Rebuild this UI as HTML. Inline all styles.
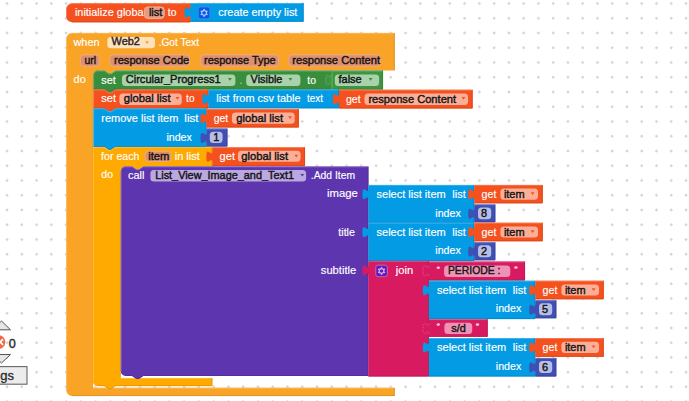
<!DOCTYPE html>
<html><head><meta charset="utf-8"><style>
html,body{margin:0;padding:0;background:#fff;overflow:hidden}
svg{display:block;font-family:"Liberation Sans",Arial,sans-serif}
</style></head><body>
<svg width="689" height="401" viewBox="0 0 689 401">
<rect width="689" height="401" fill="#fff"/>
<path d="M5.25,3.50h3.6M7.05,1.70v3.6M20.01,3.50h3.6M21.81,1.70v3.6M34.77,3.50h3.6M36.57,1.70v3.6M49.53,3.50h3.6M51.33,1.70v3.6M64.29,3.50h3.6M66.09,1.70v3.6M79.05,3.50h3.6M80.85,1.70v3.6M93.81,3.50h3.6M95.61,1.70v3.6M108.57,3.50h3.6M110.37,1.70v3.6M123.33,3.50h3.6M125.13,1.70v3.6M138.09,3.50h3.6M139.89,1.70v3.6M152.85,3.50h3.6M154.65,1.70v3.6M167.61,3.50h3.6M169.41,1.70v3.6M182.37,3.50h3.6M184.17,1.70v3.6M197.13,3.50h3.6M198.93,1.70v3.6M211.89,3.50h3.6M213.69,1.70v3.6M226.65,3.50h3.6M228.45,1.70v3.6M241.41,3.50h3.6M243.21,1.70v3.6M256.17,3.50h3.6M257.97,1.70v3.6M270.93,3.50h3.6M272.73,1.70v3.6M285.69,3.50h3.6M287.49,1.70v3.6M300.45,3.50h3.6M302.25,1.70v3.6M315.21,3.50h3.6M317.01,1.70v3.6M329.97,3.50h3.6M331.77,1.70v3.6M344.73,3.50h3.6M346.53,1.70v3.6M359.49,3.50h3.6M361.29,1.70v3.6M374.25,3.50h3.6M376.05,1.70v3.6M389.01,3.50h3.6M390.81,1.70v3.6M403.77,3.50h3.6M405.57,1.70v3.6M418.53,3.50h3.6M420.33,1.70v3.6M433.29,3.50h3.6M435.09,1.70v3.6M448.05,3.50h3.6M449.85,1.70v3.6M462.81,3.50h3.6M464.61,1.70v3.6M477.57,3.50h3.6M479.37,1.70v3.6M492.33,3.50h3.6M494.13,1.70v3.6M507.09,3.50h3.6M508.89,1.70v3.6M521.85,3.50h3.6M523.65,1.70v3.6M536.61,3.50h3.6M538.41,1.70v3.6M551.37,3.50h3.6M553.17,1.70v3.6M566.13,3.50h3.6M567.93,1.70v3.6M580.89,3.50h3.6M582.69,1.70v3.6M595.65,3.50h3.6M597.45,1.70v3.6M610.41,3.50h3.6M612.21,1.70v3.6M625.17,3.50h3.6M626.97,1.70v3.6M639.93,3.50h3.6M641.73,1.70v3.6M654.69,3.50h3.6M656.49,1.70v3.6M669.45,3.50h3.6M671.25,1.70v3.6M684.21,3.50h3.6M686.01,1.70v3.6M5.25,18.24h3.6M7.05,16.44v3.6M20.01,18.24h3.6M21.81,16.44v3.6M34.77,18.24h3.6M36.57,16.44v3.6M49.53,18.24h3.6M51.33,16.44v3.6M64.29,18.24h3.6M66.09,16.44v3.6M79.05,18.24h3.6M80.85,16.44v3.6M93.81,18.24h3.6M95.61,16.44v3.6M108.57,18.24h3.6M110.37,16.44v3.6M123.33,18.24h3.6M125.13,16.44v3.6M138.09,18.24h3.6M139.89,16.44v3.6M152.85,18.24h3.6M154.65,16.44v3.6M167.61,18.24h3.6M169.41,16.44v3.6M182.37,18.24h3.6M184.17,16.44v3.6M197.13,18.24h3.6M198.93,16.44v3.6M211.89,18.24h3.6M213.69,16.44v3.6M226.65,18.24h3.6M228.45,16.44v3.6M241.41,18.24h3.6M243.21,16.44v3.6M256.17,18.24h3.6M257.97,16.44v3.6M270.93,18.24h3.6M272.73,16.44v3.6M285.69,18.24h3.6M287.49,16.44v3.6M300.45,18.24h3.6M302.25,16.44v3.6M315.21,18.24h3.6M317.01,16.44v3.6M329.97,18.24h3.6M331.77,16.44v3.6M344.73,18.24h3.6M346.53,16.44v3.6M359.49,18.24h3.6M361.29,16.44v3.6M374.25,18.24h3.6M376.05,16.44v3.6M389.01,18.24h3.6M390.81,16.44v3.6M403.77,18.24h3.6M405.57,16.44v3.6M418.53,18.24h3.6M420.33,16.44v3.6M433.29,18.24h3.6M435.09,16.44v3.6M448.05,18.24h3.6M449.85,16.44v3.6M462.81,18.24h3.6M464.61,16.44v3.6M477.57,18.24h3.6M479.37,16.44v3.6M492.33,18.24h3.6M494.13,16.44v3.6M507.09,18.24h3.6M508.89,16.44v3.6M521.85,18.24h3.6M523.65,16.44v3.6M536.61,18.24h3.6M538.41,16.44v3.6M551.37,18.24h3.6M553.17,16.44v3.6M566.13,18.24h3.6M567.93,16.44v3.6M580.89,18.24h3.6M582.69,16.44v3.6M595.65,18.24h3.6M597.45,16.44v3.6M610.41,18.24h3.6M612.21,16.44v3.6M625.17,18.24h3.6M626.97,16.44v3.6M639.93,18.24h3.6M641.73,16.44v3.6M654.69,18.24h3.6M656.49,16.44v3.6M669.45,18.24h3.6M671.25,16.44v3.6M684.21,18.24h3.6M686.01,16.44v3.6M5.25,32.99h3.6M7.05,31.19v3.6M20.01,32.99h3.6M21.81,31.19v3.6M34.77,32.99h3.6M36.57,31.19v3.6M49.53,32.99h3.6M51.33,31.19v3.6M64.29,32.99h3.6M66.09,31.19v3.6M79.05,32.99h3.6M80.85,31.19v3.6M93.81,32.99h3.6M95.61,31.19v3.6M108.57,32.99h3.6M110.37,31.19v3.6M123.33,32.99h3.6M125.13,31.19v3.6M138.09,32.99h3.6M139.89,31.19v3.6M152.85,32.99h3.6M154.65,31.19v3.6M167.61,32.99h3.6M169.41,31.19v3.6M182.37,32.99h3.6M184.17,31.19v3.6M197.13,32.99h3.6M198.93,31.19v3.6M211.89,32.99h3.6M213.69,31.19v3.6M226.65,32.99h3.6M228.45,31.19v3.6M241.41,32.99h3.6M243.21,31.19v3.6M256.17,32.99h3.6M257.97,31.19v3.6M270.93,32.99h3.6M272.73,31.19v3.6M285.69,32.99h3.6M287.49,31.19v3.6M300.45,32.99h3.6M302.25,31.19v3.6M315.21,32.99h3.6M317.01,31.19v3.6M329.97,32.99h3.6M331.77,31.19v3.6M344.73,32.99h3.6M346.53,31.19v3.6M359.49,32.99h3.6M361.29,31.19v3.6M374.25,32.99h3.6M376.05,31.19v3.6M389.01,32.99h3.6M390.81,31.19v3.6M403.77,32.99h3.6M405.57,31.19v3.6M418.53,32.99h3.6M420.33,31.19v3.6M433.29,32.99h3.6M435.09,31.19v3.6M448.05,32.99h3.6M449.85,31.19v3.6M462.81,32.99h3.6M464.61,31.19v3.6M477.57,32.99h3.6M479.37,31.19v3.6M492.33,32.99h3.6M494.13,31.19v3.6M507.09,32.99h3.6M508.89,31.19v3.6M521.85,32.99h3.6M523.65,31.19v3.6M536.61,32.99h3.6M538.41,31.19v3.6M551.37,32.99h3.6M553.17,31.19v3.6M566.13,32.99h3.6M567.93,31.19v3.6M580.89,32.99h3.6M582.69,31.19v3.6M595.65,32.99h3.6M597.45,31.19v3.6M610.41,32.99h3.6M612.21,31.19v3.6M625.17,32.99h3.6M626.97,31.19v3.6M639.93,32.99h3.6M641.73,31.19v3.6M654.69,32.99h3.6M656.49,31.19v3.6M669.45,32.99h3.6M671.25,31.19v3.6M684.21,32.99h3.6M686.01,31.19v3.6M5.25,47.73h3.6M7.05,45.93v3.6M20.01,47.73h3.6M21.81,45.93v3.6M34.77,47.73h3.6M36.57,45.93v3.6M49.53,47.73h3.6M51.33,45.93v3.6M64.29,47.73h3.6M66.09,45.93v3.6M79.05,47.73h3.6M80.85,45.93v3.6M93.81,47.73h3.6M95.61,45.93v3.6M108.57,47.73h3.6M110.37,45.93v3.6M123.33,47.73h3.6M125.13,45.93v3.6M138.09,47.73h3.6M139.89,45.93v3.6M152.85,47.73h3.6M154.65,45.93v3.6M167.61,47.73h3.6M169.41,45.93v3.6M182.37,47.73h3.6M184.17,45.93v3.6M197.13,47.73h3.6M198.93,45.93v3.6M211.89,47.73h3.6M213.69,45.93v3.6M226.65,47.73h3.6M228.45,45.93v3.6M241.41,47.73h3.6M243.21,45.93v3.6M256.17,47.73h3.6M257.97,45.93v3.6M270.93,47.73h3.6M272.73,45.93v3.6M285.69,47.73h3.6M287.49,45.93v3.6M300.45,47.73h3.6M302.25,45.93v3.6M315.21,47.73h3.6M317.01,45.93v3.6M329.97,47.73h3.6M331.77,45.93v3.6M344.73,47.73h3.6M346.53,45.93v3.6M359.49,47.73h3.6M361.29,45.93v3.6M374.25,47.73h3.6M376.05,45.93v3.6M389.01,47.73h3.6M390.81,45.93v3.6M403.77,47.73h3.6M405.57,45.93v3.6M418.53,47.73h3.6M420.33,45.93v3.6M433.29,47.73h3.6M435.09,45.93v3.6M448.05,47.73h3.6M449.85,45.93v3.6M462.81,47.73h3.6M464.61,45.93v3.6M477.57,47.73h3.6M479.37,45.93v3.6M492.33,47.73h3.6M494.13,45.93v3.6M507.09,47.73h3.6M508.89,45.93v3.6M521.85,47.73h3.6M523.65,45.93v3.6M536.61,47.73h3.6M538.41,45.93v3.6M551.37,47.73h3.6M553.17,45.93v3.6M566.13,47.73h3.6M567.93,45.93v3.6M580.89,47.73h3.6M582.69,45.93v3.6M595.65,47.73h3.6M597.45,45.93v3.6M610.41,47.73h3.6M612.21,45.93v3.6M625.17,47.73h3.6M626.97,45.93v3.6M639.93,47.73h3.6M641.73,45.93v3.6M654.69,47.73h3.6M656.49,45.93v3.6M669.45,47.73h3.6M671.25,45.93v3.6M684.21,47.73h3.6M686.01,45.93v3.6M5.25,62.48h3.6M7.05,60.68v3.6M20.01,62.48h3.6M21.81,60.68v3.6M34.77,62.48h3.6M36.57,60.68v3.6M49.53,62.48h3.6M51.33,60.68v3.6M64.29,62.48h3.6M66.09,60.68v3.6M79.05,62.48h3.6M80.85,60.68v3.6M93.81,62.48h3.6M95.61,60.68v3.6M108.57,62.48h3.6M110.37,60.68v3.6M123.33,62.48h3.6M125.13,60.68v3.6M138.09,62.48h3.6M139.89,60.68v3.6M152.85,62.48h3.6M154.65,60.68v3.6M167.61,62.48h3.6M169.41,60.68v3.6M182.37,62.48h3.6M184.17,60.68v3.6M197.13,62.48h3.6M198.93,60.68v3.6M211.89,62.48h3.6M213.69,60.68v3.6M226.65,62.48h3.6M228.45,60.68v3.6M241.41,62.48h3.6M243.21,60.68v3.6M256.17,62.48h3.6M257.97,60.68v3.6M270.93,62.48h3.6M272.73,60.68v3.6M285.69,62.48h3.6M287.49,60.68v3.6M300.45,62.48h3.6M302.25,60.68v3.6M315.21,62.48h3.6M317.01,60.68v3.6M329.97,62.48h3.6M331.77,60.68v3.6M344.73,62.48h3.6M346.53,60.68v3.6M359.49,62.48h3.6M361.29,60.68v3.6M374.25,62.48h3.6M376.05,60.68v3.6M389.01,62.48h3.6M390.81,60.68v3.6M403.77,62.48h3.6M405.57,60.68v3.6M418.53,62.48h3.6M420.33,60.68v3.6M433.29,62.48h3.6M435.09,60.68v3.6M448.05,62.48h3.6M449.85,60.68v3.6M462.81,62.48h3.6M464.61,60.68v3.6M477.57,62.48h3.6M479.37,60.68v3.6M492.33,62.48h3.6M494.13,60.68v3.6M507.09,62.48h3.6M508.89,60.68v3.6M521.85,62.48h3.6M523.65,60.68v3.6M536.61,62.48h3.6M538.41,60.68v3.6M551.37,62.48h3.6M553.17,60.68v3.6M566.13,62.48h3.6M567.93,60.68v3.6M580.89,62.48h3.6M582.69,60.68v3.6M595.65,62.48h3.6M597.45,60.68v3.6M610.41,62.48h3.6M612.21,60.68v3.6M625.17,62.48h3.6M626.97,60.68v3.6M639.93,62.48h3.6M641.73,60.68v3.6M654.69,62.48h3.6M656.49,60.68v3.6M669.45,62.48h3.6M671.25,60.68v3.6M684.21,62.48h3.6M686.01,60.68v3.6M5.25,77.22h3.6M7.05,75.42v3.6M20.01,77.22h3.6M21.81,75.42v3.6M34.77,77.22h3.6M36.57,75.42v3.6M49.53,77.22h3.6M51.33,75.42v3.6M64.29,77.22h3.6M66.09,75.42v3.6M79.05,77.22h3.6M80.85,75.42v3.6M93.81,77.22h3.6M95.61,75.42v3.6M108.57,77.22h3.6M110.37,75.42v3.6M123.33,77.22h3.6M125.13,75.42v3.6M138.09,77.22h3.6M139.89,75.42v3.6M152.85,77.22h3.6M154.65,75.42v3.6M167.61,77.22h3.6M169.41,75.42v3.6M182.37,77.22h3.6M184.17,75.42v3.6M197.13,77.22h3.6M198.93,75.42v3.6M211.89,77.22h3.6M213.69,75.42v3.6M226.65,77.22h3.6M228.45,75.42v3.6M241.41,77.22h3.6M243.21,75.42v3.6M256.17,77.22h3.6M257.97,75.42v3.6M270.93,77.22h3.6M272.73,75.42v3.6M285.69,77.22h3.6M287.49,75.42v3.6M300.45,77.22h3.6M302.25,75.42v3.6M315.21,77.22h3.6M317.01,75.42v3.6M329.97,77.22h3.6M331.77,75.42v3.6M344.73,77.22h3.6M346.53,75.42v3.6M359.49,77.22h3.6M361.29,75.42v3.6M374.25,77.22h3.6M376.05,75.42v3.6M389.01,77.22h3.6M390.81,75.42v3.6M403.77,77.22h3.6M405.57,75.42v3.6M418.53,77.22h3.6M420.33,75.42v3.6M433.29,77.22h3.6M435.09,75.42v3.6M448.05,77.22h3.6M449.85,75.42v3.6M462.81,77.22h3.6M464.61,75.42v3.6M477.57,77.22h3.6M479.37,75.42v3.6M492.33,77.22h3.6M494.13,75.42v3.6M507.09,77.22h3.6M508.89,75.42v3.6M521.85,77.22h3.6M523.65,75.42v3.6M536.61,77.22h3.6M538.41,75.42v3.6M551.37,77.22h3.6M553.17,75.42v3.6M566.13,77.22h3.6M567.93,75.42v3.6M580.89,77.22h3.6M582.69,75.42v3.6M595.65,77.22h3.6M597.45,75.42v3.6M610.41,77.22h3.6M612.21,75.42v3.6M625.17,77.22h3.6M626.97,75.42v3.6M639.93,77.22h3.6M641.73,75.42v3.6M654.69,77.22h3.6M656.49,75.42v3.6M669.45,77.22h3.6M671.25,75.42v3.6M684.21,77.22h3.6M686.01,75.42v3.6M5.25,91.97h3.6M7.05,90.17v3.6M20.01,91.97h3.6M21.81,90.17v3.6M34.77,91.97h3.6M36.57,90.17v3.6M49.53,91.97h3.6M51.33,90.17v3.6M64.29,91.97h3.6M66.09,90.17v3.6M79.05,91.97h3.6M80.85,90.17v3.6M93.81,91.97h3.6M95.61,90.17v3.6M108.57,91.97h3.6M110.37,90.17v3.6M123.33,91.97h3.6M125.13,90.17v3.6M138.09,91.97h3.6M139.89,90.17v3.6M152.85,91.97h3.6M154.65,90.17v3.6M167.61,91.97h3.6M169.41,90.17v3.6M182.37,91.97h3.6M184.17,90.17v3.6M197.13,91.97h3.6M198.93,90.17v3.6M211.89,91.97h3.6M213.69,90.17v3.6M226.65,91.97h3.6M228.45,90.17v3.6M241.41,91.97h3.6M243.21,90.17v3.6M256.17,91.97h3.6M257.97,90.17v3.6M270.93,91.97h3.6M272.73,90.17v3.6M285.69,91.97h3.6M287.49,90.17v3.6M300.45,91.97h3.6M302.25,90.17v3.6M315.21,91.97h3.6M317.01,90.17v3.6M329.97,91.97h3.6M331.77,90.17v3.6M344.73,91.97h3.6M346.53,90.17v3.6M359.49,91.97h3.6M361.29,90.17v3.6M374.25,91.97h3.6M376.05,90.17v3.6M389.01,91.97h3.6M390.81,90.17v3.6M403.77,91.97h3.6M405.57,90.17v3.6M418.53,91.97h3.6M420.33,90.17v3.6M433.29,91.97h3.6M435.09,90.17v3.6M448.05,91.97h3.6M449.85,90.17v3.6M462.81,91.97h3.6M464.61,90.17v3.6M477.57,91.97h3.6M479.37,90.17v3.6M492.33,91.97h3.6M494.13,90.17v3.6M507.09,91.97h3.6M508.89,90.17v3.6M521.85,91.97h3.6M523.65,90.17v3.6M536.61,91.97h3.6M538.41,90.17v3.6M551.37,91.97h3.6M553.17,90.17v3.6M566.13,91.97h3.6M567.93,90.17v3.6M580.89,91.97h3.6M582.69,90.17v3.6M595.65,91.97h3.6M597.45,90.17v3.6M610.41,91.97h3.6M612.21,90.17v3.6M625.17,91.97h3.6M626.97,90.17v3.6M639.93,91.97h3.6M641.73,90.17v3.6M654.69,91.97h3.6M656.49,90.17v3.6M669.45,91.97h3.6M671.25,90.17v3.6M684.21,91.97h3.6M686.01,90.17v3.6M5.25,106.72h3.6M7.05,104.92v3.6M20.01,106.72h3.6M21.81,104.92v3.6M34.77,106.72h3.6M36.57,104.92v3.6M49.53,106.72h3.6M51.33,104.92v3.6M64.29,106.72h3.6M66.09,104.92v3.6M79.05,106.72h3.6M80.85,104.92v3.6M93.81,106.72h3.6M95.61,104.92v3.6M108.57,106.72h3.6M110.37,104.92v3.6M123.33,106.72h3.6M125.13,104.92v3.6M138.09,106.72h3.6M139.89,104.92v3.6M152.85,106.72h3.6M154.65,104.92v3.6M167.61,106.72h3.6M169.41,104.92v3.6M182.37,106.72h3.6M184.17,104.92v3.6M197.13,106.72h3.6M198.93,104.92v3.6M211.89,106.72h3.6M213.69,104.92v3.6M226.65,106.72h3.6M228.45,104.92v3.6M241.41,106.72h3.6M243.21,104.92v3.6M256.17,106.72h3.6M257.97,104.92v3.6M270.93,106.72h3.6M272.73,104.92v3.6M285.69,106.72h3.6M287.49,104.92v3.6M300.45,106.72h3.6M302.25,104.92v3.6M315.21,106.72h3.6M317.01,104.92v3.6M329.97,106.72h3.6M331.77,104.92v3.6M344.73,106.72h3.6M346.53,104.92v3.6M359.49,106.72h3.6M361.29,104.92v3.6M374.25,106.72h3.6M376.05,104.92v3.6M389.01,106.72h3.6M390.81,104.92v3.6M403.77,106.72h3.6M405.57,104.92v3.6M418.53,106.72h3.6M420.33,104.92v3.6M433.29,106.72h3.6M435.09,104.92v3.6M448.05,106.72h3.6M449.85,104.92v3.6M462.81,106.72h3.6M464.61,104.92v3.6M477.57,106.72h3.6M479.37,104.92v3.6M492.33,106.72h3.6M494.13,104.92v3.6M507.09,106.72h3.6M508.89,104.92v3.6M521.85,106.72h3.6M523.65,104.92v3.6M536.61,106.72h3.6M538.41,104.92v3.6M551.37,106.72h3.6M553.17,104.92v3.6M566.13,106.72h3.6M567.93,104.92v3.6M580.89,106.72h3.6M582.69,104.92v3.6M595.65,106.72h3.6M597.45,104.92v3.6M610.41,106.72h3.6M612.21,104.92v3.6M625.17,106.72h3.6M626.97,104.92v3.6M639.93,106.72h3.6M641.73,104.92v3.6M654.69,106.72h3.6M656.49,104.92v3.6M669.45,106.72h3.6M671.25,104.92v3.6M684.21,106.72h3.6M686.01,104.92v3.6M5.25,121.46h3.6M7.05,119.66v3.6M20.01,121.46h3.6M21.81,119.66v3.6M34.77,121.46h3.6M36.57,119.66v3.6M49.53,121.46h3.6M51.33,119.66v3.6M64.29,121.46h3.6M66.09,119.66v3.6M79.05,121.46h3.6M80.85,119.66v3.6M93.81,121.46h3.6M95.61,119.66v3.6M108.57,121.46h3.6M110.37,119.66v3.6M123.33,121.46h3.6M125.13,119.66v3.6M138.09,121.46h3.6M139.89,119.66v3.6M152.85,121.46h3.6M154.65,119.66v3.6M167.61,121.46h3.6M169.41,119.66v3.6M182.37,121.46h3.6M184.17,119.66v3.6M197.13,121.46h3.6M198.93,119.66v3.6M211.89,121.46h3.6M213.69,119.66v3.6M226.65,121.46h3.6M228.45,119.66v3.6M241.41,121.46h3.6M243.21,119.66v3.6M256.17,121.46h3.6M257.97,119.66v3.6M270.93,121.46h3.6M272.73,119.66v3.6M285.69,121.46h3.6M287.49,119.66v3.6M300.45,121.46h3.6M302.25,119.66v3.6M315.21,121.46h3.6M317.01,119.66v3.6M329.97,121.46h3.6M331.77,119.66v3.6M344.73,121.46h3.6M346.53,119.66v3.6M359.49,121.46h3.6M361.29,119.66v3.6M374.25,121.46h3.6M376.05,119.66v3.6M389.01,121.46h3.6M390.81,119.66v3.6M403.77,121.46h3.6M405.57,119.66v3.6M418.53,121.46h3.6M420.33,119.66v3.6M433.29,121.46h3.6M435.09,119.66v3.6M448.05,121.46h3.6M449.85,119.66v3.6M462.81,121.46h3.6M464.61,119.66v3.6M477.57,121.46h3.6M479.37,119.66v3.6M492.33,121.46h3.6M494.13,119.66v3.6M507.09,121.46h3.6M508.89,119.66v3.6M521.85,121.46h3.6M523.65,119.66v3.6M536.61,121.46h3.6M538.41,119.66v3.6M551.37,121.46h3.6M553.17,119.66v3.6M566.13,121.46h3.6M567.93,119.66v3.6M580.89,121.46h3.6M582.69,119.66v3.6M595.65,121.46h3.6M597.45,119.66v3.6M610.41,121.46h3.6M612.21,119.66v3.6M625.17,121.46h3.6M626.97,119.66v3.6M639.93,121.46h3.6M641.73,119.66v3.6M654.69,121.46h3.6M656.49,119.66v3.6M669.45,121.46h3.6M671.25,119.66v3.6M684.21,121.46h3.6M686.01,119.66v3.6M5.25,136.21h3.6M7.05,134.41v3.6M20.01,136.21h3.6M21.81,134.41v3.6M34.77,136.21h3.6M36.57,134.41v3.6M49.53,136.21h3.6M51.33,134.41v3.6M64.29,136.21h3.6M66.09,134.41v3.6M79.05,136.21h3.6M80.85,134.41v3.6M93.81,136.21h3.6M95.61,134.41v3.6M108.57,136.21h3.6M110.37,134.41v3.6M123.33,136.21h3.6M125.13,134.41v3.6M138.09,136.21h3.6M139.89,134.41v3.6M152.85,136.21h3.6M154.65,134.41v3.6M167.61,136.21h3.6M169.41,134.41v3.6M182.37,136.21h3.6M184.17,134.41v3.6M197.13,136.21h3.6M198.93,134.41v3.6M211.89,136.21h3.6M213.69,134.41v3.6M226.65,136.21h3.6M228.45,134.41v3.6M241.41,136.21h3.6M243.21,134.41v3.6M256.17,136.21h3.6M257.97,134.41v3.6M270.93,136.21h3.6M272.73,134.41v3.6M285.69,136.21h3.6M287.49,134.41v3.6M300.45,136.21h3.6M302.25,134.41v3.6M315.21,136.21h3.6M317.01,134.41v3.6M329.97,136.21h3.6M331.77,134.41v3.6M344.73,136.21h3.6M346.53,134.41v3.6M359.49,136.21h3.6M361.29,134.41v3.6M374.25,136.21h3.6M376.05,134.41v3.6M389.01,136.21h3.6M390.81,134.41v3.6M403.77,136.21h3.6M405.57,134.41v3.6M418.53,136.21h3.6M420.33,134.41v3.6M433.29,136.21h3.6M435.09,134.41v3.6M448.05,136.21h3.6M449.85,134.41v3.6M462.81,136.21h3.6M464.61,134.41v3.6M477.57,136.21h3.6M479.37,134.41v3.6M492.33,136.21h3.6M494.13,134.41v3.6M507.09,136.21h3.6M508.89,134.41v3.6M521.85,136.21h3.6M523.65,134.41v3.6M536.61,136.21h3.6M538.41,134.41v3.6M551.37,136.21h3.6M553.17,134.41v3.6M566.13,136.21h3.6M567.93,134.41v3.6M580.89,136.21h3.6M582.69,134.41v3.6M595.65,136.21h3.6M597.45,134.41v3.6M610.41,136.21h3.6M612.21,134.41v3.6M625.17,136.21h3.6M626.97,134.41v3.6M639.93,136.21h3.6M641.73,134.41v3.6M654.69,136.21h3.6M656.49,134.41v3.6M669.45,136.21h3.6M671.25,134.41v3.6M684.21,136.21h3.6M686.01,134.41v3.6M5.25,150.95h3.6M7.05,149.15v3.6M20.01,150.95h3.6M21.81,149.15v3.6M34.77,150.95h3.6M36.57,149.15v3.6M49.53,150.95h3.6M51.33,149.15v3.6M64.29,150.95h3.6M66.09,149.15v3.6M79.05,150.95h3.6M80.85,149.15v3.6M93.81,150.95h3.6M95.61,149.15v3.6M108.57,150.95h3.6M110.37,149.15v3.6M123.33,150.95h3.6M125.13,149.15v3.6M138.09,150.95h3.6M139.89,149.15v3.6M152.85,150.95h3.6M154.65,149.15v3.6M167.61,150.95h3.6M169.41,149.15v3.6M182.37,150.95h3.6M184.17,149.15v3.6M197.13,150.95h3.6M198.93,149.15v3.6M211.89,150.95h3.6M213.69,149.15v3.6M226.65,150.95h3.6M228.45,149.15v3.6M241.41,150.95h3.6M243.21,149.15v3.6M256.17,150.95h3.6M257.97,149.15v3.6M270.93,150.95h3.6M272.73,149.15v3.6M285.69,150.95h3.6M287.49,149.15v3.6M300.45,150.95h3.6M302.25,149.15v3.6M315.21,150.95h3.6M317.01,149.15v3.6M329.97,150.95h3.6M331.77,149.15v3.6M344.73,150.95h3.6M346.53,149.15v3.6M359.49,150.95h3.6M361.29,149.15v3.6M374.25,150.95h3.6M376.05,149.15v3.6M389.01,150.95h3.6M390.81,149.15v3.6M403.77,150.95h3.6M405.57,149.15v3.6M418.53,150.95h3.6M420.33,149.15v3.6M433.29,150.95h3.6M435.09,149.15v3.6M448.05,150.95h3.6M449.85,149.15v3.6M462.81,150.95h3.6M464.61,149.15v3.6M477.57,150.95h3.6M479.37,149.15v3.6M492.33,150.95h3.6M494.13,149.15v3.6M507.09,150.95h3.6M508.89,149.15v3.6M521.85,150.95h3.6M523.65,149.15v3.6M536.61,150.95h3.6M538.41,149.15v3.6M551.37,150.95h3.6M553.17,149.15v3.6M566.13,150.95h3.6M567.93,149.15v3.6M580.89,150.95h3.6M582.69,149.15v3.6M595.65,150.95h3.6M597.45,149.15v3.6M610.41,150.95h3.6M612.21,149.15v3.6M625.17,150.95h3.6M626.97,149.15v3.6M639.93,150.95h3.6M641.73,149.15v3.6M654.69,150.95h3.6M656.49,149.15v3.6M669.45,150.95h3.6M671.25,149.15v3.6M684.21,150.95h3.6M686.01,149.15v3.6M5.25,165.70h3.6M7.05,163.90v3.6M20.01,165.70h3.6M21.81,163.90v3.6M34.77,165.70h3.6M36.57,163.90v3.6M49.53,165.70h3.6M51.33,163.90v3.6M64.29,165.70h3.6M66.09,163.90v3.6M79.05,165.70h3.6M80.85,163.90v3.6M93.81,165.70h3.6M95.61,163.90v3.6M108.57,165.70h3.6M110.37,163.90v3.6M123.33,165.70h3.6M125.13,163.90v3.6M138.09,165.70h3.6M139.89,163.90v3.6M152.85,165.70h3.6M154.65,163.90v3.6M167.61,165.70h3.6M169.41,163.90v3.6M182.37,165.70h3.6M184.17,163.90v3.6M197.13,165.70h3.6M198.93,163.90v3.6M211.89,165.70h3.6M213.69,163.90v3.6M226.65,165.70h3.6M228.45,163.90v3.6M241.41,165.70h3.6M243.21,163.90v3.6M256.17,165.70h3.6M257.97,163.90v3.6M270.93,165.70h3.6M272.73,163.90v3.6M285.69,165.70h3.6M287.49,163.90v3.6M300.45,165.70h3.6M302.25,163.90v3.6M315.21,165.70h3.6M317.01,163.90v3.6M329.97,165.70h3.6M331.77,163.90v3.6M344.73,165.70h3.6M346.53,163.90v3.6M359.49,165.70h3.6M361.29,163.90v3.6M374.25,165.70h3.6M376.05,163.90v3.6M389.01,165.70h3.6M390.81,163.90v3.6M403.77,165.70h3.6M405.57,163.90v3.6M418.53,165.70h3.6M420.33,163.90v3.6M433.29,165.70h3.6M435.09,163.90v3.6M448.05,165.70h3.6M449.85,163.90v3.6M462.81,165.70h3.6M464.61,163.90v3.6M477.57,165.70h3.6M479.37,163.90v3.6M492.33,165.70h3.6M494.13,163.90v3.6M507.09,165.70h3.6M508.89,163.90v3.6M521.85,165.70h3.6M523.65,163.90v3.6M536.61,165.70h3.6M538.41,163.90v3.6M551.37,165.70h3.6M553.17,163.90v3.6M566.13,165.70h3.6M567.93,163.90v3.6M580.89,165.70h3.6M582.69,163.90v3.6M595.65,165.70h3.6M597.45,163.90v3.6M610.41,165.70h3.6M612.21,163.90v3.6M625.17,165.70h3.6M626.97,163.90v3.6M639.93,165.70h3.6M641.73,163.90v3.6M654.69,165.70h3.6M656.49,163.90v3.6M669.45,165.70h3.6M671.25,163.90v3.6M684.21,165.70h3.6M686.01,163.90v3.6M5.25,180.44h3.6M7.05,178.64v3.6M20.01,180.44h3.6M21.81,178.64v3.6M34.77,180.44h3.6M36.57,178.64v3.6M49.53,180.44h3.6M51.33,178.64v3.6M64.29,180.44h3.6M66.09,178.64v3.6M79.05,180.44h3.6M80.85,178.64v3.6M93.81,180.44h3.6M95.61,178.64v3.6M108.57,180.44h3.6M110.37,178.64v3.6M123.33,180.44h3.6M125.13,178.64v3.6M138.09,180.44h3.6M139.89,178.64v3.6M152.85,180.44h3.6M154.65,178.64v3.6M167.61,180.44h3.6M169.41,178.64v3.6M182.37,180.44h3.6M184.17,178.64v3.6M197.13,180.44h3.6M198.93,178.64v3.6M211.89,180.44h3.6M213.69,178.64v3.6M226.65,180.44h3.6M228.45,178.64v3.6M241.41,180.44h3.6M243.21,178.64v3.6M256.17,180.44h3.6M257.97,178.64v3.6M270.93,180.44h3.6M272.73,178.64v3.6M285.69,180.44h3.6M287.49,178.64v3.6M300.45,180.44h3.6M302.25,178.64v3.6M315.21,180.44h3.6M317.01,178.64v3.6M329.97,180.44h3.6M331.77,178.64v3.6M344.73,180.44h3.6M346.53,178.64v3.6M359.49,180.44h3.6M361.29,178.64v3.6M374.25,180.44h3.6M376.05,178.64v3.6M389.01,180.44h3.6M390.81,178.64v3.6M403.77,180.44h3.6M405.57,178.64v3.6M418.53,180.44h3.6M420.33,178.64v3.6M433.29,180.44h3.6M435.09,178.64v3.6M448.05,180.44h3.6M449.85,178.64v3.6M462.81,180.44h3.6M464.61,178.64v3.6M477.57,180.44h3.6M479.37,178.64v3.6M492.33,180.44h3.6M494.13,178.64v3.6M507.09,180.44h3.6M508.89,178.64v3.6M521.85,180.44h3.6M523.65,178.64v3.6M536.61,180.44h3.6M538.41,178.64v3.6M551.37,180.44h3.6M553.17,178.64v3.6M566.13,180.44h3.6M567.93,178.64v3.6M580.89,180.44h3.6M582.69,178.64v3.6M595.65,180.44h3.6M597.45,178.64v3.6M610.41,180.44h3.6M612.21,178.64v3.6M625.17,180.44h3.6M626.97,178.64v3.6M639.93,180.44h3.6M641.73,178.64v3.6M654.69,180.44h3.6M656.49,178.64v3.6M669.45,180.44h3.6M671.25,178.64v3.6M684.21,180.44h3.6M686.01,178.64v3.6M5.25,195.19h3.6M7.05,193.39v3.6M20.01,195.19h3.6M21.81,193.39v3.6M34.77,195.19h3.6M36.57,193.39v3.6M49.53,195.19h3.6M51.33,193.39v3.6M64.29,195.19h3.6M66.09,193.39v3.6M79.05,195.19h3.6M80.85,193.39v3.6M93.81,195.19h3.6M95.61,193.39v3.6M108.57,195.19h3.6M110.37,193.39v3.6M123.33,195.19h3.6M125.13,193.39v3.6M138.09,195.19h3.6M139.89,193.39v3.6M152.85,195.19h3.6M154.65,193.39v3.6M167.61,195.19h3.6M169.41,193.39v3.6M182.37,195.19h3.6M184.17,193.39v3.6M197.13,195.19h3.6M198.93,193.39v3.6M211.89,195.19h3.6M213.69,193.39v3.6M226.65,195.19h3.6M228.45,193.39v3.6M241.41,195.19h3.6M243.21,193.39v3.6M256.17,195.19h3.6M257.97,193.39v3.6M270.93,195.19h3.6M272.73,193.39v3.6M285.69,195.19h3.6M287.49,193.39v3.6M300.45,195.19h3.6M302.25,193.39v3.6M315.21,195.19h3.6M317.01,193.39v3.6M329.97,195.19h3.6M331.77,193.39v3.6M344.73,195.19h3.6M346.53,193.39v3.6M359.49,195.19h3.6M361.29,193.39v3.6M374.25,195.19h3.6M376.05,193.39v3.6M389.01,195.19h3.6M390.81,193.39v3.6M403.77,195.19h3.6M405.57,193.39v3.6M418.53,195.19h3.6M420.33,193.39v3.6M433.29,195.19h3.6M435.09,193.39v3.6M448.05,195.19h3.6M449.85,193.39v3.6M462.81,195.19h3.6M464.61,193.39v3.6M477.57,195.19h3.6M479.37,193.39v3.6M492.33,195.19h3.6M494.13,193.39v3.6M507.09,195.19h3.6M508.89,193.39v3.6M521.85,195.19h3.6M523.65,193.39v3.6M536.61,195.19h3.6M538.41,193.39v3.6M551.37,195.19h3.6M553.17,193.39v3.6M566.13,195.19h3.6M567.93,193.39v3.6M580.89,195.19h3.6M582.69,193.39v3.6M595.65,195.19h3.6M597.45,193.39v3.6M610.41,195.19h3.6M612.21,193.39v3.6M625.17,195.19h3.6M626.97,193.39v3.6M639.93,195.19h3.6M641.73,193.39v3.6M654.69,195.19h3.6M656.49,193.39v3.6M669.45,195.19h3.6M671.25,193.39v3.6M684.21,195.19h3.6M686.01,193.39v3.6M5.25,209.93h3.6M7.05,208.13v3.6M20.01,209.93h3.6M21.81,208.13v3.6M34.77,209.93h3.6M36.57,208.13v3.6M49.53,209.93h3.6M51.33,208.13v3.6M64.29,209.93h3.6M66.09,208.13v3.6M79.05,209.93h3.6M80.85,208.13v3.6M93.81,209.93h3.6M95.61,208.13v3.6M108.57,209.93h3.6M110.37,208.13v3.6M123.33,209.93h3.6M125.13,208.13v3.6M138.09,209.93h3.6M139.89,208.13v3.6M152.85,209.93h3.6M154.65,208.13v3.6M167.61,209.93h3.6M169.41,208.13v3.6M182.37,209.93h3.6M184.17,208.13v3.6M197.13,209.93h3.6M198.93,208.13v3.6M211.89,209.93h3.6M213.69,208.13v3.6M226.65,209.93h3.6M228.45,208.13v3.6M241.41,209.93h3.6M243.21,208.13v3.6M256.17,209.93h3.6M257.97,208.13v3.6M270.93,209.93h3.6M272.73,208.13v3.6M285.69,209.93h3.6M287.49,208.13v3.6M300.45,209.93h3.6M302.25,208.13v3.6M315.21,209.93h3.6M317.01,208.13v3.6M329.97,209.93h3.6M331.77,208.13v3.6M344.73,209.93h3.6M346.53,208.13v3.6M359.49,209.93h3.6M361.29,208.13v3.6M374.25,209.93h3.6M376.05,208.13v3.6M389.01,209.93h3.6M390.81,208.13v3.6M403.77,209.93h3.6M405.57,208.13v3.6M418.53,209.93h3.6M420.33,208.13v3.6M433.29,209.93h3.6M435.09,208.13v3.6M448.05,209.93h3.6M449.85,208.13v3.6M462.81,209.93h3.6M464.61,208.13v3.6M477.57,209.93h3.6M479.37,208.13v3.6M492.33,209.93h3.6M494.13,208.13v3.6M507.09,209.93h3.6M508.89,208.13v3.6M521.85,209.93h3.6M523.65,208.13v3.6M536.61,209.93h3.6M538.41,208.13v3.6M551.37,209.93h3.6M553.17,208.13v3.6M566.13,209.93h3.6M567.93,208.13v3.6M580.89,209.93h3.6M582.69,208.13v3.6M595.65,209.93h3.6M597.45,208.13v3.6M610.41,209.93h3.6M612.21,208.13v3.6M625.17,209.93h3.6M626.97,208.13v3.6M639.93,209.93h3.6M641.73,208.13v3.6M654.69,209.93h3.6M656.49,208.13v3.6M669.45,209.93h3.6M671.25,208.13v3.6M684.21,209.93h3.6M686.01,208.13v3.6M5.25,224.68h3.6M7.05,222.88v3.6M20.01,224.68h3.6M21.81,222.88v3.6M34.77,224.68h3.6M36.57,222.88v3.6M49.53,224.68h3.6M51.33,222.88v3.6M64.29,224.68h3.6M66.09,222.88v3.6M79.05,224.68h3.6M80.85,222.88v3.6M93.81,224.68h3.6M95.61,222.88v3.6M108.57,224.68h3.6M110.37,222.88v3.6M123.33,224.68h3.6M125.13,222.88v3.6M138.09,224.68h3.6M139.89,222.88v3.6M152.85,224.68h3.6M154.65,222.88v3.6M167.61,224.68h3.6M169.41,222.88v3.6M182.37,224.68h3.6M184.17,222.88v3.6M197.13,224.68h3.6M198.93,222.88v3.6M211.89,224.68h3.6M213.69,222.88v3.6M226.65,224.68h3.6M228.45,222.88v3.6M241.41,224.68h3.6M243.21,222.88v3.6M256.17,224.68h3.6M257.97,222.88v3.6M270.93,224.68h3.6M272.73,222.88v3.6M285.69,224.68h3.6M287.49,222.88v3.6M300.45,224.68h3.6M302.25,222.88v3.6M315.21,224.68h3.6M317.01,222.88v3.6M329.97,224.68h3.6M331.77,222.88v3.6M344.73,224.68h3.6M346.53,222.88v3.6M359.49,224.68h3.6M361.29,222.88v3.6M374.25,224.68h3.6M376.05,222.88v3.6M389.01,224.68h3.6M390.81,222.88v3.6M403.77,224.68h3.6M405.57,222.88v3.6M418.53,224.68h3.6M420.33,222.88v3.6M433.29,224.68h3.6M435.09,222.88v3.6M448.05,224.68h3.6M449.85,222.88v3.6M462.81,224.68h3.6M464.61,222.88v3.6M477.57,224.68h3.6M479.37,222.88v3.6M492.33,224.68h3.6M494.13,222.88v3.6M507.09,224.68h3.6M508.89,222.88v3.6M521.85,224.68h3.6M523.65,222.88v3.6M536.61,224.68h3.6M538.41,222.88v3.6M551.37,224.68h3.6M553.17,222.88v3.6M566.13,224.68h3.6M567.93,222.88v3.6M580.89,224.68h3.6M582.69,222.88v3.6M595.65,224.68h3.6M597.45,222.88v3.6M610.41,224.68h3.6M612.21,222.88v3.6M625.17,224.68h3.6M626.97,222.88v3.6M639.93,224.68h3.6M641.73,222.88v3.6M654.69,224.68h3.6M656.49,222.88v3.6M669.45,224.68h3.6M671.25,222.88v3.6M684.21,224.68h3.6M686.01,222.88v3.6M5.25,239.42h3.6M7.05,237.62v3.6M20.01,239.42h3.6M21.81,237.62v3.6M34.77,239.42h3.6M36.57,237.62v3.6M49.53,239.42h3.6M51.33,237.62v3.6M64.29,239.42h3.6M66.09,237.62v3.6M79.05,239.42h3.6M80.85,237.62v3.6M93.81,239.42h3.6M95.61,237.62v3.6M108.57,239.42h3.6M110.37,237.62v3.6M123.33,239.42h3.6M125.13,237.62v3.6M138.09,239.42h3.6M139.89,237.62v3.6M152.85,239.42h3.6M154.65,237.62v3.6M167.61,239.42h3.6M169.41,237.62v3.6M182.37,239.42h3.6M184.17,237.62v3.6M197.13,239.42h3.6M198.93,237.62v3.6M211.89,239.42h3.6M213.69,237.62v3.6M226.65,239.42h3.6M228.45,237.62v3.6M241.41,239.42h3.6M243.21,237.62v3.6M256.17,239.42h3.6M257.97,237.62v3.6M270.93,239.42h3.6M272.73,237.62v3.6M285.69,239.42h3.6M287.49,237.62v3.6M300.45,239.42h3.6M302.25,237.62v3.6M315.21,239.42h3.6M317.01,237.62v3.6M329.97,239.42h3.6M331.77,237.62v3.6M344.73,239.42h3.6M346.53,237.62v3.6M359.49,239.42h3.6M361.29,237.62v3.6M374.25,239.42h3.6M376.05,237.62v3.6M389.01,239.42h3.6M390.81,237.62v3.6M403.77,239.42h3.6M405.57,237.62v3.6M418.53,239.42h3.6M420.33,237.62v3.6M433.29,239.42h3.6M435.09,237.62v3.6M448.05,239.42h3.6M449.85,237.62v3.6M462.81,239.42h3.6M464.61,237.62v3.6M477.57,239.42h3.6M479.37,237.62v3.6M492.33,239.42h3.6M494.13,237.62v3.6M507.09,239.42h3.6M508.89,237.62v3.6M521.85,239.42h3.6M523.65,237.62v3.6M536.61,239.42h3.6M538.41,237.62v3.6M551.37,239.42h3.6M553.17,237.62v3.6M566.13,239.42h3.6M567.93,237.62v3.6M580.89,239.42h3.6M582.69,237.62v3.6M595.65,239.42h3.6M597.45,237.62v3.6M610.41,239.42h3.6M612.21,237.62v3.6M625.17,239.42h3.6M626.97,237.62v3.6M639.93,239.42h3.6M641.73,237.62v3.6M654.69,239.42h3.6M656.49,237.62v3.6M669.45,239.42h3.6M671.25,237.62v3.6M684.21,239.42h3.6M686.01,237.62v3.6M5.25,254.17h3.6M7.05,252.37v3.6M20.01,254.17h3.6M21.81,252.37v3.6M34.77,254.17h3.6M36.57,252.37v3.6M49.53,254.17h3.6M51.33,252.37v3.6M64.29,254.17h3.6M66.09,252.37v3.6M79.05,254.17h3.6M80.85,252.37v3.6M93.81,254.17h3.6M95.61,252.37v3.6M108.57,254.17h3.6M110.37,252.37v3.6M123.33,254.17h3.6M125.13,252.37v3.6M138.09,254.17h3.6M139.89,252.37v3.6M152.85,254.17h3.6M154.65,252.37v3.6M167.61,254.17h3.6M169.41,252.37v3.6M182.37,254.17h3.6M184.17,252.37v3.6M197.13,254.17h3.6M198.93,252.37v3.6M211.89,254.17h3.6M213.69,252.37v3.6M226.65,254.17h3.6M228.45,252.37v3.6M241.41,254.17h3.6M243.21,252.37v3.6M256.17,254.17h3.6M257.97,252.37v3.6M270.93,254.17h3.6M272.73,252.37v3.6M285.69,254.17h3.6M287.49,252.37v3.6M300.45,254.17h3.6M302.25,252.37v3.6M315.21,254.17h3.6M317.01,252.37v3.6M329.97,254.17h3.6M331.77,252.37v3.6M344.73,254.17h3.6M346.53,252.37v3.6M359.49,254.17h3.6M361.29,252.37v3.6M374.25,254.17h3.6M376.05,252.37v3.6M389.01,254.17h3.6M390.81,252.37v3.6M403.77,254.17h3.6M405.57,252.37v3.6M418.53,254.17h3.6M420.33,252.37v3.6M433.29,254.17h3.6M435.09,252.37v3.6M448.05,254.17h3.6M449.85,252.37v3.6M462.81,254.17h3.6M464.61,252.37v3.6M477.57,254.17h3.6M479.37,252.37v3.6M492.33,254.17h3.6M494.13,252.37v3.6M507.09,254.17h3.6M508.89,252.37v3.6M521.85,254.17h3.6M523.65,252.37v3.6M536.61,254.17h3.6M538.41,252.37v3.6M551.37,254.17h3.6M553.17,252.37v3.6M566.13,254.17h3.6M567.93,252.37v3.6M580.89,254.17h3.6M582.69,252.37v3.6M595.65,254.17h3.6M597.45,252.37v3.6M610.41,254.17h3.6M612.21,252.37v3.6M625.17,254.17h3.6M626.97,252.37v3.6M639.93,254.17h3.6M641.73,252.37v3.6M654.69,254.17h3.6M656.49,252.37v3.6M669.45,254.17h3.6M671.25,252.37v3.6M684.21,254.17h3.6M686.01,252.37v3.6M5.25,268.91h3.6M7.05,267.11v3.6M20.01,268.91h3.6M21.81,267.11v3.6M34.77,268.91h3.6M36.57,267.11v3.6M49.53,268.91h3.6M51.33,267.11v3.6M64.29,268.91h3.6M66.09,267.11v3.6M79.05,268.91h3.6M80.85,267.11v3.6M93.81,268.91h3.6M95.61,267.11v3.6M108.57,268.91h3.6M110.37,267.11v3.6M123.33,268.91h3.6M125.13,267.11v3.6M138.09,268.91h3.6M139.89,267.11v3.6M152.85,268.91h3.6M154.65,267.11v3.6M167.61,268.91h3.6M169.41,267.11v3.6M182.37,268.91h3.6M184.17,267.11v3.6M197.13,268.91h3.6M198.93,267.11v3.6M211.89,268.91h3.6M213.69,267.11v3.6M226.65,268.91h3.6M228.45,267.11v3.6M241.41,268.91h3.6M243.21,267.11v3.6M256.17,268.91h3.6M257.97,267.11v3.6M270.93,268.91h3.6M272.73,267.11v3.6M285.69,268.91h3.6M287.49,267.11v3.6M300.45,268.91h3.6M302.25,267.11v3.6M315.21,268.91h3.6M317.01,267.11v3.6M329.97,268.91h3.6M331.77,267.11v3.6M344.73,268.91h3.6M346.53,267.11v3.6M359.49,268.91h3.6M361.29,267.11v3.6M374.25,268.91h3.6M376.05,267.11v3.6M389.01,268.91h3.6M390.81,267.11v3.6M403.77,268.91h3.6M405.57,267.11v3.6M418.53,268.91h3.6M420.33,267.11v3.6M433.29,268.91h3.6M435.09,267.11v3.6M448.05,268.91h3.6M449.85,267.11v3.6M462.81,268.91h3.6M464.61,267.11v3.6M477.57,268.91h3.6M479.37,267.11v3.6M492.33,268.91h3.6M494.13,267.11v3.6M507.09,268.91h3.6M508.89,267.11v3.6M521.85,268.91h3.6M523.65,267.11v3.6M536.61,268.91h3.6M538.41,267.11v3.6M551.37,268.91h3.6M553.17,267.11v3.6M566.13,268.91h3.6M567.93,267.11v3.6M580.89,268.91h3.6M582.69,267.11v3.6M595.65,268.91h3.6M597.45,267.11v3.6M610.41,268.91h3.6M612.21,267.11v3.6M625.17,268.91h3.6M626.97,267.11v3.6M639.93,268.91h3.6M641.73,267.11v3.6M654.69,268.91h3.6M656.49,267.11v3.6M669.45,268.91h3.6M671.25,267.11v3.6M684.21,268.91h3.6M686.01,267.11v3.6M5.25,283.66h3.6M7.05,281.86v3.6M20.01,283.66h3.6M21.81,281.86v3.6M34.77,283.66h3.6M36.57,281.86v3.6M49.53,283.66h3.6M51.33,281.86v3.6M64.29,283.66h3.6M66.09,281.86v3.6M79.05,283.66h3.6M80.85,281.86v3.6M93.81,283.66h3.6M95.61,281.86v3.6M108.57,283.66h3.6M110.37,281.86v3.6M123.33,283.66h3.6M125.13,281.86v3.6M138.09,283.66h3.6M139.89,281.86v3.6M152.85,283.66h3.6M154.65,281.86v3.6M167.61,283.66h3.6M169.41,281.86v3.6M182.37,283.66h3.6M184.17,281.86v3.6M197.13,283.66h3.6M198.93,281.86v3.6M211.89,283.66h3.6M213.69,281.86v3.6M226.65,283.66h3.6M228.45,281.86v3.6M241.41,283.66h3.6M243.21,281.86v3.6M256.17,283.66h3.6M257.97,281.86v3.6M270.93,283.66h3.6M272.73,281.86v3.6M285.69,283.66h3.6M287.49,281.86v3.6M300.45,283.66h3.6M302.25,281.86v3.6M315.21,283.66h3.6M317.01,281.86v3.6M329.97,283.66h3.6M331.77,281.86v3.6M344.73,283.66h3.6M346.53,281.86v3.6M359.49,283.66h3.6M361.29,281.86v3.6M374.25,283.66h3.6M376.05,281.86v3.6M389.01,283.66h3.6M390.81,281.86v3.6M403.77,283.66h3.6M405.57,281.86v3.6M418.53,283.66h3.6M420.33,281.86v3.6M433.29,283.66h3.6M435.09,281.86v3.6M448.05,283.66h3.6M449.85,281.86v3.6M462.81,283.66h3.6M464.61,281.86v3.6M477.57,283.66h3.6M479.37,281.86v3.6M492.33,283.66h3.6M494.13,281.86v3.6M507.09,283.66h3.6M508.89,281.86v3.6M521.85,283.66h3.6M523.65,281.86v3.6M536.61,283.66h3.6M538.41,281.86v3.6M551.37,283.66h3.6M553.17,281.86v3.6M566.13,283.66h3.6M567.93,281.86v3.6M580.89,283.66h3.6M582.69,281.86v3.6M595.65,283.66h3.6M597.45,281.86v3.6M610.41,283.66h3.6M612.21,281.86v3.6M625.17,283.66h3.6M626.97,281.86v3.6M639.93,283.66h3.6M641.73,281.86v3.6M654.69,283.66h3.6M656.49,281.86v3.6M669.45,283.66h3.6M671.25,281.86v3.6M684.21,283.66h3.6M686.01,281.86v3.6M5.25,298.40h3.6M7.05,296.60v3.6M20.01,298.40h3.6M21.81,296.60v3.6M34.77,298.40h3.6M36.57,296.60v3.6M49.53,298.40h3.6M51.33,296.60v3.6M64.29,298.40h3.6M66.09,296.60v3.6M79.05,298.40h3.6M80.85,296.60v3.6M93.81,298.40h3.6M95.61,296.60v3.6M108.57,298.40h3.6M110.37,296.60v3.6M123.33,298.40h3.6M125.13,296.60v3.6M138.09,298.40h3.6M139.89,296.60v3.6M152.85,298.40h3.6M154.65,296.60v3.6M167.61,298.40h3.6M169.41,296.60v3.6M182.37,298.40h3.6M184.17,296.60v3.6M197.13,298.40h3.6M198.93,296.60v3.6M211.89,298.40h3.6M213.69,296.60v3.6M226.65,298.40h3.6M228.45,296.60v3.6M241.41,298.40h3.6M243.21,296.60v3.6M256.17,298.40h3.6M257.97,296.60v3.6M270.93,298.40h3.6M272.73,296.60v3.6M285.69,298.40h3.6M287.49,296.60v3.6M300.45,298.40h3.6M302.25,296.60v3.6M315.21,298.40h3.6M317.01,296.60v3.6M329.97,298.40h3.6M331.77,296.60v3.6M344.73,298.40h3.6M346.53,296.60v3.6M359.49,298.40h3.6M361.29,296.60v3.6M374.25,298.40h3.6M376.05,296.60v3.6M389.01,298.40h3.6M390.81,296.60v3.6M403.77,298.40h3.6M405.57,296.60v3.6M418.53,298.40h3.6M420.33,296.60v3.6M433.29,298.40h3.6M435.09,296.60v3.6M448.05,298.40h3.6M449.85,296.60v3.6M462.81,298.40h3.6M464.61,296.60v3.6M477.57,298.40h3.6M479.37,296.60v3.6M492.33,298.40h3.6M494.13,296.60v3.6M507.09,298.40h3.6M508.89,296.60v3.6M521.85,298.40h3.6M523.65,296.60v3.6M536.61,298.40h3.6M538.41,296.60v3.6M551.37,298.40h3.6M553.17,296.60v3.6M566.13,298.40h3.6M567.93,296.60v3.6M580.89,298.40h3.6M582.69,296.60v3.6M595.65,298.40h3.6M597.45,296.60v3.6M610.41,298.40h3.6M612.21,296.60v3.6M625.17,298.40h3.6M626.97,296.60v3.6M639.93,298.40h3.6M641.73,296.60v3.6M654.69,298.40h3.6M656.49,296.60v3.6M669.45,298.40h3.6M671.25,296.60v3.6M684.21,298.40h3.6M686.01,296.60v3.6M5.25,313.15h3.6M7.05,311.35v3.6M20.01,313.15h3.6M21.81,311.35v3.6M34.77,313.15h3.6M36.57,311.35v3.6M49.53,313.15h3.6M51.33,311.35v3.6M64.29,313.15h3.6M66.09,311.35v3.6M79.05,313.15h3.6M80.85,311.35v3.6M93.81,313.15h3.6M95.61,311.35v3.6M108.57,313.15h3.6M110.37,311.35v3.6M123.33,313.15h3.6M125.13,311.35v3.6M138.09,313.15h3.6M139.89,311.35v3.6M152.85,313.15h3.6M154.65,311.35v3.6M167.61,313.15h3.6M169.41,311.35v3.6M182.37,313.15h3.6M184.17,311.35v3.6M197.13,313.15h3.6M198.93,311.35v3.6M211.89,313.15h3.6M213.69,311.35v3.6M226.65,313.15h3.6M228.45,311.35v3.6M241.41,313.15h3.6M243.21,311.35v3.6M256.17,313.15h3.6M257.97,311.35v3.6M270.93,313.15h3.6M272.73,311.35v3.6M285.69,313.15h3.6M287.49,311.35v3.6M300.45,313.15h3.6M302.25,311.35v3.6M315.21,313.15h3.6M317.01,311.35v3.6M329.97,313.15h3.6M331.77,311.35v3.6M344.73,313.15h3.6M346.53,311.35v3.6M359.49,313.15h3.6M361.29,311.35v3.6M374.25,313.15h3.6M376.05,311.35v3.6M389.01,313.15h3.6M390.81,311.35v3.6M403.77,313.15h3.6M405.57,311.35v3.6M418.53,313.15h3.6M420.33,311.35v3.6M433.29,313.15h3.6M435.09,311.35v3.6M448.05,313.15h3.6M449.85,311.35v3.6M462.81,313.15h3.6M464.61,311.35v3.6M477.57,313.15h3.6M479.37,311.35v3.6M492.33,313.15h3.6M494.13,311.35v3.6M507.09,313.15h3.6M508.89,311.35v3.6M521.85,313.15h3.6M523.65,311.35v3.6M536.61,313.15h3.6M538.41,311.35v3.6M551.37,313.15h3.6M553.17,311.35v3.6M566.13,313.15h3.6M567.93,311.35v3.6M580.89,313.15h3.6M582.69,311.35v3.6M595.65,313.15h3.6M597.45,311.35v3.6M610.41,313.15h3.6M612.21,311.35v3.6M625.17,313.15h3.6M626.97,311.35v3.6M639.93,313.15h3.6M641.73,311.35v3.6M654.69,313.15h3.6M656.49,311.35v3.6M669.45,313.15h3.6M671.25,311.35v3.6M684.21,313.15h3.6M686.01,311.35v3.6M5.25,327.89h3.6M7.05,326.09v3.6M20.01,327.89h3.6M21.81,326.09v3.6M34.77,327.89h3.6M36.57,326.09v3.6M49.53,327.89h3.6M51.33,326.09v3.6M64.29,327.89h3.6M66.09,326.09v3.6M79.05,327.89h3.6M80.85,326.09v3.6M93.81,327.89h3.6M95.61,326.09v3.6M108.57,327.89h3.6M110.37,326.09v3.6M123.33,327.89h3.6M125.13,326.09v3.6M138.09,327.89h3.6M139.89,326.09v3.6M152.85,327.89h3.6M154.65,326.09v3.6M167.61,327.89h3.6M169.41,326.09v3.6M182.37,327.89h3.6M184.17,326.09v3.6M197.13,327.89h3.6M198.93,326.09v3.6M211.89,327.89h3.6M213.69,326.09v3.6M226.65,327.89h3.6M228.45,326.09v3.6M241.41,327.89h3.6M243.21,326.09v3.6M256.17,327.89h3.6M257.97,326.09v3.6M270.93,327.89h3.6M272.73,326.09v3.6M285.69,327.89h3.6M287.49,326.09v3.6M300.45,327.89h3.6M302.25,326.09v3.6M315.21,327.89h3.6M317.01,326.09v3.6M329.97,327.89h3.6M331.77,326.09v3.6M344.73,327.89h3.6M346.53,326.09v3.6M359.49,327.89h3.6M361.29,326.09v3.6M374.25,327.89h3.6M376.05,326.09v3.6M389.01,327.89h3.6M390.81,326.09v3.6M403.77,327.89h3.6M405.57,326.09v3.6M418.53,327.89h3.6M420.33,326.09v3.6M433.29,327.89h3.6M435.09,326.09v3.6M448.05,327.89h3.6M449.85,326.09v3.6M462.81,327.89h3.6M464.61,326.09v3.6M477.57,327.89h3.6M479.37,326.09v3.6M492.33,327.89h3.6M494.13,326.09v3.6M507.09,327.89h3.6M508.89,326.09v3.6M521.85,327.89h3.6M523.65,326.09v3.6M536.61,327.89h3.6M538.41,326.09v3.6M551.37,327.89h3.6M553.17,326.09v3.6M566.13,327.89h3.6M567.93,326.09v3.6M580.89,327.89h3.6M582.69,326.09v3.6M595.65,327.89h3.6M597.45,326.09v3.6M610.41,327.89h3.6M612.21,326.09v3.6M625.17,327.89h3.6M626.97,326.09v3.6M639.93,327.89h3.6M641.73,326.09v3.6M654.69,327.89h3.6M656.49,326.09v3.6M669.45,327.89h3.6M671.25,326.09v3.6M684.21,327.89h3.6M686.01,326.09v3.6M5.25,342.64h3.6M7.05,340.84v3.6M20.01,342.64h3.6M21.81,340.84v3.6M34.77,342.64h3.6M36.57,340.84v3.6M49.53,342.64h3.6M51.33,340.84v3.6M64.29,342.64h3.6M66.09,340.84v3.6M79.05,342.64h3.6M80.85,340.84v3.6M93.81,342.64h3.6M95.61,340.84v3.6M108.57,342.64h3.6M110.37,340.84v3.6M123.33,342.64h3.6M125.13,340.84v3.6M138.09,342.64h3.6M139.89,340.84v3.6M152.85,342.64h3.6M154.65,340.84v3.6M167.61,342.64h3.6M169.41,340.84v3.6M182.37,342.64h3.6M184.17,340.84v3.6M197.13,342.64h3.6M198.93,340.84v3.6M211.89,342.64h3.6M213.69,340.84v3.6M226.65,342.64h3.6M228.45,340.84v3.6M241.41,342.64h3.6M243.21,340.84v3.6M256.17,342.64h3.6M257.97,340.84v3.6M270.93,342.64h3.6M272.73,340.84v3.6M285.69,342.64h3.6M287.49,340.84v3.6M300.45,342.64h3.6M302.25,340.84v3.6M315.21,342.64h3.6M317.01,340.84v3.6M329.97,342.64h3.6M331.77,340.84v3.6M344.73,342.64h3.6M346.53,340.84v3.6M359.49,342.64h3.6M361.29,340.84v3.6M374.25,342.64h3.6M376.05,340.84v3.6M389.01,342.64h3.6M390.81,340.84v3.6M403.77,342.64h3.6M405.57,340.84v3.6M418.53,342.64h3.6M420.33,340.84v3.6M433.29,342.64h3.6M435.09,340.84v3.6M448.05,342.64h3.6M449.85,340.84v3.6M462.81,342.64h3.6M464.61,340.84v3.6M477.57,342.64h3.6M479.37,340.84v3.6M492.33,342.64h3.6M494.13,340.84v3.6M507.09,342.64h3.6M508.89,340.84v3.6M521.85,342.64h3.6M523.65,340.84v3.6M536.61,342.64h3.6M538.41,340.84v3.6M551.37,342.64h3.6M553.17,340.84v3.6M566.13,342.64h3.6M567.93,340.84v3.6M580.89,342.64h3.6M582.69,340.84v3.6M595.65,342.64h3.6M597.45,340.84v3.6M610.41,342.64h3.6M612.21,340.84v3.6M625.17,342.64h3.6M626.97,340.84v3.6M639.93,342.64h3.6M641.73,340.84v3.6M654.69,342.64h3.6M656.49,340.84v3.6M669.45,342.64h3.6M671.25,340.84v3.6M684.21,342.64h3.6M686.01,340.84v3.6M5.25,357.38h3.6M7.05,355.58v3.6M20.01,357.38h3.6M21.81,355.58v3.6M34.77,357.38h3.6M36.57,355.58v3.6M49.53,357.38h3.6M51.33,355.58v3.6M64.29,357.38h3.6M66.09,355.58v3.6M79.05,357.38h3.6M80.85,355.58v3.6M93.81,357.38h3.6M95.61,355.58v3.6M108.57,357.38h3.6M110.37,355.58v3.6M123.33,357.38h3.6M125.13,355.58v3.6M138.09,357.38h3.6M139.89,355.58v3.6M152.85,357.38h3.6M154.65,355.58v3.6M167.61,357.38h3.6M169.41,355.58v3.6M182.37,357.38h3.6M184.17,355.58v3.6M197.13,357.38h3.6M198.93,355.58v3.6M211.89,357.38h3.6M213.69,355.58v3.6M226.65,357.38h3.6M228.45,355.58v3.6M241.41,357.38h3.6M243.21,355.58v3.6M256.17,357.38h3.6M257.97,355.58v3.6M270.93,357.38h3.6M272.73,355.58v3.6M285.69,357.38h3.6M287.49,355.58v3.6M300.45,357.38h3.6M302.25,355.58v3.6M315.21,357.38h3.6M317.01,355.58v3.6M329.97,357.38h3.6M331.77,355.58v3.6M344.73,357.38h3.6M346.53,355.58v3.6M359.49,357.38h3.6M361.29,355.58v3.6M374.25,357.38h3.6M376.05,355.58v3.6M389.01,357.38h3.6M390.81,355.58v3.6M403.77,357.38h3.6M405.57,355.58v3.6M418.53,357.38h3.6M420.33,355.58v3.6M433.29,357.38h3.6M435.09,355.58v3.6M448.05,357.38h3.6M449.85,355.58v3.6M462.81,357.38h3.6M464.61,355.58v3.6M477.57,357.38h3.6M479.37,355.58v3.6M492.33,357.38h3.6M494.13,355.58v3.6M507.09,357.38h3.6M508.89,355.58v3.6M521.85,357.38h3.6M523.65,355.58v3.6M536.61,357.38h3.6M538.41,355.58v3.6M551.37,357.38h3.6M553.17,355.58v3.6M566.13,357.38h3.6M567.93,355.58v3.6M580.89,357.38h3.6M582.69,355.58v3.6M595.65,357.38h3.6M597.45,355.58v3.6M610.41,357.38h3.6M612.21,355.58v3.6M625.17,357.38h3.6M626.97,355.58v3.6M639.93,357.38h3.6M641.73,355.58v3.6M654.69,357.38h3.6M656.49,355.58v3.6M669.45,357.38h3.6M671.25,355.58v3.6M684.21,357.38h3.6M686.01,355.58v3.6M5.25,372.13h3.6M7.05,370.33v3.6M20.01,372.13h3.6M21.81,370.33v3.6M34.77,372.13h3.6M36.57,370.33v3.6M49.53,372.13h3.6M51.33,370.33v3.6M64.29,372.13h3.6M66.09,370.33v3.6M79.05,372.13h3.6M80.85,370.33v3.6M93.81,372.13h3.6M95.61,370.33v3.6M108.57,372.13h3.6M110.37,370.33v3.6M123.33,372.13h3.6M125.13,370.33v3.6M138.09,372.13h3.6M139.89,370.33v3.6M152.85,372.13h3.6M154.65,370.33v3.6M167.61,372.13h3.6M169.41,370.33v3.6M182.37,372.13h3.6M184.17,370.33v3.6M197.13,372.13h3.6M198.93,370.33v3.6M211.89,372.13h3.6M213.69,370.33v3.6M226.65,372.13h3.6M228.45,370.33v3.6M241.41,372.13h3.6M243.21,370.33v3.6M256.17,372.13h3.6M257.97,370.33v3.6M270.93,372.13h3.6M272.73,370.33v3.6M285.69,372.13h3.6M287.49,370.33v3.6M300.45,372.13h3.6M302.25,370.33v3.6M315.21,372.13h3.6M317.01,370.33v3.6M329.97,372.13h3.6M331.77,370.33v3.6M344.73,372.13h3.6M346.53,370.33v3.6M359.49,372.13h3.6M361.29,370.33v3.6M374.25,372.13h3.6M376.05,370.33v3.6M389.01,372.13h3.6M390.81,370.33v3.6M403.77,372.13h3.6M405.57,370.33v3.6M418.53,372.13h3.6M420.33,370.33v3.6M433.29,372.13h3.6M435.09,370.33v3.6M448.05,372.13h3.6M449.85,370.33v3.6M462.81,372.13h3.6M464.61,370.33v3.6M477.57,372.13h3.6M479.37,370.33v3.6M492.33,372.13h3.6M494.13,370.33v3.6M507.09,372.13h3.6M508.89,370.33v3.6M521.85,372.13h3.6M523.65,370.33v3.6M536.61,372.13h3.6M538.41,370.33v3.6M551.37,372.13h3.6M553.17,370.33v3.6M566.13,372.13h3.6M567.93,370.33v3.6M580.89,372.13h3.6M582.69,370.33v3.6M595.65,372.13h3.6M597.45,370.33v3.6M610.41,372.13h3.6M612.21,370.33v3.6M625.17,372.13h3.6M626.97,370.33v3.6M639.93,372.13h3.6M641.73,370.33v3.6M654.69,372.13h3.6M656.49,370.33v3.6M669.45,372.13h3.6M671.25,370.33v3.6M684.21,372.13h3.6M686.01,370.33v3.6M5.25,386.87h3.6M7.05,385.07v3.6M20.01,386.87h3.6M21.81,385.07v3.6M34.77,386.87h3.6M36.57,385.07v3.6M49.53,386.87h3.6M51.33,385.07v3.6M64.29,386.87h3.6M66.09,385.07v3.6M79.05,386.87h3.6M80.85,385.07v3.6M93.81,386.87h3.6M95.61,385.07v3.6M108.57,386.87h3.6M110.37,385.07v3.6M123.33,386.87h3.6M125.13,385.07v3.6M138.09,386.87h3.6M139.89,385.07v3.6M152.85,386.87h3.6M154.65,385.07v3.6M167.61,386.87h3.6M169.41,385.07v3.6M182.37,386.87h3.6M184.17,385.07v3.6M197.13,386.87h3.6M198.93,385.07v3.6M211.89,386.87h3.6M213.69,385.07v3.6M226.65,386.87h3.6M228.45,385.07v3.6M241.41,386.87h3.6M243.21,385.07v3.6M256.17,386.87h3.6M257.97,385.07v3.6M270.93,386.87h3.6M272.73,385.07v3.6M285.69,386.87h3.6M287.49,385.07v3.6M300.45,386.87h3.6M302.25,385.07v3.6M315.21,386.87h3.6M317.01,385.07v3.6M329.97,386.87h3.6M331.77,385.07v3.6M344.73,386.87h3.6M346.53,385.07v3.6M359.49,386.87h3.6M361.29,385.07v3.6M374.25,386.87h3.6M376.05,385.07v3.6M389.01,386.87h3.6M390.81,385.07v3.6M403.77,386.87h3.6M405.57,385.07v3.6M418.53,386.87h3.6M420.33,385.07v3.6M433.29,386.87h3.6M435.09,385.07v3.6M448.05,386.87h3.6M449.85,385.07v3.6M462.81,386.87h3.6M464.61,385.07v3.6M477.57,386.87h3.6M479.37,385.07v3.6M492.33,386.87h3.6M494.13,385.07v3.6M507.09,386.87h3.6M508.89,385.07v3.6M521.85,386.87h3.6M523.65,385.07v3.6M536.61,386.87h3.6M538.41,385.07v3.6M551.37,386.87h3.6M553.17,385.07v3.6M566.13,386.87h3.6M567.93,385.07v3.6M580.89,386.87h3.6M582.69,385.07v3.6M595.65,386.87h3.6M597.45,385.07v3.6M610.41,386.87h3.6M612.21,385.07v3.6M625.17,386.87h3.6M626.97,385.07v3.6M639.93,386.87h3.6M641.73,385.07v3.6M654.69,386.87h3.6M656.49,385.07v3.6M669.45,386.87h3.6M671.25,385.07v3.6M684.21,386.87h3.6M686.01,385.07v3.6M5.25,401.62h3.6M7.05,399.82v3.6M20.01,401.62h3.6M21.81,399.82v3.6M34.77,401.62h3.6M36.57,399.82v3.6M49.53,401.62h3.6M51.33,399.82v3.6M64.29,401.62h3.6M66.09,399.82v3.6M79.05,401.62h3.6M80.85,399.82v3.6M93.81,401.62h3.6M95.61,399.82v3.6M108.57,401.62h3.6M110.37,399.82v3.6M123.33,401.62h3.6M125.13,399.82v3.6M138.09,401.62h3.6M139.89,399.82v3.6M152.85,401.62h3.6M154.65,399.82v3.6M167.61,401.62h3.6M169.41,399.82v3.6M182.37,401.62h3.6M184.17,399.82v3.6M197.13,401.62h3.6M198.93,399.82v3.6M211.89,401.62h3.6M213.69,399.82v3.6M226.65,401.62h3.6M228.45,399.82v3.6M241.41,401.62h3.6M243.21,399.82v3.6M256.17,401.62h3.6M257.97,399.82v3.6M270.93,401.62h3.6M272.73,399.82v3.6M285.69,401.62h3.6M287.49,399.82v3.6M300.45,401.62h3.6M302.25,399.82v3.6M315.21,401.62h3.6M317.01,399.82v3.6M329.97,401.62h3.6M331.77,399.82v3.6M344.73,401.62h3.6M346.53,399.82v3.6M359.49,401.62h3.6M361.29,399.82v3.6M374.25,401.62h3.6M376.05,399.82v3.6M389.01,401.62h3.6M390.81,399.82v3.6M403.77,401.62h3.6M405.57,399.82v3.6M418.53,401.62h3.6M420.33,399.82v3.6M433.29,401.62h3.6M435.09,399.82v3.6M448.05,401.62h3.6M449.85,399.82v3.6M462.81,401.62h3.6M464.61,399.82v3.6M477.57,401.62h3.6M479.37,399.82v3.6M492.33,401.62h3.6M494.13,399.82v3.6M507.09,401.62h3.6M508.89,399.82v3.6M521.85,401.62h3.6M523.65,399.82v3.6M536.61,401.62h3.6M538.41,399.82v3.6M551.37,401.62h3.6M553.17,399.82v3.6M566.13,401.62h3.6M567.93,399.82v3.6M580.89,401.62h3.6M582.69,399.82v3.6M595.65,401.62h3.6M597.45,399.82v3.6M610.41,401.62h3.6M612.21,399.82v3.6M625.17,401.62h3.6M626.97,399.82v3.6M639.93,401.62h3.6M641.73,399.82v3.6M654.69,401.62h3.6M656.49,399.82v3.6M669.45,401.62h3.6M671.25,399.82v3.6M684.21,401.62h3.6M686.01,399.82v3.6" stroke="#efefef" stroke-width="1" fill="none"/>
<path d="M5.80,3.50a1.25,1.25 0 1 0 2.5,0a1.25,1.25 0 1 0 -2.5,0M20.56,3.50a1.25,1.25 0 1 0 2.5,0a1.25,1.25 0 1 0 -2.5,0M35.32,3.50a1.25,1.25 0 1 0 2.5,0a1.25,1.25 0 1 0 -2.5,0M50.08,3.50a1.25,1.25 0 1 0 2.5,0a1.25,1.25 0 1 0 -2.5,0M64.84,3.50a1.25,1.25 0 1 0 2.5,0a1.25,1.25 0 1 0 -2.5,0M79.60,3.50a1.25,1.25 0 1 0 2.5,0a1.25,1.25 0 1 0 -2.5,0M94.36,3.50a1.25,1.25 0 1 0 2.5,0a1.25,1.25 0 1 0 -2.5,0M109.12,3.50a1.25,1.25 0 1 0 2.5,0a1.25,1.25 0 1 0 -2.5,0M123.88,3.50a1.25,1.25 0 1 0 2.5,0a1.25,1.25 0 1 0 -2.5,0M138.64,3.50a1.25,1.25 0 1 0 2.5,0a1.25,1.25 0 1 0 -2.5,0M153.40,3.50a1.25,1.25 0 1 0 2.5,0a1.25,1.25 0 1 0 -2.5,0M168.16,3.50a1.25,1.25 0 1 0 2.5,0a1.25,1.25 0 1 0 -2.5,0M182.92,3.50a1.25,1.25 0 1 0 2.5,0a1.25,1.25 0 1 0 -2.5,0M197.68,3.50a1.25,1.25 0 1 0 2.5,0a1.25,1.25 0 1 0 -2.5,0M212.44,3.50a1.25,1.25 0 1 0 2.5,0a1.25,1.25 0 1 0 -2.5,0M227.20,3.50a1.25,1.25 0 1 0 2.5,0a1.25,1.25 0 1 0 -2.5,0M241.96,3.50a1.25,1.25 0 1 0 2.5,0a1.25,1.25 0 1 0 -2.5,0M256.72,3.50a1.25,1.25 0 1 0 2.5,0a1.25,1.25 0 1 0 -2.5,0M271.48,3.50a1.25,1.25 0 1 0 2.5,0a1.25,1.25 0 1 0 -2.5,0M286.24,3.50a1.25,1.25 0 1 0 2.5,0a1.25,1.25 0 1 0 -2.5,0M301.00,3.50a1.25,1.25 0 1 0 2.5,0a1.25,1.25 0 1 0 -2.5,0M315.76,3.50a1.25,1.25 0 1 0 2.5,0a1.25,1.25 0 1 0 -2.5,0M330.52,3.50a1.25,1.25 0 1 0 2.5,0a1.25,1.25 0 1 0 -2.5,0M345.28,3.50a1.25,1.25 0 1 0 2.5,0a1.25,1.25 0 1 0 -2.5,0M360.04,3.50a1.25,1.25 0 1 0 2.5,0a1.25,1.25 0 1 0 -2.5,0M374.80,3.50a1.25,1.25 0 1 0 2.5,0a1.25,1.25 0 1 0 -2.5,0M389.56,3.50a1.25,1.25 0 1 0 2.5,0a1.25,1.25 0 1 0 -2.5,0M404.32,3.50a1.25,1.25 0 1 0 2.5,0a1.25,1.25 0 1 0 -2.5,0M419.08,3.50a1.25,1.25 0 1 0 2.5,0a1.25,1.25 0 1 0 -2.5,0M433.84,3.50a1.25,1.25 0 1 0 2.5,0a1.25,1.25 0 1 0 -2.5,0M448.60,3.50a1.25,1.25 0 1 0 2.5,0a1.25,1.25 0 1 0 -2.5,0M463.36,3.50a1.25,1.25 0 1 0 2.5,0a1.25,1.25 0 1 0 -2.5,0M478.12,3.50a1.25,1.25 0 1 0 2.5,0a1.25,1.25 0 1 0 -2.5,0M492.88,3.50a1.25,1.25 0 1 0 2.5,0a1.25,1.25 0 1 0 -2.5,0M507.64,3.50a1.25,1.25 0 1 0 2.5,0a1.25,1.25 0 1 0 -2.5,0M522.40,3.50a1.25,1.25 0 1 0 2.5,0a1.25,1.25 0 1 0 -2.5,0M537.16,3.50a1.25,1.25 0 1 0 2.5,0a1.25,1.25 0 1 0 -2.5,0M551.92,3.50a1.25,1.25 0 1 0 2.5,0a1.25,1.25 0 1 0 -2.5,0M566.68,3.50a1.25,1.25 0 1 0 2.5,0a1.25,1.25 0 1 0 -2.5,0M581.44,3.50a1.25,1.25 0 1 0 2.5,0a1.25,1.25 0 1 0 -2.5,0M596.20,3.50a1.25,1.25 0 1 0 2.5,0a1.25,1.25 0 1 0 -2.5,0M610.96,3.50a1.25,1.25 0 1 0 2.5,0a1.25,1.25 0 1 0 -2.5,0M625.72,3.50a1.25,1.25 0 1 0 2.5,0a1.25,1.25 0 1 0 -2.5,0M640.48,3.50a1.25,1.25 0 1 0 2.5,0a1.25,1.25 0 1 0 -2.5,0M655.24,3.50a1.25,1.25 0 1 0 2.5,0a1.25,1.25 0 1 0 -2.5,0M670.00,3.50a1.25,1.25 0 1 0 2.5,0a1.25,1.25 0 1 0 -2.5,0M684.76,3.50a1.25,1.25 0 1 0 2.5,0a1.25,1.25 0 1 0 -2.5,0M5.80,18.24a1.25,1.25 0 1 0 2.5,0a1.25,1.25 0 1 0 -2.5,0M20.56,18.24a1.25,1.25 0 1 0 2.5,0a1.25,1.25 0 1 0 -2.5,0M35.32,18.24a1.25,1.25 0 1 0 2.5,0a1.25,1.25 0 1 0 -2.5,0M50.08,18.24a1.25,1.25 0 1 0 2.5,0a1.25,1.25 0 1 0 -2.5,0M64.84,18.24a1.25,1.25 0 1 0 2.5,0a1.25,1.25 0 1 0 -2.5,0M79.60,18.24a1.25,1.25 0 1 0 2.5,0a1.25,1.25 0 1 0 -2.5,0M94.36,18.24a1.25,1.25 0 1 0 2.5,0a1.25,1.25 0 1 0 -2.5,0M109.12,18.24a1.25,1.25 0 1 0 2.5,0a1.25,1.25 0 1 0 -2.5,0M123.88,18.24a1.25,1.25 0 1 0 2.5,0a1.25,1.25 0 1 0 -2.5,0M138.64,18.24a1.25,1.25 0 1 0 2.5,0a1.25,1.25 0 1 0 -2.5,0M153.40,18.24a1.25,1.25 0 1 0 2.5,0a1.25,1.25 0 1 0 -2.5,0M168.16,18.24a1.25,1.25 0 1 0 2.5,0a1.25,1.25 0 1 0 -2.5,0M182.92,18.24a1.25,1.25 0 1 0 2.5,0a1.25,1.25 0 1 0 -2.5,0M197.68,18.24a1.25,1.25 0 1 0 2.5,0a1.25,1.25 0 1 0 -2.5,0M212.44,18.24a1.25,1.25 0 1 0 2.5,0a1.25,1.25 0 1 0 -2.5,0M227.20,18.24a1.25,1.25 0 1 0 2.5,0a1.25,1.25 0 1 0 -2.5,0M241.96,18.24a1.25,1.25 0 1 0 2.5,0a1.25,1.25 0 1 0 -2.5,0M256.72,18.24a1.25,1.25 0 1 0 2.5,0a1.25,1.25 0 1 0 -2.5,0M271.48,18.24a1.25,1.25 0 1 0 2.5,0a1.25,1.25 0 1 0 -2.5,0M286.24,18.24a1.25,1.25 0 1 0 2.5,0a1.25,1.25 0 1 0 -2.5,0M301.00,18.24a1.25,1.25 0 1 0 2.5,0a1.25,1.25 0 1 0 -2.5,0M315.76,18.24a1.25,1.25 0 1 0 2.5,0a1.25,1.25 0 1 0 -2.5,0M330.52,18.24a1.25,1.25 0 1 0 2.5,0a1.25,1.25 0 1 0 -2.5,0M345.28,18.24a1.25,1.25 0 1 0 2.5,0a1.25,1.25 0 1 0 -2.5,0M360.04,18.24a1.25,1.25 0 1 0 2.5,0a1.25,1.25 0 1 0 -2.5,0M374.80,18.24a1.25,1.25 0 1 0 2.5,0a1.25,1.25 0 1 0 -2.5,0M389.56,18.24a1.25,1.25 0 1 0 2.5,0a1.25,1.25 0 1 0 -2.5,0M404.32,18.24a1.25,1.25 0 1 0 2.5,0a1.25,1.25 0 1 0 -2.5,0M419.08,18.24a1.25,1.25 0 1 0 2.5,0a1.25,1.25 0 1 0 -2.5,0M433.84,18.24a1.25,1.25 0 1 0 2.5,0a1.25,1.25 0 1 0 -2.5,0M448.60,18.24a1.25,1.25 0 1 0 2.5,0a1.25,1.25 0 1 0 -2.5,0M463.36,18.24a1.25,1.25 0 1 0 2.5,0a1.25,1.25 0 1 0 -2.5,0M478.12,18.24a1.25,1.25 0 1 0 2.5,0a1.25,1.25 0 1 0 -2.5,0M492.88,18.24a1.25,1.25 0 1 0 2.5,0a1.25,1.25 0 1 0 -2.5,0M507.64,18.24a1.25,1.25 0 1 0 2.5,0a1.25,1.25 0 1 0 -2.5,0M522.40,18.24a1.25,1.25 0 1 0 2.5,0a1.25,1.25 0 1 0 -2.5,0M537.16,18.24a1.25,1.25 0 1 0 2.5,0a1.25,1.25 0 1 0 -2.5,0M551.92,18.24a1.25,1.25 0 1 0 2.5,0a1.25,1.25 0 1 0 -2.5,0M566.68,18.24a1.25,1.25 0 1 0 2.5,0a1.25,1.25 0 1 0 -2.5,0M581.44,18.24a1.25,1.25 0 1 0 2.5,0a1.25,1.25 0 1 0 -2.5,0M596.20,18.24a1.25,1.25 0 1 0 2.5,0a1.25,1.25 0 1 0 -2.5,0M610.96,18.24a1.25,1.25 0 1 0 2.5,0a1.25,1.25 0 1 0 -2.5,0M625.72,18.24a1.25,1.25 0 1 0 2.5,0a1.25,1.25 0 1 0 -2.5,0M640.48,18.24a1.25,1.25 0 1 0 2.5,0a1.25,1.25 0 1 0 -2.5,0M655.24,18.24a1.25,1.25 0 1 0 2.5,0a1.25,1.25 0 1 0 -2.5,0M670.00,18.24a1.25,1.25 0 1 0 2.5,0a1.25,1.25 0 1 0 -2.5,0M684.76,18.24a1.25,1.25 0 1 0 2.5,0a1.25,1.25 0 1 0 -2.5,0M5.80,32.99a1.25,1.25 0 1 0 2.5,0a1.25,1.25 0 1 0 -2.5,0M20.56,32.99a1.25,1.25 0 1 0 2.5,0a1.25,1.25 0 1 0 -2.5,0M35.32,32.99a1.25,1.25 0 1 0 2.5,0a1.25,1.25 0 1 0 -2.5,0M50.08,32.99a1.25,1.25 0 1 0 2.5,0a1.25,1.25 0 1 0 -2.5,0M64.84,32.99a1.25,1.25 0 1 0 2.5,0a1.25,1.25 0 1 0 -2.5,0M79.60,32.99a1.25,1.25 0 1 0 2.5,0a1.25,1.25 0 1 0 -2.5,0M94.36,32.99a1.25,1.25 0 1 0 2.5,0a1.25,1.25 0 1 0 -2.5,0M109.12,32.99a1.25,1.25 0 1 0 2.5,0a1.25,1.25 0 1 0 -2.5,0M123.88,32.99a1.25,1.25 0 1 0 2.5,0a1.25,1.25 0 1 0 -2.5,0M138.64,32.99a1.25,1.25 0 1 0 2.5,0a1.25,1.25 0 1 0 -2.5,0M153.40,32.99a1.25,1.25 0 1 0 2.5,0a1.25,1.25 0 1 0 -2.5,0M168.16,32.99a1.25,1.25 0 1 0 2.5,0a1.25,1.25 0 1 0 -2.5,0M182.92,32.99a1.25,1.25 0 1 0 2.5,0a1.25,1.25 0 1 0 -2.5,0M197.68,32.99a1.25,1.25 0 1 0 2.5,0a1.25,1.25 0 1 0 -2.5,0M212.44,32.99a1.25,1.25 0 1 0 2.5,0a1.25,1.25 0 1 0 -2.5,0M227.20,32.99a1.25,1.25 0 1 0 2.5,0a1.25,1.25 0 1 0 -2.5,0M241.96,32.99a1.25,1.25 0 1 0 2.5,0a1.25,1.25 0 1 0 -2.5,0M256.72,32.99a1.25,1.25 0 1 0 2.5,0a1.25,1.25 0 1 0 -2.5,0M271.48,32.99a1.25,1.25 0 1 0 2.5,0a1.25,1.25 0 1 0 -2.5,0M286.24,32.99a1.25,1.25 0 1 0 2.5,0a1.25,1.25 0 1 0 -2.5,0M301.00,32.99a1.25,1.25 0 1 0 2.5,0a1.25,1.25 0 1 0 -2.5,0M315.76,32.99a1.25,1.25 0 1 0 2.5,0a1.25,1.25 0 1 0 -2.5,0M330.52,32.99a1.25,1.25 0 1 0 2.5,0a1.25,1.25 0 1 0 -2.5,0M345.28,32.99a1.25,1.25 0 1 0 2.5,0a1.25,1.25 0 1 0 -2.5,0M360.04,32.99a1.25,1.25 0 1 0 2.5,0a1.25,1.25 0 1 0 -2.5,0M374.80,32.99a1.25,1.25 0 1 0 2.5,0a1.25,1.25 0 1 0 -2.5,0M389.56,32.99a1.25,1.25 0 1 0 2.5,0a1.25,1.25 0 1 0 -2.5,0M404.32,32.99a1.25,1.25 0 1 0 2.5,0a1.25,1.25 0 1 0 -2.5,0M419.08,32.99a1.25,1.25 0 1 0 2.5,0a1.25,1.25 0 1 0 -2.5,0M433.84,32.99a1.25,1.25 0 1 0 2.5,0a1.25,1.25 0 1 0 -2.5,0M448.60,32.99a1.25,1.25 0 1 0 2.5,0a1.25,1.25 0 1 0 -2.5,0M463.36,32.99a1.25,1.25 0 1 0 2.5,0a1.25,1.25 0 1 0 -2.5,0M478.12,32.99a1.25,1.25 0 1 0 2.5,0a1.25,1.25 0 1 0 -2.5,0M492.88,32.99a1.25,1.25 0 1 0 2.5,0a1.25,1.25 0 1 0 -2.5,0M507.64,32.99a1.25,1.25 0 1 0 2.5,0a1.25,1.25 0 1 0 -2.5,0M522.40,32.99a1.25,1.25 0 1 0 2.5,0a1.25,1.25 0 1 0 -2.5,0M537.16,32.99a1.25,1.25 0 1 0 2.5,0a1.25,1.25 0 1 0 -2.5,0M551.92,32.99a1.25,1.25 0 1 0 2.5,0a1.25,1.25 0 1 0 -2.5,0M566.68,32.99a1.25,1.25 0 1 0 2.5,0a1.25,1.25 0 1 0 -2.5,0M581.44,32.99a1.25,1.25 0 1 0 2.5,0a1.25,1.25 0 1 0 -2.5,0M596.20,32.99a1.25,1.25 0 1 0 2.5,0a1.25,1.25 0 1 0 -2.5,0M610.96,32.99a1.25,1.25 0 1 0 2.5,0a1.25,1.25 0 1 0 -2.5,0M625.72,32.99a1.25,1.25 0 1 0 2.5,0a1.25,1.25 0 1 0 -2.5,0M640.48,32.99a1.25,1.25 0 1 0 2.5,0a1.25,1.25 0 1 0 -2.5,0M655.24,32.99a1.25,1.25 0 1 0 2.5,0a1.25,1.25 0 1 0 -2.5,0M670.00,32.99a1.25,1.25 0 1 0 2.5,0a1.25,1.25 0 1 0 -2.5,0M684.76,32.99a1.25,1.25 0 1 0 2.5,0a1.25,1.25 0 1 0 -2.5,0M5.80,47.73a1.25,1.25 0 1 0 2.5,0a1.25,1.25 0 1 0 -2.5,0M20.56,47.73a1.25,1.25 0 1 0 2.5,0a1.25,1.25 0 1 0 -2.5,0M35.32,47.73a1.25,1.25 0 1 0 2.5,0a1.25,1.25 0 1 0 -2.5,0M50.08,47.73a1.25,1.25 0 1 0 2.5,0a1.25,1.25 0 1 0 -2.5,0M64.84,47.73a1.25,1.25 0 1 0 2.5,0a1.25,1.25 0 1 0 -2.5,0M79.60,47.73a1.25,1.25 0 1 0 2.5,0a1.25,1.25 0 1 0 -2.5,0M94.36,47.73a1.25,1.25 0 1 0 2.5,0a1.25,1.25 0 1 0 -2.5,0M109.12,47.73a1.25,1.25 0 1 0 2.5,0a1.25,1.25 0 1 0 -2.5,0M123.88,47.73a1.25,1.25 0 1 0 2.5,0a1.25,1.25 0 1 0 -2.5,0M138.64,47.73a1.25,1.25 0 1 0 2.5,0a1.25,1.25 0 1 0 -2.5,0M153.40,47.73a1.25,1.25 0 1 0 2.5,0a1.25,1.25 0 1 0 -2.5,0M168.16,47.73a1.25,1.25 0 1 0 2.5,0a1.25,1.25 0 1 0 -2.5,0M182.92,47.73a1.25,1.25 0 1 0 2.5,0a1.25,1.25 0 1 0 -2.5,0M197.68,47.73a1.25,1.25 0 1 0 2.5,0a1.25,1.25 0 1 0 -2.5,0M212.44,47.73a1.25,1.25 0 1 0 2.5,0a1.25,1.25 0 1 0 -2.5,0M227.20,47.73a1.25,1.25 0 1 0 2.5,0a1.25,1.25 0 1 0 -2.5,0M241.96,47.73a1.25,1.25 0 1 0 2.5,0a1.25,1.25 0 1 0 -2.5,0M256.72,47.73a1.25,1.25 0 1 0 2.5,0a1.25,1.25 0 1 0 -2.5,0M271.48,47.73a1.25,1.25 0 1 0 2.5,0a1.25,1.25 0 1 0 -2.5,0M286.24,47.73a1.25,1.25 0 1 0 2.5,0a1.25,1.25 0 1 0 -2.5,0M301.00,47.73a1.25,1.25 0 1 0 2.5,0a1.25,1.25 0 1 0 -2.5,0M315.76,47.73a1.25,1.25 0 1 0 2.5,0a1.25,1.25 0 1 0 -2.5,0M330.52,47.73a1.25,1.25 0 1 0 2.5,0a1.25,1.25 0 1 0 -2.5,0M345.28,47.73a1.25,1.25 0 1 0 2.5,0a1.25,1.25 0 1 0 -2.5,0M360.04,47.73a1.25,1.25 0 1 0 2.5,0a1.25,1.25 0 1 0 -2.5,0M374.80,47.73a1.25,1.25 0 1 0 2.5,0a1.25,1.25 0 1 0 -2.5,0M389.56,47.73a1.25,1.25 0 1 0 2.5,0a1.25,1.25 0 1 0 -2.5,0M404.32,47.73a1.25,1.25 0 1 0 2.5,0a1.25,1.25 0 1 0 -2.5,0M419.08,47.73a1.25,1.25 0 1 0 2.5,0a1.25,1.25 0 1 0 -2.5,0M433.84,47.73a1.25,1.25 0 1 0 2.5,0a1.25,1.25 0 1 0 -2.5,0M448.60,47.73a1.25,1.25 0 1 0 2.5,0a1.25,1.25 0 1 0 -2.5,0M463.36,47.73a1.25,1.25 0 1 0 2.5,0a1.25,1.25 0 1 0 -2.5,0M478.12,47.73a1.25,1.25 0 1 0 2.5,0a1.25,1.25 0 1 0 -2.5,0M492.88,47.73a1.25,1.25 0 1 0 2.5,0a1.25,1.25 0 1 0 -2.5,0M507.64,47.73a1.25,1.25 0 1 0 2.5,0a1.25,1.25 0 1 0 -2.5,0M522.40,47.73a1.25,1.25 0 1 0 2.5,0a1.25,1.25 0 1 0 -2.5,0M537.16,47.73a1.25,1.25 0 1 0 2.5,0a1.25,1.25 0 1 0 -2.5,0M551.92,47.73a1.25,1.25 0 1 0 2.5,0a1.25,1.25 0 1 0 -2.5,0M566.68,47.73a1.25,1.25 0 1 0 2.5,0a1.25,1.25 0 1 0 -2.5,0M581.44,47.73a1.25,1.25 0 1 0 2.5,0a1.25,1.25 0 1 0 -2.5,0M596.20,47.73a1.25,1.25 0 1 0 2.5,0a1.25,1.25 0 1 0 -2.5,0M610.96,47.73a1.25,1.25 0 1 0 2.5,0a1.25,1.25 0 1 0 -2.5,0M625.72,47.73a1.25,1.25 0 1 0 2.5,0a1.25,1.25 0 1 0 -2.5,0M640.48,47.73a1.25,1.25 0 1 0 2.5,0a1.25,1.25 0 1 0 -2.5,0M655.24,47.73a1.25,1.25 0 1 0 2.5,0a1.25,1.25 0 1 0 -2.5,0M670.00,47.73a1.25,1.25 0 1 0 2.5,0a1.25,1.25 0 1 0 -2.5,0M684.76,47.73a1.25,1.25 0 1 0 2.5,0a1.25,1.25 0 1 0 -2.5,0M5.80,62.48a1.25,1.25 0 1 0 2.5,0a1.25,1.25 0 1 0 -2.5,0M20.56,62.48a1.25,1.25 0 1 0 2.5,0a1.25,1.25 0 1 0 -2.5,0M35.32,62.48a1.25,1.25 0 1 0 2.5,0a1.25,1.25 0 1 0 -2.5,0M50.08,62.48a1.25,1.25 0 1 0 2.5,0a1.25,1.25 0 1 0 -2.5,0M64.84,62.48a1.25,1.25 0 1 0 2.5,0a1.25,1.25 0 1 0 -2.5,0M79.60,62.48a1.25,1.25 0 1 0 2.5,0a1.25,1.25 0 1 0 -2.5,0M94.36,62.48a1.25,1.25 0 1 0 2.5,0a1.25,1.25 0 1 0 -2.5,0M109.12,62.48a1.25,1.25 0 1 0 2.5,0a1.25,1.25 0 1 0 -2.5,0M123.88,62.48a1.25,1.25 0 1 0 2.5,0a1.25,1.25 0 1 0 -2.5,0M138.64,62.48a1.25,1.25 0 1 0 2.5,0a1.25,1.25 0 1 0 -2.5,0M153.40,62.48a1.25,1.25 0 1 0 2.5,0a1.25,1.25 0 1 0 -2.5,0M168.16,62.48a1.25,1.25 0 1 0 2.5,0a1.25,1.25 0 1 0 -2.5,0M182.92,62.48a1.25,1.25 0 1 0 2.5,0a1.25,1.25 0 1 0 -2.5,0M197.68,62.48a1.25,1.25 0 1 0 2.5,0a1.25,1.25 0 1 0 -2.5,0M212.44,62.48a1.25,1.25 0 1 0 2.5,0a1.25,1.25 0 1 0 -2.5,0M227.20,62.48a1.25,1.25 0 1 0 2.5,0a1.25,1.25 0 1 0 -2.5,0M241.96,62.48a1.25,1.25 0 1 0 2.5,0a1.25,1.25 0 1 0 -2.5,0M256.72,62.48a1.25,1.25 0 1 0 2.5,0a1.25,1.25 0 1 0 -2.5,0M271.48,62.48a1.25,1.25 0 1 0 2.5,0a1.25,1.25 0 1 0 -2.5,0M286.24,62.48a1.25,1.25 0 1 0 2.5,0a1.25,1.25 0 1 0 -2.5,0M301.00,62.48a1.25,1.25 0 1 0 2.5,0a1.25,1.25 0 1 0 -2.5,0M315.76,62.48a1.25,1.25 0 1 0 2.5,0a1.25,1.25 0 1 0 -2.5,0M330.52,62.48a1.25,1.25 0 1 0 2.5,0a1.25,1.25 0 1 0 -2.5,0M345.28,62.48a1.25,1.25 0 1 0 2.5,0a1.25,1.25 0 1 0 -2.5,0M360.04,62.48a1.25,1.25 0 1 0 2.5,0a1.25,1.25 0 1 0 -2.5,0M374.80,62.48a1.25,1.25 0 1 0 2.5,0a1.25,1.25 0 1 0 -2.5,0M389.56,62.48a1.25,1.25 0 1 0 2.5,0a1.25,1.25 0 1 0 -2.5,0M404.32,62.48a1.25,1.25 0 1 0 2.5,0a1.25,1.25 0 1 0 -2.5,0M419.08,62.48a1.25,1.25 0 1 0 2.5,0a1.25,1.25 0 1 0 -2.5,0M433.84,62.48a1.25,1.25 0 1 0 2.5,0a1.25,1.25 0 1 0 -2.5,0M448.60,62.48a1.25,1.25 0 1 0 2.5,0a1.25,1.25 0 1 0 -2.5,0M463.36,62.48a1.25,1.25 0 1 0 2.5,0a1.25,1.25 0 1 0 -2.5,0M478.12,62.48a1.25,1.25 0 1 0 2.5,0a1.25,1.25 0 1 0 -2.5,0M492.88,62.48a1.25,1.25 0 1 0 2.5,0a1.25,1.25 0 1 0 -2.5,0M507.64,62.48a1.25,1.25 0 1 0 2.5,0a1.25,1.25 0 1 0 -2.5,0M522.40,62.48a1.25,1.25 0 1 0 2.5,0a1.25,1.25 0 1 0 -2.5,0M537.16,62.48a1.25,1.25 0 1 0 2.5,0a1.25,1.25 0 1 0 -2.5,0M551.92,62.48a1.25,1.25 0 1 0 2.5,0a1.25,1.25 0 1 0 -2.5,0M566.68,62.48a1.25,1.25 0 1 0 2.5,0a1.25,1.25 0 1 0 -2.5,0M581.44,62.48a1.25,1.25 0 1 0 2.5,0a1.25,1.25 0 1 0 -2.5,0M596.20,62.48a1.25,1.25 0 1 0 2.5,0a1.25,1.25 0 1 0 -2.5,0M610.96,62.48a1.25,1.25 0 1 0 2.5,0a1.25,1.25 0 1 0 -2.5,0M625.72,62.48a1.25,1.25 0 1 0 2.5,0a1.25,1.25 0 1 0 -2.5,0M640.48,62.48a1.25,1.25 0 1 0 2.5,0a1.25,1.25 0 1 0 -2.5,0M655.24,62.48a1.25,1.25 0 1 0 2.5,0a1.25,1.25 0 1 0 -2.5,0M670.00,62.48a1.25,1.25 0 1 0 2.5,0a1.25,1.25 0 1 0 -2.5,0M684.76,62.48a1.25,1.25 0 1 0 2.5,0a1.25,1.25 0 1 0 -2.5,0M5.80,77.22a1.25,1.25 0 1 0 2.5,0a1.25,1.25 0 1 0 -2.5,0M20.56,77.22a1.25,1.25 0 1 0 2.5,0a1.25,1.25 0 1 0 -2.5,0M35.32,77.22a1.25,1.25 0 1 0 2.5,0a1.25,1.25 0 1 0 -2.5,0M50.08,77.22a1.25,1.25 0 1 0 2.5,0a1.25,1.25 0 1 0 -2.5,0M64.84,77.22a1.25,1.25 0 1 0 2.5,0a1.25,1.25 0 1 0 -2.5,0M79.60,77.22a1.25,1.25 0 1 0 2.5,0a1.25,1.25 0 1 0 -2.5,0M94.36,77.22a1.25,1.25 0 1 0 2.5,0a1.25,1.25 0 1 0 -2.5,0M109.12,77.22a1.25,1.25 0 1 0 2.5,0a1.25,1.25 0 1 0 -2.5,0M123.88,77.22a1.25,1.25 0 1 0 2.5,0a1.25,1.25 0 1 0 -2.5,0M138.64,77.22a1.25,1.25 0 1 0 2.5,0a1.25,1.25 0 1 0 -2.5,0M153.40,77.22a1.25,1.25 0 1 0 2.5,0a1.25,1.25 0 1 0 -2.5,0M168.16,77.22a1.25,1.25 0 1 0 2.5,0a1.25,1.25 0 1 0 -2.5,0M182.92,77.22a1.25,1.25 0 1 0 2.5,0a1.25,1.25 0 1 0 -2.5,0M197.68,77.22a1.25,1.25 0 1 0 2.5,0a1.25,1.25 0 1 0 -2.5,0M212.44,77.22a1.25,1.25 0 1 0 2.5,0a1.25,1.25 0 1 0 -2.5,0M227.20,77.22a1.25,1.25 0 1 0 2.5,0a1.25,1.25 0 1 0 -2.5,0M241.96,77.22a1.25,1.25 0 1 0 2.5,0a1.25,1.25 0 1 0 -2.5,0M256.72,77.22a1.25,1.25 0 1 0 2.5,0a1.25,1.25 0 1 0 -2.5,0M271.48,77.22a1.25,1.25 0 1 0 2.5,0a1.25,1.25 0 1 0 -2.5,0M286.24,77.22a1.25,1.25 0 1 0 2.5,0a1.25,1.25 0 1 0 -2.5,0M301.00,77.22a1.25,1.25 0 1 0 2.5,0a1.25,1.25 0 1 0 -2.5,0M315.76,77.22a1.25,1.25 0 1 0 2.5,0a1.25,1.25 0 1 0 -2.5,0M330.52,77.22a1.25,1.25 0 1 0 2.5,0a1.25,1.25 0 1 0 -2.5,0M345.28,77.22a1.25,1.25 0 1 0 2.5,0a1.25,1.25 0 1 0 -2.5,0M360.04,77.22a1.25,1.25 0 1 0 2.5,0a1.25,1.25 0 1 0 -2.5,0M374.80,77.22a1.25,1.25 0 1 0 2.5,0a1.25,1.25 0 1 0 -2.5,0M389.56,77.22a1.25,1.25 0 1 0 2.5,0a1.25,1.25 0 1 0 -2.5,0M404.32,77.22a1.25,1.25 0 1 0 2.5,0a1.25,1.25 0 1 0 -2.5,0M419.08,77.22a1.25,1.25 0 1 0 2.5,0a1.25,1.25 0 1 0 -2.5,0M433.84,77.22a1.25,1.25 0 1 0 2.5,0a1.25,1.25 0 1 0 -2.5,0M448.60,77.22a1.25,1.25 0 1 0 2.5,0a1.25,1.25 0 1 0 -2.5,0M463.36,77.22a1.25,1.25 0 1 0 2.5,0a1.25,1.25 0 1 0 -2.5,0M478.12,77.22a1.25,1.25 0 1 0 2.5,0a1.25,1.25 0 1 0 -2.5,0M492.88,77.22a1.25,1.25 0 1 0 2.5,0a1.25,1.25 0 1 0 -2.5,0M507.64,77.22a1.25,1.25 0 1 0 2.5,0a1.25,1.25 0 1 0 -2.5,0M522.40,77.22a1.25,1.25 0 1 0 2.5,0a1.25,1.25 0 1 0 -2.5,0M537.16,77.22a1.25,1.25 0 1 0 2.5,0a1.25,1.25 0 1 0 -2.5,0M551.92,77.22a1.25,1.25 0 1 0 2.5,0a1.25,1.25 0 1 0 -2.5,0M566.68,77.22a1.25,1.25 0 1 0 2.5,0a1.25,1.25 0 1 0 -2.5,0M581.44,77.22a1.25,1.25 0 1 0 2.5,0a1.25,1.25 0 1 0 -2.5,0M596.20,77.22a1.25,1.25 0 1 0 2.5,0a1.25,1.25 0 1 0 -2.5,0M610.96,77.22a1.25,1.25 0 1 0 2.5,0a1.25,1.25 0 1 0 -2.5,0M625.72,77.22a1.25,1.25 0 1 0 2.5,0a1.25,1.25 0 1 0 -2.5,0M640.48,77.22a1.25,1.25 0 1 0 2.5,0a1.25,1.25 0 1 0 -2.5,0M655.24,77.22a1.25,1.25 0 1 0 2.5,0a1.25,1.25 0 1 0 -2.5,0M670.00,77.22a1.25,1.25 0 1 0 2.5,0a1.25,1.25 0 1 0 -2.5,0M684.76,77.22a1.25,1.25 0 1 0 2.5,0a1.25,1.25 0 1 0 -2.5,0M5.80,91.97a1.25,1.25 0 1 0 2.5,0a1.25,1.25 0 1 0 -2.5,0M20.56,91.97a1.25,1.25 0 1 0 2.5,0a1.25,1.25 0 1 0 -2.5,0M35.32,91.97a1.25,1.25 0 1 0 2.5,0a1.25,1.25 0 1 0 -2.5,0M50.08,91.97a1.25,1.25 0 1 0 2.5,0a1.25,1.25 0 1 0 -2.5,0M64.84,91.97a1.25,1.25 0 1 0 2.5,0a1.25,1.25 0 1 0 -2.5,0M79.60,91.97a1.25,1.25 0 1 0 2.5,0a1.25,1.25 0 1 0 -2.5,0M94.36,91.97a1.25,1.25 0 1 0 2.5,0a1.25,1.25 0 1 0 -2.5,0M109.12,91.97a1.25,1.25 0 1 0 2.5,0a1.25,1.25 0 1 0 -2.5,0M123.88,91.97a1.25,1.25 0 1 0 2.5,0a1.25,1.25 0 1 0 -2.5,0M138.64,91.97a1.25,1.25 0 1 0 2.5,0a1.25,1.25 0 1 0 -2.5,0M153.40,91.97a1.25,1.25 0 1 0 2.5,0a1.25,1.25 0 1 0 -2.5,0M168.16,91.97a1.25,1.25 0 1 0 2.5,0a1.25,1.25 0 1 0 -2.5,0M182.92,91.97a1.25,1.25 0 1 0 2.5,0a1.25,1.25 0 1 0 -2.5,0M197.68,91.97a1.25,1.25 0 1 0 2.5,0a1.25,1.25 0 1 0 -2.5,0M212.44,91.97a1.25,1.25 0 1 0 2.5,0a1.25,1.25 0 1 0 -2.5,0M227.20,91.97a1.25,1.25 0 1 0 2.5,0a1.25,1.25 0 1 0 -2.5,0M241.96,91.97a1.25,1.25 0 1 0 2.5,0a1.25,1.25 0 1 0 -2.5,0M256.72,91.97a1.25,1.25 0 1 0 2.5,0a1.25,1.25 0 1 0 -2.5,0M271.48,91.97a1.25,1.25 0 1 0 2.5,0a1.25,1.25 0 1 0 -2.5,0M286.24,91.97a1.25,1.25 0 1 0 2.5,0a1.25,1.25 0 1 0 -2.5,0M301.00,91.97a1.25,1.25 0 1 0 2.5,0a1.25,1.25 0 1 0 -2.5,0M315.76,91.97a1.25,1.25 0 1 0 2.5,0a1.25,1.25 0 1 0 -2.5,0M330.52,91.97a1.25,1.25 0 1 0 2.5,0a1.25,1.25 0 1 0 -2.5,0M345.28,91.97a1.25,1.25 0 1 0 2.5,0a1.25,1.25 0 1 0 -2.5,0M360.04,91.97a1.25,1.25 0 1 0 2.5,0a1.25,1.25 0 1 0 -2.5,0M374.80,91.97a1.25,1.25 0 1 0 2.5,0a1.25,1.25 0 1 0 -2.5,0M389.56,91.97a1.25,1.25 0 1 0 2.5,0a1.25,1.25 0 1 0 -2.5,0M404.32,91.97a1.25,1.25 0 1 0 2.5,0a1.25,1.25 0 1 0 -2.5,0M419.08,91.97a1.25,1.25 0 1 0 2.5,0a1.25,1.25 0 1 0 -2.5,0M433.84,91.97a1.25,1.25 0 1 0 2.5,0a1.25,1.25 0 1 0 -2.5,0M448.60,91.97a1.25,1.25 0 1 0 2.5,0a1.25,1.25 0 1 0 -2.5,0M463.36,91.97a1.25,1.25 0 1 0 2.5,0a1.25,1.25 0 1 0 -2.5,0M478.12,91.97a1.25,1.25 0 1 0 2.5,0a1.25,1.25 0 1 0 -2.5,0M492.88,91.97a1.25,1.25 0 1 0 2.5,0a1.25,1.25 0 1 0 -2.5,0M507.64,91.97a1.25,1.25 0 1 0 2.5,0a1.25,1.25 0 1 0 -2.5,0M522.40,91.97a1.25,1.25 0 1 0 2.5,0a1.25,1.25 0 1 0 -2.5,0M537.16,91.97a1.25,1.25 0 1 0 2.5,0a1.25,1.25 0 1 0 -2.5,0M551.92,91.97a1.25,1.25 0 1 0 2.5,0a1.25,1.25 0 1 0 -2.5,0M566.68,91.97a1.25,1.25 0 1 0 2.5,0a1.25,1.25 0 1 0 -2.5,0M581.44,91.97a1.25,1.25 0 1 0 2.5,0a1.25,1.25 0 1 0 -2.5,0M596.20,91.97a1.25,1.25 0 1 0 2.5,0a1.25,1.25 0 1 0 -2.5,0M610.96,91.97a1.25,1.25 0 1 0 2.5,0a1.25,1.25 0 1 0 -2.5,0M625.72,91.97a1.25,1.25 0 1 0 2.5,0a1.25,1.25 0 1 0 -2.5,0M640.48,91.97a1.25,1.25 0 1 0 2.5,0a1.25,1.25 0 1 0 -2.5,0M655.24,91.97a1.25,1.25 0 1 0 2.5,0a1.25,1.25 0 1 0 -2.5,0M670.00,91.97a1.25,1.25 0 1 0 2.5,0a1.25,1.25 0 1 0 -2.5,0M684.76,91.97a1.25,1.25 0 1 0 2.5,0a1.25,1.25 0 1 0 -2.5,0M5.80,106.72a1.25,1.25 0 1 0 2.5,0a1.25,1.25 0 1 0 -2.5,0M20.56,106.72a1.25,1.25 0 1 0 2.5,0a1.25,1.25 0 1 0 -2.5,0M35.32,106.72a1.25,1.25 0 1 0 2.5,0a1.25,1.25 0 1 0 -2.5,0M50.08,106.72a1.25,1.25 0 1 0 2.5,0a1.25,1.25 0 1 0 -2.5,0M64.84,106.72a1.25,1.25 0 1 0 2.5,0a1.25,1.25 0 1 0 -2.5,0M79.60,106.72a1.25,1.25 0 1 0 2.5,0a1.25,1.25 0 1 0 -2.5,0M94.36,106.72a1.25,1.25 0 1 0 2.5,0a1.25,1.25 0 1 0 -2.5,0M109.12,106.72a1.25,1.25 0 1 0 2.5,0a1.25,1.25 0 1 0 -2.5,0M123.88,106.72a1.25,1.25 0 1 0 2.5,0a1.25,1.25 0 1 0 -2.5,0M138.64,106.72a1.25,1.25 0 1 0 2.5,0a1.25,1.25 0 1 0 -2.5,0M153.40,106.72a1.25,1.25 0 1 0 2.5,0a1.25,1.25 0 1 0 -2.5,0M168.16,106.72a1.25,1.25 0 1 0 2.5,0a1.25,1.25 0 1 0 -2.5,0M182.92,106.72a1.25,1.25 0 1 0 2.5,0a1.25,1.25 0 1 0 -2.5,0M197.68,106.72a1.25,1.25 0 1 0 2.5,0a1.25,1.25 0 1 0 -2.5,0M212.44,106.72a1.25,1.25 0 1 0 2.5,0a1.25,1.25 0 1 0 -2.5,0M227.20,106.72a1.25,1.25 0 1 0 2.5,0a1.25,1.25 0 1 0 -2.5,0M241.96,106.72a1.25,1.25 0 1 0 2.5,0a1.25,1.25 0 1 0 -2.5,0M256.72,106.72a1.25,1.25 0 1 0 2.5,0a1.25,1.25 0 1 0 -2.5,0M271.48,106.72a1.25,1.25 0 1 0 2.5,0a1.25,1.25 0 1 0 -2.5,0M286.24,106.72a1.25,1.25 0 1 0 2.5,0a1.25,1.25 0 1 0 -2.5,0M301.00,106.72a1.25,1.25 0 1 0 2.5,0a1.25,1.25 0 1 0 -2.5,0M315.76,106.72a1.25,1.25 0 1 0 2.5,0a1.25,1.25 0 1 0 -2.5,0M330.52,106.72a1.25,1.25 0 1 0 2.5,0a1.25,1.25 0 1 0 -2.5,0M345.28,106.72a1.25,1.25 0 1 0 2.5,0a1.25,1.25 0 1 0 -2.5,0M360.04,106.72a1.25,1.25 0 1 0 2.5,0a1.25,1.25 0 1 0 -2.5,0M374.80,106.72a1.25,1.25 0 1 0 2.5,0a1.25,1.25 0 1 0 -2.5,0M389.56,106.72a1.25,1.25 0 1 0 2.5,0a1.25,1.25 0 1 0 -2.5,0M404.32,106.72a1.25,1.25 0 1 0 2.5,0a1.25,1.25 0 1 0 -2.5,0M419.08,106.72a1.25,1.25 0 1 0 2.5,0a1.25,1.25 0 1 0 -2.5,0M433.84,106.72a1.25,1.25 0 1 0 2.5,0a1.25,1.25 0 1 0 -2.5,0M448.60,106.72a1.25,1.25 0 1 0 2.5,0a1.25,1.25 0 1 0 -2.5,0M463.36,106.72a1.25,1.25 0 1 0 2.5,0a1.25,1.25 0 1 0 -2.5,0M478.12,106.72a1.25,1.25 0 1 0 2.5,0a1.25,1.25 0 1 0 -2.5,0M492.88,106.72a1.25,1.25 0 1 0 2.5,0a1.25,1.25 0 1 0 -2.5,0M507.64,106.72a1.25,1.25 0 1 0 2.5,0a1.25,1.25 0 1 0 -2.5,0M522.40,106.72a1.25,1.25 0 1 0 2.5,0a1.25,1.25 0 1 0 -2.5,0M537.16,106.72a1.25,1.25 0 1 0 2.5,0a1.25,1.25 0 1 0 -2.5,0M551.92,106.72a1.25,1.25 0 1 0 2.5,0a1.25,1.25 0 1 0 -2.5,0M566.68,106.72a1.25,1.25 0 1 0 2.5,0a1.25,1.25 0 1 0 -2.5,0M581.44,106.72a1.25,1.25 0 1 0 2.5,0a1.25,1.25 0 1 0 -2.5,0M596.20,106.72a1.25,1.25 0 1 0 2.5,0a1.25,1.25 0 1 0 -2.5,0M610.96,106.72a1.25,1.25 0 1 0 2.5,0a1.25,1.25 0 1 0 -2.5,0M625.72,106.72a1.25,1.25 0 1 0 2.5,0a1.25,1.25 0 1 0 -2.5,0M640.48,106.72a1.25,1.25 0 1 0 2.5,0a1.25,1.25 0 1 0 -2.5,0M655.24,106.72a1.25,1.25 0 1 0 2.5,0a1.25,1.25 0 1 0 -2.5,0M670.00,106.72a1.25,1.25 0 1 0 2.5,0a1.25,1.25 0 1 0 -2.5,0M684.76,106.72a1.25,1.25 0 1 0 2.5,0a1.25,1.25 0 1 0 -2.5,0M5.80,121.46a1.25,1.25 0 1 0 2.5,0a1.25,1.25 0 1 0 -2.5,0M20.56,121.46a1.25,1.25 0 1 0 2.5,0a1.25,1.25 0 1 0 -2.5,0M35.32,121.46a1.25,1.25 0 1 0 2.5,0a1.25,1.25 0 1 0 -2.5,0M50.08,121.46a1.25,1.25 0 1 0 2.5,0a1.25,1.25 0 1 0 -2.5,0M64.84,121.46a1.25,1.25 0 1 0 2.5,0a1.25,1.25 0 1 0 -2.5,0M79.60,121.46a1.25,1.25 0 1 0 2.5,0a1.25,1.25 0 1 0 -2.5,0M94.36,121.46a1.25,1.25 0 1 0 2.5,0a1.25,1.25 0 1 0 -2.5,0M109.12,121.46a1.25,1.25 0 1 0 2.5,0a1.25,1.25 0 1 0 -2.5,0M123.88,121.46a1.25,1.25 0 1 0 2.5,0a1.25,1.25 0 1 0 -2.5,0M138.64,121.46a1.25,1.25 0 1 0 2.5,0a1.25,1.25 0 1 0 -2.5,0M153.40,121.46a1.25,1.25 0 1 0 2.5,0a1.25,1.25 0 1 0 -2.5,0M168.16,121.46a1.25,1.25 0 1 0 2.5,0a1.25,1.25 0 1 0 -2.5,0M182.92,121.46a1.25,1.25 0 1 0 2.5,0a1.25,1.25 0 1 0 -2.5,0M197.68,121.46a1.25,1.25 0 1 0 2.5,0a1.25,1.25 0 1 0 -2.5,0M212.44,121.46a1.25,1.25 0 1 0 2.5,0a1.25,1.25 0 1 0 -2.5,0M227.20,121.46a1.25,1.25 0 1 0 2.5,0a1.25,1.25 0 1 0 -2.5,0M241.96,121.46a1.25,1.25 0 1 0 2.5,0a1.25,1.25 0 1 0 -2.5,0M256.72,121.46a1.25,1.25 0 1 0 2.5,0a1.25,1.25 0 1 0 -2.5,0M271.48,121.46a1.25,1.25 0 1 0 2.5,0a1.25,1.25 0 1 0 -2.5,0M286.24,121.46a1.25,1.25 0 1 0 2.5,0a1.25,1.25 0 1 0 -2.5,0M301.00,121.46a1.25,1.25 0 1 0 2.5,0a1.25,1.25 0 1 0 -2.5,0M315.76,121.46a1.25,1.25 0 1 0 2.5,0a1.25,1.25 0 1 0 -2.5,0M330.52,121.46a1.25,1.25 0 1 0 2.5,0a1.25,1.25 0 1 0 -2.5,0M345.28,121.46a1.25,1.25 0 1 0 2.5,0a1.25,1.25 0 1 0 -2.5,0M360.04,121.46a1.25,1.25 0 1 0 2.5,0a1.25,1.25 0 1 0 -2.5,0M374.80,121.46a1.25,1.25 0 1 0 2.5,0a1.25,1.25 0 1 0 -2.5,0M389.56,121.46a1.25,1.25 0 1 0 2.5,0a1.25,1.25 0 1 0 -2.5,0M404.32,121.46a1.25,1.25 0 1 0 2.5,0a1.25,1.25 0 1 0 -2.5,0M419.08,121.46a1.25,1.25 0 1 0 2.5,0a1.25,1.25 0 1 0 -2.5,0M433.84,121.46a1.25,1.25 0 1 0 2.5,0a1.25,1.25 0 1 0 -2.5,0M448.60,121.46a1.25,1.25 0 1 0 2.5,0a1.25,1.25 0 1 0 -2.5,0M463.36,121.46a1.25,1.25 0 1 0 2.5,0a1.25,1.25 0 1 0 -2.5,0M478.12,121.46a1.25,1.25 0 1 0 2.5,0a1.25,1.25 0 1 0 -2.5,0M492.88,121.46a1.25,1.25 0 1 0 2.5,0a1.25,1.25 0 1 0 -2.5,0M507.64,121.46a1.25,1.25 0 1 0 2.5,0a1.25,1.25 0 1 0 -2.5,0M522.40,121.46a1.25,1.25 0 1 0 2.5,0a1.25,1.25 0 1 0 -2.5,0M537.16,121.46a1.25,1.25 0 1 0 2.5,0a1.25,1.25 0 1 0 -2.5,0M551.92,121.46a1.25,1.25 0 1 0 2.5,0a1.25,1.25 0 1 0 -2.5,0M566.68,121.46a1.25,1.25 0 1 0 2.5,0a1.25,1.25 0 1 0 -2.5,0M581.44,121.46a1.25,1.25 0 1 0 2.5,0a1.25,1.25 0 1 0 -2.5,0M596.20,121.46a1.25,1.25 0 1 0 2.5,0a1.25,1.25 0 1 0 -2.5,0M610.96,121.46a1.25,1.25 0 1 0 2.5,0a1.25,1.25 0 1 0 -2.5,0M625.72,121.46a1.25,1.25 0 1 0 2.5,0a1.25,1.25 0 1 0 -2.5,0M640.48,121.46a1.25,1.25 0 1 0 2.5,0a1.25,1.25 0 1 0 -2.5,0M655.24,121.46a1.25,1.25 0 1 0 2.5,0a1.25,1.25 0 1 0 -2.5,0M670.00,121.46a1.25,1.25 0 1 0 2.5,0a1.25,1.25 0 1 0 -2.5,0M684.76,121.46a1.25,1.25 0 1 0 2.5,0a1.25,1.25 0 1 0 -2.5,0M5.80,136.21a1.25,1.25 0 1 0 2.5,0a1.25,1.25 0 1 0 -2.5,0M20.56,136.21a1.25,1.25 0 1 0 2.5,0a1.25,1.25 0 1 0 -2.5,0M35.32,136.21a1.25,1.25 0 1 0 2.5,0a1.25,1.25 0 1 0 -2.5,0M50.08,136.21a1.25,1.25 0 1 0 2.5,0a1.25,1.25 0 1 0 -2.5,0M64.84,136.21a1.25,1.25 0 1 0 2.5,0a1.25,1.25 0 1 0 -2.5,0M79.60,136.21a1.25,1.25 0 1 0 2.5,0a1.25,1.25 0 1 0 -2.5,0M94.36,136.21a1.25,1.25 0 1 0 2.5,0a1.25,1.25 0 1 0 -2.5,0M109.12,136.21a1.25,1.25 0 1 0 2.5,0a1.25,1.25 0 1 0 -2.5,0M123.88,136.21a1.25,1.25 0 1 0 2.5,0a1.25,1.25 0 1 0 -2.5,0M138.64,136.21a1.25,1.25 0 1 0 2.5,0a1.25,1.25 0 1 0 -2.5,0M153.40,136.21a1.25,1.25 0 1 0 2.5,0a1.25,1.25 0 1 0 -2.5,0M168.16,136.21a1.25,1.25 0 1 0 2.5,0a1.25,1.25 0 1 0 -2.5,0M182.92,136.21a1.25,1.25 0 1 0 2.5,0a1.25,1.25 0 1 0 -2.5,0M197.68,136.21a1.25,1.25 0 1 0 2.5,0a1.25,1.25 0 1 0 -2.5,0M212.44,136.21a1.25,1.25 0 1 0 2.5,0a1.25,1.25 0 1 0 -2.5,0M227.20,136.21a1.25,1.25 0 1 0 2.5,0a1.25,1.25 0 1 0 -2.5,0M241.96,136.21a1.25,1.25 0 1 0 2.5,0a1.25,1.25 0 1 0 -2.5,0M256.72,136.21a1.25,1.25 0 1 0 2.5,0a1.25,1.25 0 1 0 -2.5,0M271.48,136.21a1.25,1.25 0 1 0 2.5,0a1.25,1.25 0 1 0 -2.5,0M286.24,136.21a1.25,1.25 0 1 0 2.5,0a1.25,1.25 0 1 0 -2.5,0M301.00,136.21a1.25,1.25 0 1 0 2.5,0a1.25,1.25 0 1 0 -2.5,0M315.76,136.21a1.25,1.25 0 1 0 2.5,0a1.25,1.25 0 1 0 -2.5,0M330.52,136.21a1.25,1.25 0 1 0 2.5,0a1.25,1.25 0 1 0 -2.5,0M345.28,136.21a1.25,1.25 0 1 0 2.5,0a1.25,1.25 0 1 0 -2.5,0M360.04,136.21a1.25,1.25 0 1 0 2.5,0a1.25,1.25 0 1 0 -2.5,0M374.80,136.21a1.25,1.25 0 1 0 2.5,0a1.25,1.25 0 1 0 -2.5,0M389.56,136.21a1.25,1.25 0 1 0 2.5,0a1.25,1.25 0 1 0 -2.5,0M404.32,136.21a1.25,1.25 0 1 0 2.5,0a1.25,1.25 0 1 0 -2.5,0M419.08,136.21a1.25,1.25 0 1 0 2.5,0a1.25,1.25 0 1 0 -2.5,0M433.84,136.21a1.25,1.25 0 1 0 2.5,0a1.25,1.25 0 1 0 -2.5,0M448.60,136.21a1.25,1.25 0 1 0 2.5,0a1.25,1.25 0 1 0 -2.5,0M463.36,136.21a1.25,1.25 0 1 0 2.5,0a1.25,1.25 0 1 0 -2.5,0M478.12,136.21a1.25,1.25 0 1 0 2.5,0a1.25,1.25 0 1 0 -2.5,0M492.88,136.21a1.25,1.25 0 1 0 2.5,0a1.25,1.25 0 1 0 -2.5,0M507.64,136.21a1.25,1.25 0 1 0 2.5,0a1.25,1.25 0 1 0 -2.5,0M522.40,136.21a1.25,1.25 0 1 0 2.5,0a1.25,1.25 0 1 0 -2.5,0M537.16,136.21a1.25,1.25 0 1 0 2.5,0a1.25,1.25 0 1 0 -2.5,0M551.92,136.21a1.25,1.25 0 1 0 2.5,0a1.25,1.25 0 1 0 -2.5,0M566.68,136.21a1.25,1.25 0 1 0 2.5,0a1.25,1.25 0 1 0 -2.5,0M581.44,136.21a1.25,1.25 0 1 0 2.5,0a1.25,1.25 0 1 0 -2.5,0M596.20,136.21a1.25,1.25 0 1 0 2.5,0a1.25,1.25 0 1 0 -2.5,0M610.96,136.21a1.25,1.25 0 1 0 2.5,0a1.25,1.25 0 1 0 -2.5,0M625.72,136.21a1.25,1.25 0 1 0 2.5,0a1.25,1.25 0 1 0 -2.5,0M640.48,136.21a1.25,1.25 0 1 0 2.5,0a1.25,1.25 0 1 0 -2.5,0M655.24,136.21a1.25,1.25 0 1 0 2.5,0a1.25,1.25 0 1 0 -2.5,0M670.00,136.21a1.25,1.25 0 1 0 2.5,0a1.25,1.25 0 1 0 -2.5,0M684.76,136.21a1.25,1.25 0 1 0 2.5,0a1.25,1.25 0 1 0 -2.5,0M5.80,150.95a1.25,1.25 0 1 0 2.5,0a1.25,1.25 0 1 0 -2.5,0M20.56,150.95a1.25,1.25 0 1 0 2.5,0a1.25,1.25 0 1 0 -2.5,0M35.32,150.95a1.25,1.25 0 1 0 2.5,0a1.25,1.25 0 1 0 -2.5,0M50.08,150.95a1.25,1.25 0 1 0 2.5,0a1.25,1.25 0 1 0 -2.5,0M64.84,150.95a1.25,1.25 0 1 0 2.5,0a1.25,1.25 0 1 0 -2.5,0M79.60,150.95a1.25,1.25 0 1 0 2.5,0a1.25,1.25 0 1 0 -2.5,0M94.36,150.95a1.25,1.25 0 1 0 2.5,0a1.25,1.25 0 1 0 -2.5,0M109.12,150.95a1.25,1.25 0 1 0 2.5,0a1.25,1.25 0 1 0 -2.5,0M123.88,150.95a1.25,1.25 0 1 0 2.5,0a1.25,1.25 0 1 0 -2.5,0M138.64,150.95a1.25,1.25 0 1 0 2.5,0a1.25,1.25 0 1 0 -2.5,0M153.40,150.95a1.25,1.25 0 1 0 2.5,0a1.25,1.25 0 1 0 -2.5,0M168.16,150.95a1.25,1.25 0 1 0 2.5,0a1.25,1.25 0 1 0 -2.5,0M182.92,150.95a1.25,1.25 0 1 0 2.5,0a1.25,1.25 0 1 0 -2.5,0M197.68,150.95a1.25,1.25 0 1 0 2.5,0a1.25,1.25 0 1 0 -2.5,0M212.44,150.95a1.25,1.25 0 1 0 2.5,0a1.25,1.25 0 1 0 -2.5,0M227.20,150.95a1.25,1.25 0 1 0 2.5,0a1.25,1.25 0 1 0 -2.5,0M241.96,150.95a1.25,1.25 0 1 0 2.5,0a1.25,1.25 0 1 0 -2.5,0M256.72,150.95a1.25,1.25 0 1 0 2.5,0a1.25,1.25 0 1 0 -2.5,0M271.48,150.95a1.25,1.25 0 1 0 2.5,0a1.25,1.25 0 1 0 -2.5,0M286.24,150.95a1.25,1.25 0 1 0 2.5,0a1.25,1.25 0 1 0 -2.5,0M301.00,150.95a1.25,1.25 0 1 0 2.5,0a1.25,1.25 0 1 0 -2.5,0M315.76,150.95a1.25,1.25 0 1 0 2.5,0a1.25,1.25 0 1 0 -2.5,0M330.52,150.95a1.25,1.25 0 1 0 2.5,0a1.25,1.25 0 1 0 -2.5,0M345.28,150.95a1.25,1.25 0 1 0 2.5,0a1.25,1.25 0 1 0 -2.5,0M360.04,150.95a1.25,1.25 0 1 0 2.5,0a1.25,1.25 0 1 0 -2.5,0M374.80,150.95a1.25,1.25 0 1 0 2.5,0a1.25,1.25 0 1 0 -2.5,0M389.56,150.95a1.25,1.25 0 1 0 2.5,0a1.25,1.25 0 1 0 -2.5,0M404.32,150.95a1.25,1.25 0 1 0 2.5,0a1.25,1.25 0 1 0 -2.5,0M419.08,150.95a1.25,1.25 0 1 0 2.5,0a1.25,1.25 0 1 0 -2.5,0M433.84,150.95a1.25,1.25 0 1 0 2.5,0a1.25,1.25 0 1 0 -2.5,0M448.60,150.95a1.25,1.25 0 1 0 2.5,0a1.25,1.25 0 1 0 -2.5,0M463.36,150.95a1.25,1.25 0 1 0 2.5,0a1.25,1.25 0 1 0 -2.5,0M478.12,150.95a1.25,1.25 0 1 0 2.5,0a1.25,1.25 0 1 0 -2.5,0M492.88,150.95a1.25,1.25 0 1 0 2.5,0a1.25,1.25 0 1 0 -2.5,0M507.64,150.95a1.25,1.25 0 1 0 2.5,0a1.25,1.25 0 1 0 -2.5,0M522.40,150.95a1.25,1.25 0 1 0 2.5,0a1.25,1.25 0 1 0 -2.5,0M537.16,150.95a1.25,1.25 0 1 0 2.5,0a1.25,1.25 0 1 0 -2.5,0M551.92,150.95a1.25,1.25 0 1 0 2.5,0a1.25,1.25 0 1 0 -2.5,0M566.68,150.95a1.25,1.25 0 1 0 2.5,0a1.25,1.25 0 1 0 -2.5,0M581.44,150.95a1.25,1.25 0 1 0 2.5,0a1.25,1.25 0 1 0 -2.5,0M596.20,150.95a1.25,1.25 0 1 0 2.5,0a1.25,1.25 0 1 0 -2.5,0M610.96,150.95a1.25,1.25 0 1 0 2.5,0a1.25,1.25 0 1 0 -2.5,0M625.72,150.95a1.25,1.25 0 1 0 2.5,0a1.25,1.25 0 1 0 -2.5,0M640.48,150.95a1.25,1.25 0 1 0 2.5,0a1.25,1.25 0 1 0 -2.5,0M655.24,150.95a1.25,1.25 0 1 0 2.5,0a1.25,1.25 0 1 0 -2.5,0M670.00,150.95a1.25,1.25 0 1 0 2.5,0a1.25,1.25 0 1 0 -2.5,0M684.76,150.95a1.25,1.25 0 1 0 2.5,0a1.25,1.25 0 1 0 -2.5,0M5.80,165.70a1.25,1.25 0 1 0 2.5,0a1.25,1.25 0 1 0 -2.5,0M20.56,165.70a1.25,1.25 0 1 0 2.5,0a1.25,1.25 0 1 0 -2.5,0M35.32,165.70a1.25,1.25 0 1 0 2.5,0a1.25,1.25 0 1 0 -2.5,0M50.08,165.70a1.25,1.25 0 1 0 2.5,0a1.25,1.25 0 1 0 -2.5,0M64.84,165.70a1.25,1.25 0 1 0 2.5,0a1.25,1.25 0 1 0 -2.5,0M79.60,165.70a1.25,1.25 0 1 0 2.5,0a1.25,1.25 0 1 0 -2.5,0M94.36,165.70a1.25,1.25 0 1 0 2.5,0a1.25,1.25 0 1 0 -2.5,0M109.12,165.70a1.25,1.25 0 1 0 2.5,0a1.25,1.25 0 1 0 -2.5,0M123.88,165.70a1.25,1.25 0 1 0 2.5,0a1.25,1.25 0 1 0 -2.5,0M138.64,165.70a1.25,1.25 0 1 0 2.5,0a1.25,1.25 0 1 0 -2.5,0M153.40,165.70a1.25,1.25 0 1 0 2.5,0a1.25,1.25 0 1 0 -2.5,0M168.16,165.70a1.25,1.25 0 1 0 2.5,0a1.25,1.25 0 1 0 -2.5,0M182.92,165.70a1.25,1.25 0 1 0 2.5,0a1.25,1.25 0 1 0 -2.5,0M197.68,165.70a1.25,1.25 0 1 0 2.5,0a1.25,1.25 0 1 0 -2.5,0M212.44,165.70a1.25,1.25 0 1 0 2.5,0a1.25,1.25 0 1 0 -2.5,0M227.20,165.70a1.25,1.25 0 1 0 2.5,0a1.25,1.25 0 1 0 -2.5,0M241.96,165.70a1.25,1.25 0 1 0 2.5,0a1.25,1.25 0 1 0 -2.5,0M256.72,165.70a1.25,1.25 0 1 0 2.5,0a1.25,1.25 0 1 0 -2.5,0M271.48,165.70a1.25,1.25 0 1 0 2.5,0a1.25,1.25 0 1 0 -2.5,0M286.24,165.70a1.25,1.25 0 1 0 2.5,0a1.25,1.25 0 1 0 -2.5,0M301.00,165.70a1.25,1.25 0 1 0 2.5,0a1.25,1.25 0 1 0 -2.5,0M315.76,165.70a1.25,1.25 0 1 0 2.5,0a1.25,1.25 0 1 0 -2.5,0M330.52,165.70a1.25,1.25 0 1 0 2.5,0a1.25,1.25 0 1 0 -2.5,0M345.28,165.70a1.25,1.25 0 1 0 2.5,0a1.25,1.25 0 1 0 -2.5,0M360.04,165.70a1.25,1.25 0 1 0 2.5,0a1.25,1.25 0 1 0 -2.5,0M374.80,165.70a1.25,1.25 0 1 0 2.5,0a1.25,1.25 0 1 0 -2.5,0M389.56,165.70a1.25,1.25 0 1 0 2.5,0a1.25,1.25 0 1 0 -2.5,0M404.32,165.70a1.25,1.25 0 1 0 2.5,0a1.25,1.25 0 1 0 -2.5,0M419.08,165.70a1.25,1.25 0 1 0 2.5,0a1.25,1.25 0 1 0 -2.5,0M433.84,165.70a1.25,1.25 0 1 0 2.5,0a1.25,1.25 0 1 0 -2.5,0M448.60,165.70a1.25,1.25 0 1 0 2.5,0a1.25,1.25 0 1 0 -2.5,0M463.36,165.70a1.25,1.25 0 1 0 2.5,0a1.25,1.25 0 1 0 -2.5,0M478.12,165.70a1.25,1.25 0 1 0 2.5,0a1.25,1.25 0 1 0 -2.5,0M492.88,165.70a1.25,1.25 0 1 0 2.5,0a1.25,1.25 0 1 0 -2.5,0M507.64,165.70a1.25,1.25 0 1 0 2.5,0a1.25,1.25 0 1 0 -2.5,0M522.40,165.70a1.25,1.25 0 1 0 2.5,0a1.25,1.25 0 1 0 -2.5,0M537.16,165.70a1.25,1.25 0 1 0 2.5,0a1.25,1.25 0 1 0 -2.5,0M551.92,165.70a1.25,1.25 0 1 0 2.5,0a1.25,1.25 0 1 0 -2.5,0M566.68,165.70a1.25,1.25 0 1 0 2.5,0a1.25,1.25 0 1 0 -2.5,0M581.44,165.70a1.25,1.25 0 1 0 2.5,0a1.25,1.25 0 1 0 -2.5,0M596.20,165.70a1.25,1.25 0 1 0 2.5,0a1.25,1.25 0 1 0 -2.5,0M610.96,165.70a1.25,1.25 0 1 0 2.5,0a1.25,1.25 0 1 0 -2.5,0M625.72,165.70a1.25,1.25 0 1 0 2.5,0a1.25,1.25 0 1 0 -2.5,0M640.48,165.70a1.25,1.25 0 1 0 2.5,0a1.25,1.25 0 1 0 -2.5,0M655.24,165.70a1.25,1.25 0 1 0 2.5,0a1.25,1.25 0 1 0 -2.5,0M670.00,165.70a1.25,1.25 0 1 0 2.5,0a1.25,1.25 0 1 0 -2.5,0M684.76,165.70a1.25,1.25 0 1 0 2.5,0a1.25,1.25 0 1 0 -2.5,0M5.80,180.44a1.25,1.25 0 1 0 2.5,0a1.25,1.25 0 1 0 -2.5,0M20.56,180.44a1.25,1.25 0 1 0 2.5,0a1.25,1.25 0 1 0 -2.5,0M35.32,180.44a1.25,1.25 0 1 0 2.5,0a1.25,1.25 0 1 0 -2.5,0M50.08,180.44a1.25,1.25 0 1 0 2.5,0a1.25,1.25 0 1 0 -2.5,0M64.84,180.44a1.25,1.25 0 1 0 2.5,0a1.25,1.25 0 1 0 -2.5,0M79.60,180.44a1.25,1.25 0 1 0 2.5,0a1.25,1.25 0 1 0 -2.5,0M94.36,180.44a1.25,1.25 0 1 0 2.5,0a1.25,1.25 0 1 0 -2.5,0M109.12,180.44a1.25,1.25 0 1 0 2.5,0a1.25,1.25 0 1 0 -2.5,0M123.88,180.44a1.25,1.25 0 1 0 2.5,0a1.25,1.25 0 1 0 -2.5,0M138.64,180.44a1.25,1.25 0 1 0 2.5,0a1.25,1.25 0 1 0 -2.5,0M153.40,180.44a1.25,1.25 0 1 0 2.5,0a1.25,1.25 0 1 0 -2.5,0M168.16,180.44a1.25,1.25 0 1 0 2.5,0a1.25,1.25 0 1 0 -2.5,0M182.92,180.44a1.25,1.25 0 1 0 2.5,0a1.25,1.25 0 1 0 -2.5,0M197.68,180.44a1.25,1.25 0 1 0 2.5,0a1.25,1.25 0 1 0 -2.5,0M212.44,180.44a1.25,1.25 0 1 0 2.5,0a1.25,1.25 0 1 0 -2.5,0M227.20,180.44a1.25,1.25 0 1 0 2.5,0a1.25,1.25 0 1 0 -2.5,0M241.96,180.44a1.25,1.25 0 1 0 2.5,0a1.25,1.25 0 1 0 -2.5,0M256.72,180.44a1.25,1.25 0 1 0 2.5,0a1.25,1.25 0 1 0 -2.5,0M271.48,180.44a1.25,1.25 0 1 0 2.5,0a1.25,1.25 0 1 0 -2.5,0M286.24,180.44a1.25,1.25 0 1 0 2.5,0a1.25,1.25 0 1 0 -2.5,0M301.00,180.44a1.25,1.25 0 1 0 2.5,0a1.25,1.25 0 1 0 -2.5,0M315.76,180.44a1.25,1.25 0 1 0 2.5,0a1.25,1.25 0 1 0 -2.5,0M330.52,180.44a1.25,1.25 0 1 0 2.5,0a1.25,1.25 0 1 0 -2.5,0M345.28,180.44a1.25,1.25 0 1 0 2.5,0a1.25,1.25 0 1 0 -2.5,0M360.04,180.44a1.25,1.25 0 1 0 2.5,0a1.25,1.25 0 1 0 -2.5,0M374.80,180.44a1.25,1.25 0 1 0 2.5,0a1.25,1.25 0 1 0 -2.5,0M389.56,180.44a1.25,1.25 0 1 0 2.5,0a1.25,1.25 0 1 0 -2.5,0M404.32,180.44a1.25,1.25 0 1 0 2.5,0a1.25,1.25 0 1 0 -2.5,0M419.08,180.44a1.25,1.25 0 1 0 2.5,0a1.25,1.25 0 1 0 -2.5,0M433.84,180.44a1.25,1.25 0 1 0 2.5,0a1.25,1.25 0 1 0 -2.5,0M448.60,180.44a1.25,1.25 0 1 0 2.5,0a1.25,1.25 0 1 0 -2.5,0M463.36,180.44a1.25,1.25 0 1 0 2.5,0a1.25,1.25 0 1 0 -2.5,0M478.12,180.44a1.25,1.25 0 1 0 2.5,0a1.25,1.25 0 1 0 -2.5,0M492.88,180.44a1.25,1.25 0 1 0 2.5,0a1.25,1.25 0 1 0 -2.5,0M507.64,180.44a1.25,1.25 0 1 0 2.5,0a1.25,1.25 0 1 0 -2.5,0M522.40,180.44a1.25,1.25 0 1 0 2.5,0a1.25,1.25 0 1 0 -2.5,0M537.16,180.44a1.25,1.25 0 1 0 2.5,0a1.25,1.25 0 1 0 -2.5,0M551.92,180.44a1.25,1.25 0 1 0 2.5,0a1.25,1.25 0 1 0 -2.5,0M566.68,180.44a1.25,1.25 0 1 0 2.5,0a1.25,1.25 0 1 0 -2.5,0M581.44,180.44a1.25,1.25 0 1 0 2.5,0a1.25,1.25 0 1 0 -2.5,0M596.20,180.44a1.25,1.25 0 1 0 2.5,0a1.25,1.25 0 1 0 -2.5,0M610.96,180.44a1.25,1.25 0 1 0 2.5,0a1.25,1.25 0 1 0 -2.5,0M625.72,180.44a1.25,1.25 0 1 0 2.5,0a1.25,1.25 0 1 0 -2.5,0M640.48,180.44a1.25,1.25 0 1 0 2.5,0a1.25,1.25 0 1 0 -2.5,0M655.24,180.44a1.25,1.25 0 1 0 2.5,0a1.25,1.25 0 1 0 -2.5,0M670.00,180.44a1.25,1.25 0 1 0 2.5,0a1.25,1.25 0 1 0 -2.5,0M684.76,180.44a1.25,1.25 0 1 0 2.5,0a1.25,1.25 0 1 0 -2.5,0M5.80,195.19a1.25,1.25 0 1 0 2.5,0a1.25,1.25 0 1 0 -2.5,0M20.56,195.19a1.25,1.25 0 1 0 2.5,0a1.25,1.25 0 1 0 -2.5,0M35.32,195.19a1.25,1.25 0 1 0 2.5,0a1.25,1.25 0 1 0 -2.5,0M50.08,195.19a1.25,1.25 0 1 0 2.5,0a1.25,1.25 0 1 0 -2.5,0M64.84,195.19a1.25,1.25 0 1 0 2.5,0a1.25,1.25 0 1 0 -2.5,0M79.60,195.19a1.25,1.25 0 1 0 2.5,0a1.25,1.25 0 1 0 -2.5,0M94.36,195.19a1.25,1.25 0 1 0 2.5,0a1.25,1.25 0 1 0 -2.5,0M109.12,195.19a1.25,1.25 0 1 0 2.5,0a1.25,1.25 0 1 0 -2.5,0M123.88,195.19a1.25,1.25 0 1 0 2.5,0a1.25,1.25 0 1 0 -2.5,0M138.64,195.19a1.25,1.25 0 1 0 2.5,0a1.25,1.25 0 1 0 -2.5,0M153.40,195.19a1.25,1.25 0 1 0 2.5,0a1.25,1.25 0 1 0 -2.5,0M168.16,195.19a1.25,1.25 0 1 0 2.5,0a1.25,1.25 0 1 0 -2.5,0M182.92,195.19a1.25,1.25 0 1 0 2.5,0a1.25,1.25 0 1 0 -2.5,0M197.68,195.19a1.25,1.25 0 1 0 2.5,0a1.25,1.25 0 1 0 -2.5,0M212.44,195.19a1.25,1.25 0 1 0 2.5,0a1.25,1.25 0 1 0 -2.5,0M227.20,195.19a1.25,1.25 0 1 0 2.5,0a1.25,1.25 0 1 0 -2.5,0M241.96,195.19a1.25,1.25 0 1 0 2.5,0a1.25,1.25 0 1 0 -2.5,0M256.72,195.19a1.25,1.25 0 1 0 2.5,0a1.25,1.25 0 1 0 -2.5,0M271.48,195.19a1.25,1.25 0 1 0 2.5,0a1.25,1.25 0 1 0 -2.5,0M286.24,195.19a1.25,1.25 0 1 0 2.5,0a1.25,1.25 0 1 0 -2.5,0M301.00,195.19a1.25,1.25 0 1 0 2.5,0a1.25,1.25 0 1 0 -2.5,0M315.76,195.19a1.25,1.25 0 1 0 2.5,0a1.25,1.25 0 1 0 -2.5,0M330.52,195.19a1.25,1.25 0 1 0 2.5,0a1.25,1.25 0 1 0 -2.5,0M345.28,195.19a1.25,1.25 0 1 0 2.5,0a1.25,1.25 0 1 0 -2.5,0M360.04,195.19a1.25,1.25 0 1 0 2.5,0a1.25,1.25 0 1 0 -2.5,0M374.80,195.19a1.25,1.25 0 1 0 2.5,0a1.25,1.25 0 1 0 -2.5,0M389.56,195.19a1.25,1.25 0 1 0 2.5,0a1.25,1.25 0 1 0 -2.5,0M404.32,195.19a1.25,1.25 0 1 0 2.5,0a1.25,1.25 0 1 0 -2.5,0M419.08,195.19a1.25,1.25 0 1 0 2.5,0a1.25,1.25 0 1 0 -2.5,0M433.84,195.19a1.25,1.25 0 1 0 2.5,0a1.25,1.25 0 1 0 -2.5,0M448.60,195.19a1.25,1.25 0 1 0 2.5,0a1.25,1.25 0 1 0 -2.5,0M463.36,195.19a1.25,1.25 0 1 0 2.5,0a1.25,1.25 0 1 0 -2.5,0M478.12,195.19a1.25,1.25 0 1 0 2.5,0a1.25,1.25 0 1 0 -2.5,0M492.88,195.19a1.25,1.25 0 1 0 2.5,0a1.25,1.25 0 1 0 -2.5,0M507.64,195.19a1.25,1.25 0 1 0 2.5,0a1.25,1.25 0 1 0 -2.5,0M522.40,195.19a1.25,1.25 0 1 0 2.5,0a1.25,1.25 0 1 0 -2.5,0M537.16,195.19a1.25,1.25 0 1 0 2.5,0a1.25,1.25 0 1 0 -2.5,0M551.92,195.19a1.25,1.25 0 1 0 2.5,0a1.25,1.25 0 1 0 -2.5,0M566.68,195.19a1.25,1.25 0 1 0 2.5,0a1.25,1.25 0 1 0 -2.5,0M581.44,195.19a1.25,1.25 0 1 0 2.5,0a1.25,1.25 0 1 0 -2.5,0M596.20,195.19a1.25,1.25 0 1 0 2.5,0a1.25,1.25 0 1 0 -2.5,0M610.96,195.19a1.25,1.25 0 1 0 2.5,0a1.25,1.25 0 1 0 -2.5,0M625.72,195.19a1.25,1.25 0 1 0 2.5,0a1.25,1.25 0 1 0 -2.5,0M640.48,195.19a1.25,1.25 0 1 0 2.5,0a1.25,1.25 0 1 0 -2.5,0M655.24,195.19a1.25,1.25 0 1 0 2.5,0a1.25,1.25 0 1 0 -2.5,0M670.00,195.19a1.25,1.25 0 1 0 2.5,0a1.25,1.25 0 1 0 -2.5,0M684.76,195.19a1.25,1.25 0 1 0 2.5,0a1.25,1.25 0 1 0 -2.5,0M5.80,209.93a1.25,1.25 0 1 0 2.5,0a1.25,1.25 0 1 0 -2.5,0M20.56,209.93a1.25,1.25 0 1 0 2.5,0a1.25,1.25 0 1 0 -2.5,0M35.32,209.93a1.25,1.25 0 1 0 2.5,0a1.25,1.25 0 1 0 -2.5,0M50.08,209.93a1.25,1.25 0 1 0 2.5,0a1.25,1.25 0 1 0 -2.5,0M64.84,209.93a1.25,1.25 0 1 0 2.5,0a1.25,1.25 0 1 0 -2.5,0M79.60,209.93a1.25,1.25 0 1 0 2.5,0a1.25,1.25 0 1 0 -2.5,0M94.36,209.93a1.25,1.25 0 1 0 2.5,0a1.25,1.25 0 1 0 -2.5,0M109.12,209.93a1.25,1.25 0 1 0 2.5,0a1.25,1.25 0 1 0 -2.5,0M123.88,209.93a1.25,1.25 0 1 0 2.5,0a1.25,1.25 0 1 0 -2.5,0M138.64,209.93a1.25,1.25 0 1 0 2.5,0a1.25,1.25 0 1 0 -2.5,0M153.40,209.93a1.25,1.25 0 1 0 2.5,0a1.25,1.25 0 1 0 -2.5,0M168.16,209.93a1.25,1.25 0 1 0 2.5,0a1.25,1.25 0 1 0 -2.5,0M182.92,209.93a1.25,1.25 0 1 0 2.5,0a1.25,1.25 0 1 0 -2.5,0M197.68,209.93a1.25,1.25 0 1 0 2.5,0a1.25,1.25 0 1 0 -2.5,0M212.44,209.93a1.25,1.25 0 1 0 2.5,0a1.25,1.25 0 1 0 -2.5,0M227.20,209.93a1.25,1.25 0 1 0 2.5,0a1.25,1.25 0 1 0 -2.5,0M241.96,209.93a1.25,1.25 0 1 0 2.5,0a1.25,1.25 0 1 0 -2.5,0M256.72,209.93a1.25,1.25 0 1 0 2.5,0a1.25,1.25 0 1 0 -2.5,0M271.48,209.93a1.25,1.25 0 1 0 2.5,0a1.25,1.25 0 1 0 -2.5,0M286.24,209.93a1.25,1.25 0 1 0 2.5,0a1.25,1.25 0 1 0 -2.5,0M301.00,209.93a1.25,1.25 0 1 0 2.5,0a1.25,1.25 0 1 0 -2.5,0M315.76,209.93a1.25,1.25 0 1 0 2.5,0a1.25,1.25 0 1 0 -2.5,0M330.52,209.93a1.25,1.25 0 1 0 2.5,0a1.25,1.25 0 1 0 -2.5,0M345.28,209.93a1.25,1.25 0 1 0 2.5,0a1.25,1.25 0 1 0 -2.5,0M360.04,209.93a1.25,1.25 0 1 0 2.5,0a1.25,1.25 0 1 0 -2.5,0M374.80,209.93a1.25,1.25 0 1 0 2.5,0a1.25,1.25 0 1 0 -2.5,0M389.56,209.93a1.25,1.25 0 1 0 2.5,0a1.25,1.25 0 1 0 -2.5,0M404.32,209.93a1.25,1.25 0 1 0 2.5,0a1.25,1.25 0 1 0 -2.5,0M419.08,209.93a1.25,1.25 0 1 0 2.5,0a1.25,1.25 0 1 0 -2.5,0M433.84,209.93a1.25,1.25 0 1 0 2.5,0a1.25,1.25 0 1 0 -2.5,0M448.60,209.93a1.25,1.25 0 1 0 2.5,0a1.25,1.25 0 1 0 -2.5,0M463.36,209.93a1.25,1.25 0 1 0 2.5,0a1.25,1.25 0 1 0 -2.5,0M478.12,209.93a1.25,1.25 0 1 0 2.5,0a1.25,1.25 0 1 0 -2.5,0M492.88,209.93a1.25,1.25 0 1 0 2.5,0a1.25,1.25 0 1 0 -2.5,0M507.64,209.93a1.25,1.25 0 1 0 2.5,0a1.25,1.25 0 1 0 -2.5,0M522.40,209.93a1.25,1.25 0 1 0 2.5,0a1.25,1.25 0 1 0 -2.5,0M537.16,209.93a1.25,1.25 0 1 0 2.5,0a1.25,1.25 0 1 0 -2.5,0M551.92,209.93a1.25,1.25 0 1 0 2.5,0a1.25,1.25 0 1 0 -2.5,0M566.68,209.93a1.25,1.25 0 1 0 2.5,0a1.25,1.25 0 1 0 -2.5,0M581.44,209.93a1.25,1.25 0 1 0 2.5,0a1.25,1.25 0 1 0 -2.5,0M596.20,209.93a1.25,1.25 0 1 0 2.5,0a1.25,1.25 0 1 0 -2.5,0M610.96,209.93a1.25,1.25 0 1 0 2.5,0a1.25,1.25 0 1 0 -2.5,0M625.72,209.93a1.25,1.25 0 1 0 2.5,0a1.25,1.25 0 1 0 -2.5,0M640.48,209.93a1.25,1.25 0 1 0 2.5,0a1.25,1.25 0 1 0 -2.5,0M655.24,209.93a1.25,1.25 0 1 0 2.5,0a1.25,1.25 0 1 0 -2.5,0M670.00,209.93a1.25,1.25 0 1 0 2.5,0a1.25,1.25 0 1 0 -2.5,0M684.76,209.93a1.25,1.25 0 1 0 2.5,0a1.25,1.25 0 1 0 -2.5,0M5.80,224.68a1.25,1.25 0 1 0 2.5,0a1.25,1.25 0 1 0 -2.5,0M20.56,224.68a1.25,1.25 0 1 0 2.5,0a1.25,1.25 0 1 0 -2.5,0M35.32,224.68a1.25,1.25 0 1 0 2.5,0a1.25,1.25 0 1 0 -2.5,0M50.08,224.68a1.25,1.25 0 1 0 2.5,0a1.25,1.25 0 1 0 -2.5,0M64.84,224.68a1.25,1.25 0 1 0 2.5,0a1.25,1.25 0 1 0 -2.5,0M79.60,224.68a1.25,1.25 0 1 0 2.5,0a1.25,1.25 0 1 0 -2.5,0M94.36,224.68a1.25,1.25 0 1 0 2.5,0a1.25,1.25 0 1 0 -2.5,0M109.12,224.68a1.25,1.25 0 1 0 2.5,0a1.25,1.25 0 1 0 -2.5,0M123.88,224.68a1.25,1.25 0 1 0 2.5,0a1.25,1.25 0 1 0 -2.5,0M138.64,224.68a1.25,1.25 0 1 0 2.5,0a1.25,1.25 0 1 0 -2.5,0M153.40,224.68a1.25,1.25 0 1 0 2.5,0a1.25,1.25 0 1 0 -2.5,0M168.16,224.68a1.25,1.25 0 1 0 2.5,0a1.25,1.25 0 1 0 -2.5,0M182.92,224.68a1.25,1.25 0 1 0 2.5,0a1.25,1.25 0 1 0 -2.5,0M197.68,224.68a1.25,1.25 0 1 0 2.5,0a1.25,1.25 0 1 0 -2.5,0M212.44,224.68a1.25,1.25 0 1 0 2.5,0a1.25,1.25 0 1 0 -2.5,0M227.20,224.68a1.25,1.25 0 1 0 2.5,0a1.25,1.25 0 1 0 -2.5,0M241.96,224.68a1.25,1.25 0 1 0 2.5,0a1.25,1.25 0 1 0 -2.5,0M256.72,224.68a1.25,1.25 0 1 0 2.5,0a1.25,1.25 0 1 0 -2.5,0M271.48,224.68a1.25,1.25 0 1 0 2.5,0a1.25,1.25 0 1 0 -2.5,0M286.24,224.68a1.25,1.25 0 1 0 2.5,0a1.25,1.25 0 1 0 -2.5,0M301.00,224.68a1.25,1.25 0 1 0 2.5,0a1.25,1.25 0 1 0 -2.5,0M315.76,224.68a1.25,1.25 0 1 0 2.5,0a1.25,1.25 0 1 0 -2.5,0M330.52,224.68a1.25,1.25 0 1 0 2.5,0a1.25,1.25 0 1 0 -2.5,0M345.28,224.68a1.25,1.25 0 1 0 2.5,0a1.25,1.25 0 1 0 -2.5,0M360.04,224.68a1.25,1.25 0 1 0 2.5,0a1.25,1.25 0 1 0 -2.5,0M374.80,224.68a1.25,1.25 0 1 0 2.5,0a1.25,1.25 0 1 0 -2.5,0M389.56,224.68a1.25,1.25 0 1 0 2.5,0a1.25,1.25 0 1 0 -2.5,0M404.32,224.68a1.25,1.25 0 1 0 2.5,0a1.25,1.25 0 1 0 -2.5,0M419.08,224.68a1.25,1.25 0 1 0 2.5,0a1.25,1.25 0 1 0 -2.5,0M433.84,224.68a1.25,1.25 0 1 0 2.5,0a1.25,1.25 0 1 0 -2.5,0M448.60,224.68a1.25,1.25 0 1 0 2.5,0a1.25,1.25 0 1 0 -2.5,0M463.36,224.68a1.25,1.25 0 1 0 2.5,0a1.25,1.25 0 1 0 -2.5,0M478.12,224.68a1.25,1.25 0 1 0 2.5,0a1.25,1.25 0 1 0 -2.5,0M492.88,224.68a1.25,1.25 0 1 0 2.5,0a1.25,1.25 0 1 0 -2.5,0M507.64,224.68a1.25,1.25 0 1 0 2.5,0a1.25,1.25 0 1 0 -2.5,0M522.40,224.68a1.25,1.25 0 1 0 2.5,0a1.25,1.25 0 1 0 -2.5,0M537.16,224.68a1.25,1.25 0 1 0 2.5,0a1.25,1.25 0 1 0 -2.5,0M551.92,224.68a1.25,1.25 0 1 0 2.5,0a1.25,1.25 0 1 0 -2.5,0M566.68,224.68a1.25,1.25 0 1 0 2.5,0a1.25,1.25 0 1 0 -2.5,0M581.44,224.68a1.25,1.25 0 1 0 2.5,0a1.25,1.25 0 1 0 -2.5,0M596.20,224.68a1.25,1.25 0 1 0 2.5,0a1.25,1.25 0 1 0 -2.5,0M610.96,224.68a1.25,1.25 0 1 0 2.5,0a1.25,1.25 0 1 0 -2.5,0M625.72,224.68a1.25,1.25 0 1 0 2.5,0a1.25,1.25 0 1 0 -2.5,0M640.48,224.68a1.25,1.25 0 1 0 2.5,0a1.25,1.25 0 1 0 -2.5,0M655.24,224.68a1.25,1.25 0 1 0 2.5,0a1.25,1.25 0 1 0 -2.5,0M670.00,224.68a1.25,1.25 0 1 0 2.5,0a1.25,1.25 0 1 0 -2.5,0M684.76,224.68a1.25,1.25 0 1 0 2.5,0a1.25,1.25 0 1 0 -2.5,0M5.80,239.42a1.25,1.25 0 1 0 2.5,0a1.25,1.25 0 1 0 -2.5,0M20.56,239.42a1.25,1.25 0 1 0 2.5,0a1.25,1.25 0 1 0 -2.5,0M35.32,239.42a1.25,1.25 0 1 0 2.5,0a1.25,1.25 0 1 0 -2.5,0M50.08,239.42a1.25,1.25 0 1 0 2.5,0a1.25,1.25 0 1 0 -2.5,0M64.84,239.42a1.25,1.25 0 1 0 2.5,0a1.25,1.25 0 1 0 -2.5,0M79.60,239.42a1.25,1.25 0 1 0 2.5,0a1.25,1.25 0 1 0 -2.5,0M94.36,239.42a1.25,1.25 0 1 0 2.5,0a1.25,1.25 0 1 0 -2.5,0M109.12,239.42a1.25,1.25 0 1 0 2.5,0a1.25,1.25 0 1 0 -2.5,0M123.88,239.42a1.25,1.25 0 1 0 2.5,0a1.25,1.25 0 1 0 -2.5,0M138.64,239.42a1.25,1.25 0 1 0 2.5,0a1.25,1.25 0 1 0 -2.5,0M153.40,239.42a1.25,1.25 0 1 0 2.5,0a1.25,1.25 0 1 0 -2.5,0M168.16,239.42a1.25,1.25 0 1 0 2.5,0a1.25,1.25 0 1 0 -2.5,0M182.92,239.42a1.25,1.25 0 1 0 2.5,0a1.25,1.25 0 1 0 -2.5,0M197.68,239.42a1.25,1.25 0 1 0 2.5,0a1.25,1.25 0 1 0 -2.5,0M212.44,239.42a1.25,1.25 0 1 0 2.5,0a1.25,1.25 0 1 0 -2.5,0M227.20,239.42a1.25,1.25 0 1 0 2.5,0a1.25,1.25 0 1 0 -2.5,0M241.96,239.42a1.25,1.25 0 1 0 2.5,0a1.25,1.25 0 1 0 -2.5,0M256.72,239.42a1.25,1.25 0 1 0 2.5,0a1.25,1.25 0 1 0 -2.5,0M271.48,239.42a1.25,1.25 0 1 0 2.5,0a1.25,1.25 0 1 0 -2.5,0M286.24,239.42a1.25,1.25 0 1 0 2.5,0a1.25,1.25 0 1 0 -2.5,0M301.00,239.42a1.25,1.25 0 1 0 2.5,0a1.25,1.25 0 1 0 -2.5,0M315.76,239.42a1.25,1.25 0 1 0 2.5,0a1.25,1.25 0 1 0 -2.5,0M330.52,239.42a1.25,1.25 0 1 0 2.5,0a1.25,1.25 0 1 0 -2.5,0M345.28,239.42a1.25,1.25 0 1 0 2.5,0a1.25,1.25 0 1 0 -2.5,0M360.04,239.42a1.25,1.25 0 1 0 2.5,0a1.25,1.25 0 1 0 -2.5,0M374.80,239.42a1.25,1.25 0 1 0 2.5,0a1.25,1.25 0 1 0 -2.5,0M389.56,239.42a1.25,1.25 0 1 0 2.5,0a1.25,1.25 0 1 0 -2.5,0M404.32,239.42a1.25,1.25 0 1 0 2.5,0a1.25,1.25 0 1 0 -2.5,0M419.08,239.42a1.25,1.25 0 1 0 2.5,0a1.25,1.25 0 1 0 -2.5,0M433.84,239.42a1.25,1.25 0 1 0 2.5,0a1.25,1.25 0 1 0 -2.5,0M448.60,239.42a1.25,1.25 0 1 0 2.5,0a1.25,1.25 0 1 0 -2.5,0M463.36,239.42a1.25,1.25 0 1 0 2.5,0a1.25,1.25 0 1 0 -2.5,0M478.12,239.42a1.25,1.25 0 1 0 2.5,0a1.25,1.25 0 1 0 -2.5,0M492.88,239.42a1.25,1.25 0 1 0 2.5,0a1.25,1.25 0 1 0 -2.5,0M507.64,239.42a1.25,1.25 0 1 0 2.5,0a1.25,1.25 0 1 0 -2.5,0M522.40,239.42a1.25,1.25 0 1 0 2.5,0a1.25,1.25 0 1 0 -2.5,0M537.16,239.42a1.25,1.25 0 1 0 2.5,0a1.25,1.25 0 1 0 -2.5,0M551.92,239.42a1.25,1.25 0 1 0 2.5,0a1.25,1.25 0 1 0 -2.5,0M566.68,239.42a1.25,1.25 0 1 0 2.5,0a1.25,1.25 0 1 0 -2.5,0M581.44,239.42a1.25,1.25 0 1 0 2.5,0a1.25,1.25 0 1 0 -2.5,0M596.20,239.42a1.25,1.25 0 1 0 2.5,0a1.25,1.25 0 1 0 -2.5,0M610.96,239.42a1.25,1.25 0 1 0 2.5,0a1.25,1.25 0 1 0 -2.5,0M625.72,239.42a1.25,1.25 0 1 0 2.5,0a1.25,1.25 0 1 0 -2.5,0M640.48,239.42a1.25,1.25 0 1 0 2.5,0a1.25,1.25 0 1 0 -2.5,0M655.24,239.42a1.25,1.25 0 1 0 2.5,0a1.25,1.25 0 1 0 -2.5,0M670.00,239.42a1.25,1.25 0 1 0 2.5,0a1.25,1.25 0 1 0 -2.5,0M684.76,239.42a1.25,1.25 0 1 0 2.5,0a1.25,1.25 0 1 0 -2.5,0M5.80,254.17a1.25,1.25 0 1 0 2.5,0a1.25,1.25 0 1 0 -2.5,0M20.56,254.17a1.25,1.25 0 1 0 2.5,0a1.25,1.25 0 1 0 -2.5,0M35.32,254.17a1.25,1.25 0 1 0 2.5,0a1.25,1.25 0 1 0 -2.5,0M50.08,254.17a1.25,1.25 0 1 0 2.5,0a1.25,1.25 0 1 0 -2.5,0M64.84,254.17a1.25,1.25 0 1 0 2.5,0a1.25,1.25 0 1 0 -2.5,0M79.60,254.17a1.25,1.25 0 1 0 2.5,0a1.25,1.25 0 1 0 -2.5,0M94.36,254.17a1.25,1.25 0 1 0 2.5,0a1.25,1.25 0 1 0 -2.5,0M109.12,254.17a1.25,1.25 0 1 0 2.5,0a1.25,1.25 0 1 0 -2.5,0M123.88,254.17a1.25,1.25 0 1 0 2.5,0a1.25,1.25 0 1 0 -2.5,0M138.64,254.17a1.25,1.25 0 1 0 2.5,0a1.25,1.25 0 1 0 -2.5,0M153.40,254.17a1.25,1.25 0 1 0 2.5,0a1.25,1.25 0 1 0 -2.5,0M168.16,254.17a1.25,1.25 0 1 0 2.5,0a1.25,1.25 0 1 0 -2.5,0M182.92,254.17a1.25,1.25 0 1 0 2.5,0a1.25,1.25 0 1 0 -2.5,0M197.68,254.17a1.25,1.25 0 1 0 2.5,0a1.25,1.25 0 1 0 -2.5,0M212.44,254.17a1.25,1.25 0 1 0 2.5,0a1.25,1.25 0 1 0 -2.5,0M227.20,254.17a1.25,1.25 0 1 0 2.5,0a1.25,1.25 0 1 0 -2.5,0M241.96,254.17a1.25,1.25 0 1 0 2.5,0a1.25,1.25 0 1 0 -2.5,0M256.72,254.17a1.25,1.25 0 1 0 2.5,0a1.25,1.25 0 1 0 -2.5,0M271.48,254.17a1.25,1.25 0 1 0 2.5,0a1.25,1.25 0 1 0 -2.5,0M286.24,254.17a1.25,1.25 0 1 0 2.5,0a1.25,1.25 0 1 0 -2.5,0M301.00,254.17a1.25,1.25 0 1 0 2.5,0a1.25,1.25 0 1 0 -2.5,0M315.76,254.17a1.25,1.25 0 1 0 2.5,0a1.25,1.25 0 1 0 -2.5,0M330.52,254.17a1.25,1.25 0 1 0 2.5,0a1.25,1.25 0 1 0 -2.5,0M345.28,254.17a1.25,1.25 0 1 0 2.5,0a1.25,1.25 0 1 0 -2.5,0M360.04,254.17a1.25,1.25 0 1 0 2.5,0a1.25,1.25 0 1 0 -2.5,0M374.80,254.17a1.25,1.25 0 1 0 2.5,0a1.25,1.25 0 1 0 -2.5,0M389.56,254.17a1.25,1.25 0 1 0 2.5,0a1.25,1.25 0 1 0 -2.5,0M404.32,254.17a1.25,1.25 0 1 0 2.5,0a1.25,1.25 0 1 0 -2.5,0M419.08,254.17a1.25,1.25 0 1 0 2.5,0a1.25,1.25 0 1 0 -2.5,0M433.84,254.17a1.25,1.25 0 1 0 2.5,0a1.25,1.25 0 1 0 -2.5,0M448.60,254.17a1.25,1.25 0 1 0 2.5,0a1.25,1.25 0 1 0 -2.5,0M463.36,254.17a1.25,1.25 0 1 0 2.5,0a1.25,1.25 0 1 0 -2.5,0M478.12,254.17a1.25,1.25 0 1 0 2.5,0a1.25,1.25 0 1 0 -2.5,0M492.88,254.17a1.25,1.25 0 1 0 2.5,0a1.25,1.25 0 1 0 -2.5,0M507.64,254.17a1.25,1.25 0 1 0 2.5,0a1.25,1.25 0 1 0 -2.5,0M522.40,254.17a1.25,1.25 0 1 0 2.5,0a1.25,1.25 0 1 0 -2.5,0M537.16,254.17a1.25,1.25 0 1 0 2.5,0a1.25,1.25 0 1 0 -2.5,0M551.92,254.17a1.25,1.25 0 1 0 2.5,0a1.25,1.25 0 1 0 -2.5,0M566.68,254.17a1.25,1.25 0 1 0 2.5,0a1.25,1.25 0 1 0 -2.5,0M581.44,254.17a1.25,1.25 0 1 0 2.5,0a1.25,1.25 0 1 0 -2.5,0M596.20,254.17a1.25,1.25 0 1 0 2.5,0a1.25,1.25 0 1 0 -2.5,0M610.96,254.17a1.25,1.25 0 1 0 2.5,0a1.25,1.25 0 1 0 -2.5,0M625.72,254.17a1.25,1.25 0 1 0 2.5,0a1.25,1.25 0 1 0 -2.5,0M640.48,254.17a1.25,1.25 0 1 0 2.5,0a1.25,1.25 0 1 0 -2.5,0M655.24,254.17a1.25,1.25 0 1 0 2.5,0a1.25,1.25 0 1 0 -2.5,0M670.00,254.17a1.25,1.25 0 1 0 2.5,0a1.25,1.25 0 1 0 -2.5,0M684.76,254.17a1.25,1.25 0 1 0 2.5,0a1.25,1.25 0 1 0 -2.5,0M5.80,268.91a1.25,1.25 0 1 0 2.5,0a1.25,1.25 0 1 0 -2.5,0M20.56,268.91a1.25,1.25 0 1 0 2.5,0a1.25,1.25 0 1 0 -2.5,0M35.32,268.91a1.25,1.25 0 1 0 2.5,0a1.25,1.25 0 1 0 -2.5,0M50.08,268.91a1.25,1.25 0 1 0 2.5,0a1.25,1.25 0 1 0 -2.5,0M64.84,268.91a1.25,1.25 0 1 0 2.5,0a1.25,1.25 0 1 0 -2.5,0M79.60,268.91a1.25,1.25 0 1 0 2.5,0a1.25,1.25 0 1 0 -2.5,0M94.36,268.91a1.25,1.25 0 1 0 2.5,0a1.25,1.25 0 1 0 -2.5,0M109.12,268.91a1.25,1.25 0 1 0 2.5,0a1.25,1.25 0 1 0 -2.5,0M123.88,268.91a1.25,1.25 0 1 0 2.5,0a1.25,1.25 0 1 0 -2.5,0M138.64,268.91a1.25,1.25 0 1 0 2.5,0a1.25,1.25 0 1 0 -2.5,0M153.40,268.91a1.25,1.25 0 1 0 2.5,0a1.25,1.25 0 1 0 -2.5,0M168.16,268.91a1.25,1.25 0 1 0 2.5,0a1.25,1.25 0 1 0 -2.5,0M182.92,268.91a1.25,1.25 0 1 0 2.5,0a1.25,1.25 0 1 0 -2.5,0M197.68,268.91a1.25,1.25 0 1 0 2.5,0a1.25,1.25 0 1 0 -2.5,0M212.44,268.91a1.25,1.25 0 1 0 2.5,0a1.25,1.25 0 1 0 -2.5,0M227.20,268.91a1.25,1.25 0 1 0 2.5,0a1.25,1.25 0 1 0 -2.5,0M241.96,268.91a1.25,1.25 0 1 0 2.5,0a1.25,1.25 0 1 0 -2.5,0M256.72,268.91a1.25,1.25 0 1 0 2.5,0a1.25,1.25 0 1 0 -2.5,0M271.48,268.91a1.25,1.25 0 1 0 2.5,0a1.25,1.25 0 1 0 -2.5,0M286.24,268.91a1.25,1.25 0 1 0 2.5,0a1.25,1.25 0 1 0 -2.5,0M301.00,268.91a1.25,1.25 0 1 0 2.5,0a1.25,1.25 0 1 0 -2.5,0M315.76,268.91a1.25,1.25 0 1 0 2.5,0a1.25,1.25 0 1 0 -2.5,0M330.52,268.91a1.25,1.25 0 1 0 2.5,0a1.25,1.25 0 1 0 -2.5,0M345.28,268.91a1.25,1.25 0 1 0 2.5,0a1.25,1.25 0 1 0 -2.5,0M360.04,268.91a1.25,1.25 0 1 0 2.5,0a1.25,1.25 0 1 0 -2.5,0M374.80,268.91a1.25,1.25 0 1 0 2.5,0a1.25,1.25 0 1 0 -2.5,0M389.56,268.91a1.25,1.25 0 1 0 2.5,0a1.25,1.25 0 1 0 -2.5,0M404.32,268.91a1.25,1.25 0 1 0 2.5,0a1.25,1.25 0 1 0 -2.5,0M419.08,268.91a1.25,1.25 0 1 0 2.5,0a1.25,1.25 0 1 0 -2.5,0M433.84,268.91a1.25,1.25 0 1 0 2.5,0a1.25,1.25 0 1 0 -2.5,0M448.60,268.91a1.25,1.25 0 1 0 2.5,0a1.25,1.25 0 1 0 -2.5,0M463.36,268.91a1.25,1.25 0 1 0 2.5,0a1.25,1.25 0 1 0 -2.5,0M478.12,268.91a1.25,1.25 0 1 0 2.5,0a1.25,1.25 0 1 0 -2.5,0M492.88,268.91a1.25,1.25 0 1 0 2.5,0a1.25,1.25 0 1 0 -2.5,0M507.64,268.91a1.25,1.25 0 1 0 2.5,0a1.25,1.25 0 1 0 -2.5,0M522.40,268.91a1.25,1.25 0 1 0 2.5,0a1.25,1.25 0 1 0 -2.5,0M537.16,268.91a1.25,1.25 0 1 0 2.5,0a1.25,1.25 0 1 0 -2.5,0M551.92,268.91a1.25,1.25 0 1 0 2.5,0a1.25,1.25 0 1 0 -2.5,0M566.68,268.91a1.25,1.25 0 1 0 2.5,0a1.25,1.25 0 1 0 -2.5,0M581.44,268.91a1.25,1.25 0 1 0 2.5,0a1.25,1.25 0 1 0 -2.5,0M596.20,268.91a1.25,1.25 0 1 0 2.5,0a1.25,1.25 0 1 0 -2.5,0M610.96,268.91a1.25,1.25 0 1 0 2.5,0a1.25,1.25 0 1 0 -2.5,0M625.72,268.91a1.25,1.25 0 1 0 2.5,0a1.25,1.25 0 1 0 -2.5,0M640.48,268.91a1.25,1.25 0 1 0 2.5,0a1.25,1.25 0 1 0 -2.5,0M655.24,268.91a1.25,1.25 0 1 0 2.5,0a1.25,1.25 0 1 0 -2.5,0M670.00,268.91a1.25,1.25 0 1 0 2.5,0a1.25,1.25 0 1 0 -2.5,0M684.76,268.91a1.25,1.25 0 1 0 2.5,0a1.25,1.25 0 1 0 -2.5,0M5.80,283.66a1.25,1.25 0 1 0 2.5,0a1.25,1.25 0 1 0 -2.5,0M20.56,283.66a1.25,1.25 0 1 0 2.5,0a1.25,1.25 0 1 0 -2.5,0M35.32,283.66a1.25,1.25 0 1 0 2.5,0a1.25,1.25 0 1 0 -2.5,0M50.08,283.66a1.25,1.25 0 1 0 2.5,0a1.25,1.25 0 1 0 -2.5,0M64.84,283.66a1.25,1.25 0 1 0 2.5,0a1.25,1.25 0 1 0 -2.5,0M79.60,283.66a1.25,1.25 0 1 0 2.5,0a1.25,1.25 0 1 0 -2.5,0M94.36,283.66a1.25,1.25 0 1 0 2.5,0a1.25,1.25 0 1 0 -2.5,0M109.12,283.66a1.25,1.25 0 1 0 2.5,0a1.25,1.25 0 1 0 -2.5,0M123.88,283.66a1.25,1.25 0 1 0 2.5,0a1.25,1.25 0 1 0 -2.5,0M138.64,283.66a1.25,1.25 0 1 0 2.5,0a1.25,1.25 0 1 0 -2.5,0M153.40,283.66a1.25,1.25 0 1 0 2.5,0a1.25,1.25 0 1 0 -2.5,0M168.16,283.66a1.25,1.25 0 1 0 2.5,0a1.25,1.25 0 1 0 -2.5,0M182.92,283.66a1.25,1.25 0 1 0 2.5,0a1.25,1.25 0 1 0 -2.5,0M197.68,283.66a1.25,1.25 0 1 0 2.5,0a1.25,1.25 0 1 0 -2.5,0M212.44,283.66a1.25,1.25 0 1 0 2.5,0a1.25,1.25 0 1 0 -2.5,0M227.20,283.66a1.25,1.25 0 1 0 2.5,0a1.25,1.25 0 1 0 -2.5,0M241.96,283.66a1.25,1.25 0 1 0 2.5,0a1.25,1.25 0 1 0 -2.5,0M256.72,283.66a1.25,1.25 0 1 0 2.5,0a1.25,1.25 0 1 0 -2.5,0M271.48,283.66a1.25,1.25 0 1 0 2.5,0a1.25,1.25 0 1 0 -2.5,0M286.24,283.66a1.25,1.25 0 1 0 2.5,0a1.25,1.25 0 1 0 -2.5,0M301.00,283.66a1.25,1.25 0 1 0 2.5,0a1.25,1.25 0 1 0 -2.5,0M315.76,283.66a1.25,1.25 0 1 0 2.5,0a1.25,1.25 0 1 0 -2.5,0M330.52,283.66a1.25,1.25 0 1 0 2.5,0a1.25,1.25 0 1 0 -2.5,0M345.28,283.66a1.25,1.25 0 1 0 2.5,0a1.25,1.25 0 1 0 -2.5,0M360.04,283.66a1.25,1.25 0 1 0 2.5,0a1.25,1.25 0 1 0 -2.5,0M374.80,283.66a1.25,1.25 0 1 0 2.5,0a1.25,1.25 0 1 0 -2.5,0M389.56,283.66a1.25,1.25 0 1 0 2.5,0a1.25,1.25 0 1 0 -2.5,0M404.32,283.66a1.25,1.25 0 1 0 2.5,0a1.25,1.25 0 1 0 -2.5,0M419.08,283.66a1.25,1.25 0 1 0 2.5,0a1.25,1.25 0 1 0 -2.5,0M433.84,283.66a1.25,1.25 0 1 0 2.5,0a1.25,1.25 0 1 0 -2.5,0M448.60,283.66a1.25,1.25 0 1 0 2.5,0a1.25,1.25 0 1 0 -2.5,0M463.36,283.66a1.25,1.25 0 1 0 2.5,0a1.25,1.25 0 1 0 -2.5,0M478.12,283.66a1.25,1.25 0 1 0 2.5,0a1.25,1.25 0 1 0 -2.5,0M492.88,283.66a1.25,1.25 0 1 0 2.5,0a1.25,1.25 0 1 0 -2.5,0M507.64,283.66a1.25,1.25 0 1 0 2.5,0a1.25,1.25 0 1 0 -2.5,0M522.40,283.66a1.25,1.25 0 1 0 2.5,0a1.25,1.25 0 1 0 -2.5,0M537.16,283.66a1.25,1.25 0 1 0 2.5,0a1.25,1.25 0 1 0 -2.5,0M551.92,283.66a1.25,1.25 0 1 0 2.5,0a1.25,1.25 0 1 0 -2.5,0M566.68,283.66a1.25,1.25 0 1 0 2.5,0a1.25,1.25 0 1 0 -2.5,0M581.44,283.66a1.25,1.25 0 1 0 2.5,0a1.25,1.25 0 1 0 -2.5,0M596.20,283.66a1.25,1.25 0 1 0 2.5,0a1.25,1.25 0 1 0 -2.5,0M610.96,283.66a1.25,1.25 0 1 0 2.5,0a1.25,1.25 0 1 0 -2.5,0M625.72,283.66a1.25,1.25 0 1 0 2.5,0a1.25,1.25 0 1 0 -2.5,0M640.48,283.66a1.25,1.25 0 1 0 2.5,0a1.25,1.25 0 1 0 -2.5,0M655.24,283.66a1.25,1.25 0 1 0 2.5,0a1.25,1.25 0 1 0 -2.5,0M670.00,283.66a1.25,1.25 0 1 0 2.5,0a1.25,1.25 0 1 0 -2.5,0M684.76,283.66a1.25,1.25 0 1 0 2.5,0a1.25,1.25 0 1 0 -2.5,0M5.80,298.40a1.25,1.25 0 1 0 2.5,0a1.25,1.25 0 1 0 -2.5,0M20.56,298.40a1.25,1.25 0 1 0 2.5,0a1.25,1.25 0 1 0 -2.5,0M35.32,298.40a1.25,1.25 0 1 0 2.5,0a1.25,1.25 0 1 0 -2.5,0M50.08,298.40a1.25,1.25 0 1 0 2.5,0a1.25,1.25 0 1 0 -2.5,0M64.84,298.40a1.25,1.25 0 1 0 2.5,0a1.25,1.25 0 1 0 -2.5,0M79.60,298.40a1.25,1.25 0 1 0 2.5,0a1.25,1.25 0 1 0 -2.5,0M94.36,298.40a1.25,1.25 0 1 0 2.5,0a1.25,1.25 0 1 0 -2.5,0M109.12,298.40a1.25,1.25 0 1 0 2.5,0a1.25,1.25 0 1 0 -2.5,0M123.88,298.40a1.25,1.25 0 1 0 2.5,0a1.25,1.25 0 1 0 -2.5,0M138.64,298.40a1.25,1.25 0 1 0 2.5,0a1.25,1.25 0 1 0 -2.5,0M153.40,298.40a1.25,1.25 0 1 0 2.5,0a1.25,1.25 0 1 0 -2.5,0M168.16,298.40a1.25,1.25 0 1 0 2.5,0a1.25,1.25 0 1 0 -2.5,0M182.92,298.40a1.25,1.25 0 1 0 2.5,0a1.25,1.25 0 1 0 -2.5,0M197.68,298.40a1.25,1.25 0 1 0 2.5,0a1.25,1.25 0 1 0 -2.5,0M212.44,298.40a1.25,1.25 0 1 0 2.5,0a1.25,1.25 0 1 0 -2.5,0M227.20,298.40a1.25,1.25 0 1 0 2.5,0a1.25,1.25 0 1 0 -2.5,0M241.96,298.40a1.25,1.25 0 1 0 2.5,0a1.25,1.25 0 1 0 -2.5,0M256.72,298.40a1.25,1.25 0 1 0 2.5,0a1.25,1.25 0 1 0 -2.5,0M271.48,298.40a1.25,1.25 0 1 0 2.5,0a1.25,1.25 0 1 0 -2.5,0M286.24,298.40a1.25,1.25 0 1 0 2.5,0a1.25,1.25 0 1 0 -2.5,0M301.00,298.40a1.25,1.25 0 1 0 2.5,0a1.25,1.25 0 1 0 -2.5,0M315.76,298.40a1.25,1.25 0 1 0 2.5,0a1.25,1.25 0 1 0 -2.5,0M330.52,298.40a1.25,1.25 0 1 0 2.5,0a1.25,1.25 0 1 0 -2.5,0M345.28,298.40a1.25,1.25 0 1 0 2.5,0a1.25,1.25 0 1 0 -2.5,0M360.04,298.40a1.25,1.25 0 1 0 2.5,0a1.25,1.25 0 1 0 -2.5,0M374.80,298.40a1.25,1.25 0 1 0 2.5,0a1.25,1.25 0 1 0 -2.5,0M389.56,298.40a1.25,1.25 0 1 0 2.5,0a1.25,1.25 0 1 0 -2.5,0M404.32,298.40a1.25,1.25 0 1 0 2.5,0a1.25,1.25 0 1 0 -2.5,0M419.08,298.40a1.25,1.25 0 1 0 2.5,0a1.25,1.25 0 1 0 -2.5,0M433.84,298.40a1.25,1.25 0 1 0 2.5,0a1.25,1.25 0 1 0 -2.5,0M448.60,298.40a1.25,1.25 0 1 0 2.5,0a1.25,1.25 0 1 0 -2.5,0M463.36,298.40a1.25,1.25 0 1 0 2.5,0a1.25,1.25 0 1 0 -2.5,0M478.12,298.40a1.25,1.25 0 1 0 2.5,0a1.25,1.25 0 1 0 -2.5,0M492.88,298.40a1.25,1.25 0 1 0 2.5,0a1.25,1.25 0 1 0 -2.5,0M507.64,298.40a1.25,1.25 0 1 0 2.5,0a1.25,1.25 0 1 0 -2.5,0M522.40,298.40a1.25,1.25 0 1 0 2.5,0a1.25,1.25 0 1 0 -2.5,0M537.16,298.40a1.25,1.25 0 1 0 2.5,0a1.25,1.25 0 1 0 -2.5,0M551.92,298.40a1.25,1.25 0 1 0 2.5,0a1.25,1.25 0 1 0 -2.5,0M566.68,298.40a1.25,1.25 0 1 0 2.5,0a1.25,1.25 0 1 0 -2.5,0M581.44,298.40a1.25,1.25 0 1 0 2.5,0a1.25,1.25 0 1 0 -2.5,0M596.20,298.40a1.25,1.25 0 1 0 2.5,0a1.25,1.25 0 1 0 -2.5,0M610.96,298.40a1.25,1.25 0 1 0 2.5,0a1.25,1.25 0 1 0 -2.5,0M625.72,298.40a1.25,1.25 0 1 0 2.5,0a1.25,1.25 0 1 0 -2.5,0M640.48,298.40a1.25,1.25 0 1 0 2.5,0a1.25,1.25 0 1 0 -2.5,0M655.24,298.40a1.25,1.25 0 1 0 2.5,0a1.25,1.25 0 1 0 -2.5,0M670.00,298.40a1.25,1.25 0 1 0 2.5,0a1.25,1.25 0 1 0 -2.5,0M684.76,298.40a1.25,1.25 0 1 0 2.5,0a1.25,1.25 0 1 0 -2.5,0M5.80,313.15a1.25,1.25 0 1 0 2.5,0a1.25,1.25 0 1 0 -2.5,0M20.56,313.15a1.25,1.25 0 1 0 2.5,0a1.25,1.25 0 1 0 -2.5,0M35.32,313.15a1.25,1.25 0 1 0 2.5,0a1.25,1.25 0 1 0 -2.5,0M50.08,313.15a1.25,1.25 0 1 0 2.5,0a1.25,1.25 0 1 0 -2.5,0M64.84,313.15a1.25,1.25 0 1 0 2.5,0a1.25,1.25 0 1 0 -2.5,0M79.60,313.15a1.25,1.25 0 1 0 2.5,0a1.25,1.25 0 1 0 -2.5,0M94.36,313.15a1.25,1.25 0 1 0 2.5,0a1.25,1.25 0 1 0 -2.5,0M109.12,313.15a1.25,1.25 0 1 0 2.5,0a1.25,1.25 0 1 0 -2.5,0M123.88,313.15a1.25,1.25 0 1 0 2.5,0a1.25,1.25 0 1 0 -2.5,0M138.64,313.15a1.25,1.25 0 1 0 2.5,0a1.25,1.25 0 1 0 -2.5,0M153.40,313.15a1.25,1.25 0 1 0 2.5,0a1.25,1.25 0 1 0 -2.5,0M168.16,313.15a1.25,1.25 0 1 0 2.5,0a1.25,1.25 0 1 0 -2.5,0M182.92,313.15a1.25,1.25 0 1 0 2.5,0a1.25,1.25 0 1 0 -2.5,0M197.68,313.15a1.25,1.25 0 1 0 2.5,0a1.25,1.25 0 1 0 -2.5,0M212.44,313.15a1.25,1.25 0 1 0 2.5,0a1.25,1.25 0 1 0 -2.5,0M227.20,313.15a1.25,1.25 0 1 0 2.5,0a1.25,1.25 0 1 0 -2.5,0M241.96,313.15a1.25,1.25 0 1 0 2.5,0a1.25,1.25 0 1 0 -2.5,0M256.72,313.15a1.25,1.25 0 1 0 2.5,0a1.25,1.25 0 1 0 -2.5,0M271.48,313.15a1.25,1.25 0 1 0 2.5,0a1.25,1.25 0 1 0 -2.5,0M286.24,313.15a1.25,1.25 0 1 0 2.5,0a1.25,1.25 0 1 0 -2.5,0M301.00,313.15a1.25,1.25 0 1 0 2.5,0a1.25,1.25 0 1 0 -2.5,0M315.76,313.15a1.25,1.25 0 1 0 2.5,0a1.25,1.25 0 1 0 -2.5,0M330.52,313.15a1.25,1.25 0 1 0 2.5,0a1.25,1.25 0 1 0 -2.5,0M345.28,313.15a1.25,1.25 0 1 0 2.5,0a1.25,1.25 0 1 0 -2.5,0M360.04,313.15a1.25,1.25 0 1 0 2.5,0a1.25,1.25 0 1 0 -2.5,0M374.80,313.15a1.25,1.25 0 1 0 2.5,0a1.25,1.25 0 1 0 -2.5,0M389.56,313.15a1.25,1.25 0 1 0 2.5,0a1.25,1.25 0 1 0 -2.5,0M404.32,313.15a1.25,1.25 0 1 0 2.5,0a1.25,1.25 0 1 0 -2.5,0M419.08,313.15a1.25,1.25 0 1 0 2.5,0a1.25,1.25 0 1 0 -2.5,0M433.84,313.15a1.25,1.25 0 1 0 2.5,0a1.25,1.25 0 1 0 -2.5,0M448.60,313.15a1.25,1.25 0 1 0 2.5,0a1.25,1.25 0 1 0 -2.5,0M463.36,313.15a1.25,1.25 0 1 0 2.5,0a1.25,1.25 0 1 0 -2.5,0M478.12,313.15a1.25,1.25 0 1 0 2.5,0a1.25,1.25 0 1 0 -2.5,0M492.88,313.15a1.25,1.25 0 1 0 2.5,0a1.25,1.25 0 1 0 -2.5,0M507.64,313.15a1.25,1.25 0 1 0 2.5,0a1.25,1.25 0 1 0 -2.5,0M522.40,313.15a1.25,1.25 0 1 0 2.5,0a1.25,1.25 0 1 0 -2.5,0M537.16,313.15a1.25,1.25 0 1 0 2.5,0a1.25,1.25 0 1 0 -2.5,0M551.92,313.15a1.25,1.25 0 1 0 2.5,0a1.25,1.25 0 1 0 -2.5,0M566.68,313.15a1.25,1.25 0 1 0 2.5,0a1.25,1.25 0 1 0 -2.5,0M581.44,313.15a1.25,1.25 0 1 0 2.5,0a1.25,1.25 0 1 0 -2.5,0M596.20,313.15a1.25,1.25 0 1 0 2.5,0a1.25,1.25 0 1 0 -2.5,0M610.96,313.15a1.25,1.25 0 1 0 2.5,0a1.25,1.25 0 1 0 -2.5,0M625.72,313.15a1.25,1.25 0 1 0 2.5,0a1.25,1.25 0 1 0 -2.5,0M640.48,313.15a1.25,1.25 0 1 0 2.5,0a1.25,1.25 0 1 0 -2.5,0M655.24,313.15a1.25,1.25 0 1 0 2.5,0a1.25,1.25 0 1 0 -2.5,0M670.00,313.15a1.25,1.25 0 1 0 2.5,0a1.25,1.25 0 1 0 -2.5,0M684.76,313.15a1.25,1.25 0 1 0 2.5,0a1.25,1.25 0 1 0 -2.5,0M5.80,327.89a1.25,1.25 0 1 0 2.5,0a1.25,1.25 0 1 0 -2.5,0M20.56,327.89a1.25,1.25 0 1 0 2.5,0a1.25,1.25 0 1 0 -2.5,0M35.32,327.89a1.25,1.25 0 1 0 2.5,0a1.25,1.25 0 1 0 -2.5,0M50.08,327.89a1.25,1.25 0 1 0 2.5,0a1.25,1.25 0 1 0 -2.5,0M64.84,327.89a1.25,1.25 0 1 0 2.5,0a1.25,1.25 0 1 0 -2.5,0M79.60,327.89a1.25,1.25 0 1 0 2.5,0a1.25,1.25 0 1 0 -2.5,0M94.36,327.89a1.25,1.25 0 1 0 2.5,0a1.25,1.25 0 1 0 -2.5,0M109.12,327.89a1.25,1.25 0 1 0 2.5,0a1.25,1.25 0 1 0 -2.5,0M123.88,327.89a1.25,1.25 0 1 0 2.5,0a1.25,1.25 0 1 0 -2.5,0M138.64,327.89a1.25,1.25 0 1 0 2.5,0a1.25,1.25 0 1 0 -2.5,0M153.40,327.89a1.25,1.25 0 1 0 2.5,0a1.25,1.25 0 1 0 -2.5,0M168.16,327.89a1.25,1.25 0 1 0 2.5,0a1.25,1.25 0 1 0 -2.5,0M182.92,327.89a1.25,1.25 0 1 0 2.5,0a1.25,1.25 0 1 0 -2.5,0M197.68,327.89a1.25,1.25 0 1 0 2.5,0a1.25,1.25 0 1 0 -2.5,0M212.44,327.89a1.25,1.25 0 1 0 2.5,0a1.25,1.25 0 1 0 -2.5,0M227.20,327.89a1.25,1.25 0 1 0 2.5,0a1.25,1.25 0 1 0 -2.5,0M241.96,327.89a1.25,1.25 0 1 0 2.5,0a1.25,1.25 0 1 0 -2.5,0M256.72,327.89a1.25,1.25 0 1 0 2.5,0a1.25,1.25 0 1 0 -2.5,0M271.48,327.89a1.25,1.25 0 1 0 2.5,0a1.25,1.25 0 1 0 -2.5,0M286.24,327.89a1.25,1.25 0 1 0 2.5,0a1.25,1.25 0 1 0 -2.5,0M301.00,327.89a1.25,1.25 0 1 0 2.5,0a1.25,1.25 0 1 0 -2.5,0M315.76,327.89a1.25,1.25 0 1 0 2.5,0a1.25,1.25 0 1 0 -2.5,0M330.52,327.89a1.25,1.25 0 1 0 2.5,0a1.25,1.25 0 1 0 -2.5,0M345.28,327.89a1.25,1.25 0 1 0 2.5,0a1.25,1.25 0 1 0 -2.5,0M360.04,327.89a1.25,1.25 0 1 0 2.5,0a1.25,1.25 0 1 0 -2.5,0M374.80,327.89a1.25,1.25 0 1 0 2.5,0a1.25,1.25 0 1 0 -2.5,0M389.56,327.89a1.25,1.25 0 1 0 2.5,0a1.25,1.25 0 1 0 -2.5,0M404.32,327.89a1.25,1.25 0 1 0 2.5,0a1.25,1.25 0 1 0 -2.5,0M419.08,327.89a1.25,1.25 0 1 0 2.5,0a1.25,1.25 0 1 0 -2.5,0M433.84,327.89a1.25,1.25 0 1 0 2.5,0a1.25,1.25 0 1 0 -2.5,0M448.60,327.89a1.25,1.25 0 1 0 2.5,0a1.25,1.25 0 1 0 -2.5,0M463.36,327.89a1.25,1.25 0 1 0 2.5,0a1.25,1.25 0 1 0 -2.5,0M478.12,327.89a1.25,1.25 0 1 0 2.5,0a1.25,1.25 0 1 0 -2.5,0M492.88,327.89a1.25,1.25 0 1 0 2.5,0a1.25,1.25 0 1 0 -2.5,0M507.64,327.89a1.25,1.25 0 1 0 2.5,0a1.25,1.25 0 1 0 -2.5,0M522.40,327.89a1.25,1.25 0 1 0 2.5,0a1.25,1.25 0 1 0 -2.5,0M537.16,327.89a1.25,1.25 0 1 0 2.5,0a1.25,1.25 0 1 0 -2.5,0M551.92,327.89a1.25,1.25 0 1 0 2.5,0a1.25,1.25 0 1 0 -2.5,0M566.68,327.89a1.25,1.25 0 1 0 2.5,0a1.25,1.25 0 1 0 -2.5,0M581.44,327.89a1.25,1.25 0 1 0 2.5,0a1.25,1.25 0 1 0 -2.5,0M596.20,327.89a1.25,1.25 0 1 0 2.5,0a1.25,1.25 0 1 0 -2.5,0M610.96,327.89a1.25,1.25 0 1 0 2.5,0a1.25,1.25 0 1 0 -2.5,0M625.72,327.89a1.25,1.25 0 1 0 2.5,0a1.25,1.25 0 1 0 -2.5,0M640.48,327.89a1.25,1.25 0 1 0 2.5,0a1.25,1.25 0 1 0 -2.5,0M655.24,327.89a1.25,1.25 0 1 0 2.5,0a1.25,1.25 0 1 0 -2.5,0M670.00,327.89a1.25,1.25 0 1 0 2.5,0a1.25,1.25 0 1 0 -2.5,0M684.76,327.89a1.25,1.25 0 1 0 2.5,0a1.25,1.25 0 1 0 -2.5,0M5.80,342.64a1.25,1.25 0 1 0 2.5,0a1.25,1.25 0 1 0 -2.5,0M20.56,342.64a1.25,1.25 0 1 0 2.5,0a1.25,1.25 0 1 0 -2.5,0M35.32,342.64a1.25,1.25 0 1 0 2.5,0a1.25,1.25 0 1 0 -2.5,0M50.08,342.64a1.25,1.25 0 1 0 2.5,0a1.25,1.25 0 1 0 -2.5,0M64.84,342.64a1.25,1.25 0 1 0 2.5,0a1.25,1.25 0 1 0 -2.5,0M79.60,342.64a1.25,1.25 0 1 0 2.5,0a1.25,1.25 0 1 0 -2.5,0M94.36,342.64a1.25,1.25 0 1 0 2.5,0a1.25,1.25 0 1 0 -2.5,0M109.12,342.64a1.25,1.25 0 1 0 2.5,0a1.25,1.25 0 1 0 -2.5,0M123.88,342.64a1.25,1.25 0 1 0 2.5,0a1.25,1.25 0 1 0 -2.5,0M138.64,342.64a1.25,1.25 0 1 0 2.5,0a1.25,1.25 0 1 0 -2.5,0M153.40,342.64a1.25,1.25 0 1 0 2.5,0a1.25,1.25 0 1 0 -2.5,0M168.16,342.64a1.25,1.25 0 1 0 2.5,0a1.25,1.25 0 1 0 -2.5,0M182.92,342.64a1.25,1.25 0 1 0 2.5,0a1.25,1.25 0 1 0 -2.5,0M197.68,342.64a1.25,1.25 0 1 0 2.5,0a1.25,1.25 0 1 0 -2.5,0M212.44,342.64a1.25,1.25 0 1 0 2.5,0a1.25,1.25 0 1 0 -2.5,0M227.20,342.64a1.25,1.25 0 1 0 2.5,0a1.25,1.25 0 1 0 -2.5,0M241.96,342.64a1.25,1.25 0 1 0 2.5,0a1.25,1.25 0 1 0 -2.5,0M256.72,342.64a1.25,1.25 0 1 0 2.5,0a1.25,1.25 0 1 0 -2.5,0M271.48,342.64a1.25,1.25 0 1 0 2.5,0a1.25,1.25 0 1 0 -2.5,0M286.24,342.64a1.25,1.25 0 1 0 2.5,0a1.25,1.25 0 1 0 -2.5,0M301.00,342.64a1.25,1.25 0 1 0 2.5,0a1.25,1.25 0 1 0 -2.5,0M315.76,342.64a1.25,1.25 0 1 0 2.5,0a1.25,1.25 0 1 0 -2.5,0M330.52,342.64a1.25,1.25 0 1 0 2.5,0a1.25,1.25 0 1 0 -2.5,0M345.28,342.64a1.25,1.25 0 1 0 2.5,0a1.25,1.25 0 1 0 -2.5,0M360.04,342.64a1.25,1.25 0 1 0 2.5,0a1.25,1.25 0 1 0 -2.5,0M374.80,342.64a1.25,1.25 0 1 0 2.5,0a1.25,1.25 0 1 0 -2.5,0M389.56,342.64a1.25,1.25 0 1 0 2.5,0a1.25,1.25 0 1 0 -2.5,0M404.32,342.64a1.25,1.25 0 1 0 2.5,0a1.25,1.25 0 1 0 -2.5,0M419.08,342.64a1.25,1.25 0 1 0 2.5,0a1.25,1.25 0 1 0 -2.5,0M433.84,342.64a1.25,1.25 0 1 0 2.5,0a1.25,1.25 0 1 0 -2.5,0M448.60,342.64a1.25,1.25 0 1 0 2.5,0a1.25,1.25 0 1 0 -2.5,0M463.36,342.64a1.25,1.25 0 1 0 2.5,0a1.25,1.25 0 1 0 -2.5,0M478.12,342.64a1.25,1.25 0 1 0 2.5,0a1.25,1.25 0 1 0 -2.5,0M492.88,342.64a1.25,1.25 0 1 0 2.5,0a1.25,1.25 0 1 0 -2.5,0M507.64,342.64a1.25,1.25 0 1 0 2.5,0a1.25,1.25 0 1 0 -2.5,0M522.40,342.64a1.25,1.25 0 1 0 2.5,0a1.25,1.25 0 1 0 -2.5,0M537.16,342.64a1.25,1.25 0 1 0 2.5,0a1.25,1.25 0 1 0 -2.5,0M551.92,342.64a1.25,1.25 0 1 0 2.5,0a1.25,1.25 0 1 0 -2.5,0M566.68,342.64a1.25,1.25 0 1 0 2.5,0a1.25,1.25 0 1 0 -2.5,0M581.44,342.64a1.25,1.25 0 1 0 2.5,0a1.25,1.25 0 1 0 -2.5,0M596.20,342.64a1.25,1.25 0 1 0 2.5,0a1.25,1.25 0 1 0 -2.5,0M610.96,342.64a1.25,1.25 0 1 0 2.5,0a1.25,1.25 0 1 0 -2.5,0M625.72,342.64a1.25,1.25 0 1 0 2.5,0a1.25,1.25 0 1 0 -2.5,0M640.48,342.64a1.25,1.25 0 1 0 2.5,0a1.25,1.25 0 1 0 -2.5,0M655.24,342.64a1.25,1.25 0 1 0 2.5,0a1.25,1.25 0 1 0 -2.5,0M670.00,342.64a1.25,1.25 0 1 0 2.5,0a1.25,1.25 0 1 0 -2.5,0M684.76,342.64a1.25,1.25 0 1 0 2.5,0a1.25,1.25 0 1 0 -2.5,0M5.80,357.38a1.25,1.25 0 1 0 2.5,0a1.25,1.25 0 1 0 -2.5,0M20.56,357.38a1.25,1.25 0 1 0 2.5,0a1.25,1.25 0 1 0 -2.5,0M35.32,357.38a1.25,1.25 0 1 0 2.5,0a1.25,1.25 0 1 0 -2.5,0M50.08,357.38a1.25,1.25 0 1 0 2.5,0a1.25,1.25 0 1 0 -2.5,0M64.84,357.38a1.25,1.25 0 1 0 2.5,0a1.25,1.25 0 1 0 -2.5,0M79.60,357.38a1.25,1.25 0 1 0 2.5,0a1.25,1.25 0 1 0 -2.5,0M94.36,357.38a1.25,1.25 0 1 0 2.5,0a1.25,1.25 0 1 0 -2.5,0M109.12,357.38a1.25,1.25 0 1 0 2.5,0a1.25,1.25 0 1 0 -2.5,0M123.88,357.38a1.25,1.25 0 1 0 2.5,0a1.25,1.25 0 1 0 -2.5,0M138.64,357.38a1.25,1.25 0 1 0 2.5,0a1.25,1.25 0 1 0 -2.5,0M153.40,357.38a1.25,1.25 0 1 0 2.5,0a1.25,1.25 0 1 0 -2.5,0M168.16,357.38a1.25,1.25 0 1 0 2.5,0a1.25,1.25 0 1 0 -2.5,0M182.92,357.38a1.25,1.25 0 1 0 2.5,0a1.25,1.25 0 1 0 -2.5,0M197.68,357.38a1.25,1.25 0 1 0 2.5,0a1.25,1.25 0 1 0 -2.5,0M212.44,357.38a1.25,1.25 0 1 0 2.5,0a1.25,1.25 0 1 0 -2.5,0M227.20,357.38a1.25,1.25 0 1 0 2.5,0a1.25,1.25 0 1 0 -2.5,0M241.96,357.38a1.25,1.25 0 1 0 2.5,0a1.25,1.25 0 1 0 -2.5,0M256.72,357.38a1.25,1.25 0 1 0 2.5,0a1.25,1.25 0 1 0 -2.5,0M271.48,357.38a1.25,1.25 0 1 0 2.5,0a1.25,1.25 0 1 0 -2.5,0M286.24,357.38a1.25,1.25 0 1 0 2.5,0a1.25,1.25 0 1 0 -2.5,0M301.00,357.38a1.25,1.25 0 1 0 2.5,0a1.25,1.25 0 1 0 -2.5,0M315.76,357.38a1.25,1.25 0 1 0 2.5,0a1.25,1.25 0 1 0 -2.5,0M330.52,357.38a1.25,1.25 0 1 0 2.5,0a1.25,1.25 0 1 0 -2.5,0M345.28,357.38a1.25,1.25 0 1 0 2.5,0a1.25,1.25 0 1 0 -2.5,0M360.04,357.38a1.25,1.25 0 1 0 2.5,0a1.25,1.25 0 1 0 -2.5,0M374.80,357.38a1.25,1.25 0 1 0 2.5,0a1.25,1.25 0 1 0 -2.5,0M389.56,357.38a1.25,1.25 0 1 0 2.5,0a1.25,1.25 0 1 0 -2.5,0M404.32,357.38a1.25,1.25 0 1 0 2.5,0a1.25,1.25 0 1 0 -2.5,0M419.08,357.38a1.25,1.25 0 1 0 2.5,0a1.25,1.25 0 1 0 -2.5,0M433.84,357.38a1.25,1.25 0 1 0 2.5,0a1.25,1.25 0 1 0 -2.5,0M448.60,357.38a1.25,1.25 0 1 0 2.5,0a1.25,1.25 0 1 0 -2.5,0M463.36,357.38a1.25,1.25 0 1 0 2.5,0a1.25,1.25 0 1 0 -2.5,0M478.12,357.38a1.25,1.25 0 1 0 2.5,0a1.25,1.25 0 1 0 -2.5,0M492.88,357.38a1.25,1.25 0 1 0 2.5,0a1.25,1.25 0 1 0 -2.5,0M507.64,357.38a1.25,1.25 0 1 0 2.5,0a1.25,1.25 0 1 0 -2.5,0M522.40,357.38a1.25,1.25 0 1 0 2.5,0a1.25,1.25 0 1 0 -2.5,0M537.16,357.38a1.25,1.25 0 1 0 2.5,0a1.25,1.25 0 1 0 -2.5,0M551.92,357.38a1.25,1.25 0 1 0 2.5,0a1.25,1.25 0 1 0 -2.5,0M566.68,357.38a1.25,1.25 0 1 0 2.5,0a1.25,1.25 0 1 0 -2.5,0M581.44,357.38a1.25,1.25 0 1 0 2.5,0a1.25,1.25 0 1 0 -2.5,0M596.20,357.38a1.25,1.25 0 1 0 2.5,0a1.25,1.25 0 1 0 -2.5,0M610.96,357.38a1.25,1.25 0 1 0 2.5,0a1.25,1.25 0 1 0 -2.5,0M625.72,357.38a1.25,1.25 0 1 0 2.5,0a1.25,1.25 0 1 0 -2.5,0M640.48,357.38a1.25,1.25 0 1 0 2.5,0a1.25,1.25 0 1 0 -2.5,0M655.24,357.38a1.25,1.25 0 1 0 2.5,0a1.25,1.25 0 1 0 -2.5,0M670.00,357.38a1.25,1.25 0 1 0 2.5,0a1.25,1.25 0 1 0 -2.5,0M684.76,357.38a1.25,1.25 0 1 0 2.5,0a1.25,1.25 0 1 0 -2.5,0M5.80,372.13a1.25,1.25 0 1 0 2.5,0a1.25,1.25 0 1 0 -2.5,0M20.56,372.13a1.25,1.25 0 1 0 2.5,0a1.25,1.25 0 1 0 -2.5,0M35.32,372.13a1.25,1.25 0 1 0 2.5,0a1.25,1.25 0 1 0 -2.5,0M50.08,372.13a1.25,1.25 0 1 0 2.5,0a1.25,1.25 0 1 0 -2.5,0M64.84,372.13a1.25,1.25 0 1 0 2.5,0a1.25,1.25 0 1 0 -2.5,0M79.60,372.13a1.25,1.25 0 1 0 2.5,0a1.25,1.25 0 1 0 -2.5,0M94.36,372.13a1.25,1.25 0 1 0 2.5,0a1.25,1.25 0 1 0 -2.5,0M109.12,372.13a1.25,1.25 0 1 0 2.5,0a1.25,1.25 0 1 0 -2.5,0M123.88,372.13a1.25,1.25 0 1 0 2.5,0a1.25,1.25 0 1 0 -2.5,0M138.64,372.13a1.25,1.25 0 1 0 2.5,0a1.25,1.25 0 1 0 -2.5,0M153.40,372.13a1.25,1.25 0 1 0 2.5,0a1.25,1.25 0 1 0 -2.5,0M168.16,372.13a1.25,1.25 0 1 0 2.5,0a1.25,1.25 0 1 0 -2.5,0M182.92,372.13a1.25,1.25 0 1 0 2.5,0a1.25,1.25 0 1 0 -2.5,0M197.68,372.13a1.25,1.25 0 1 0 2.5,0a1.25,1.25 0 1 0 -2.5,0M212.44,372.13a1.25,1.25 0 1 0 2.5,0a1.25,1.25 0 1 0 -2.5,0M227.20,372.13a1.25,1.25 0 1 0 2.5,0a1.25,1.25 0 1 0 -2.5,0M241.96,372.13a1.25,1.25 0 1 0 2.5,0a1.25,1.25 0 1 0 -2.5,0M256.72,372.13a1.25,1.25 0 1 0 2.5,0a1.25,1.25 0 1 0 -2.5,0M271.48,372.13a1.25,1.25 0 1 0 2.5,0a1.25,1.25 0 1 0 -2.5,0M286.24,372.13a1.25,1.25 0 1 0 2.5,0a1.25,1.25 0 1 0 -2.5,0M301.00,372.13a1.25,1.25 0 1 0 2.5,0a1.25,1.25 0 1 0 -2.5,0M315.76,372.13a1.25,1.25 0 1 0 2.5,0a1.25,1.25 0 1 0 -2.5,0M330.52,372.13a1.25,1.25 0 1 0 2.5,0a1.25,1.25 0 1 0 -2.5,0M345.28,372.13a1.25,1.25 0 1 0 2.5,0a1.25,1.25 0 1 0 -2.5,0M360.04,372.13a1.25,1.25 0 1 0 2.5,0a1.25,1.25 0 1 0 -2.5,0M374.80,372.13a1.25,1.25 0 1 0 2.5,0a1.25,1.25 0 1 0 -2.5,0M389.56,372.13a1.25,1.25 0 1 0 2.5,0a1.25,1.25 0 1 0 -2.5,0M404.32,372.13a1.25,1.25 0 1 0 2.5,0a1.25,1.25 0 1 0 -2.5,0M419.08,372.13a1.25,1.25 0 1 0 2.5,0a1.25,1.25 0 1 0 -2.5,0M433.84,372.13a1.25,1.25 0 1 0 2.5,0a1.25,1.25 0 1 0 -2.5,0M448.60,372.13a1.25,1.25 0 1 0 2.5,0a1.25,1.25 0 1 0 -2.5,0M463.36,372.13a1.25,1.25 0 1 0 2.5,0a1.25,1.25 0 1 0 -2.5,0M478.12,372.13a1.25,1.25 0 1 0 2.5,0a1.25,1.25 0 1 0 -2.5,0M492.88,372.13a1.25,1.25 0 1 0 2.5,0a1.25,1.25 0 1 0 -2.5,0M507.64,372.13a1.25,1.25 0 1 0 2.5,0a1.25,1.25 0 1 0 -2.5,0M522.40,372.13a1.25,1.25 0 1 0 2.5,0a1.25,1.25 0 1 0 -2.5,0M537.16,372.13a1.25,1.25 0 1 0 2.5,0a1.25,1.25 0 1 0 -2.5,0M551.92,372.13a1.25,1.25 0 1 0 2.5,0a1.25,1.25 0 1 0 -2.5,0M566.68,372.13a1.25,1.25 0 1 0 2.5,0a1.25,1.25 0 1 0 -2.5,0M581.44,372.13a1.25,1.25 0 1 0 2.5,0a1.25,1.25 0 1 0 -2.5,0M596.20,372.13a1.25,1.25 0 1 0 2.5,0a1.25,1.25 0 1 0 -2.5,0M610.96,372.13a1.25,1.25 0 1 0 2.5,0a1.25,1.25 0 1 0 -2.5,0M625.72,372.13a1.25,1.25 0 1 0 2.5,0a1.25,1.25 0 1 0 -2.5,0M640.48,372.13a1.25,1.25 0 1 0 2.5,0a1.25,1.25 0 1 0 -2.5,0M655.24,372.13a1.25,1.25 0 1 0 2.5,0a1.25,1.25 0 1 0 -2.5,0M670.00,372.13a1.25,1.25 0 1 0 2.5,0a1.25,1.25 0 1 0 -2.5,0M684.76,372.13a1.25,1.25 0 1 0 2.5,0a1.25,1.25 0 1 0 -2.5,0M5.80,386.87a1.25,1.25 0 1 0 2.5,0a1.25,1.25 0 1 0 -2.5,0M20.56,386.87a1.25,1.25 0 1 0 2.5,0a1.25,1.25 0 1 0 -2.5,0M35.32,386.87a1.25,1.25 0 1 0 2.5,0a1.25,1.25 0 1 0 -2.5,0M50.08,386.87a1.25,1.25 0 1 0 2.5,0a1.25,1.25 0 1 0 -2.5,0M64.84,386.87a1.25,1.25 0 1 0 2.5,0a1.25,1.25 0 1 0 -2.5,0M79.60,386.87a1.25,1.25 0 1 0 2.5,0a1.25,1.25 0 1 0 -2.5,0M94.36,386.87a1.25,1.25 0 1 0 2.5,0a1.25,1.25 0 1 0 -2.5,0M109.12,386.87a1.25,1.25 0 1 0 2.5,0a1.25,1.25 0 1 0 -2.5,0M123.88,386.87a1.25,1.25 0 1 0 2.5,0a1.25,1.25 0 1 0 -2.5,0M138.64,386.87a1.25,1.25 0 1 0 2.5,0a1.25,1.25 0 1 0 -2.5,0M153.40,386.87a1.25,1.25 0 1 0 2.5,0a1.25,1.25 0 1 0 -2.5,0M168.16,386.87a1.25,1.25 0 1 0 2.5,0a1.25,1.25 0 1 0 -2.5,0M182.92,386.87a1.25,1.25 0 1 0 2.5,0a1.25,1.25 0 1 0 -2.5,0M197.68,386.87a1.25,1.25 0 1 0 2.5,0a1.25,1.25 0 1 0 -2.5,0M212.44,386.87a1.25,1.25 0 1 0 2.5,0a1.25,1.25 0 1 0 -2.5,0M227.20,386.87a1.25,1.25 0 1 0 2.5,0a1.25,1.25 0 1 0 -2.5,0M241.96,386.87a1.25,1.25 0 1 0 2.5,0a1.25,1.25 0 1 0 -2.5,0M256.72,386.87a1.25,1.25 0 1 0 2.5,0a1.25,1.25 0 1 0 -2.5,0M271.48,386.87a1.25,1.25 0 1 0 2.5,0a1.25,1.25 0 1 0 -2.5,0M286.24,386.87a1.25,1.25 0 1 0 2.5,0a1.25,1.25 0 1 0 -2.5,0M301.00,386.87a1.25,1.25 0 1 0 2.5,0a1.25,1.25 0 1 0 -2.5,0M315.76,386.87a1.25,1.25 0 1 0 2.5,0a1.25,1.25 0 1 0 -2.5,0M330.52,386.87a1.25,1.25 0 1 0 2.5,0a1.25,1.25 0 1 0 -2.5,0M345.28,386.87a1.25,1.25 0 1 0 2.5,0a1.25,1.25 0 1 0 -2.5,0M360.04,386.87a1.25,1.25 0 1 0 2.5,0a1.25,1.25 0 1 0 -2.5,0M374.80,386.87a1.25,1.25 0 1 0 2.5,0a1.25,1.25 0 1 0 -2.5,0M389.56,386.87a1.25,1.25 0 1 0 2.5,0a1.25,1.25 0 1 0 -2.5,0M404.32,386.87a1.25,1.25 0 1 0 2.5,0a1.25,1.25 0 1 0 -2.5,0M419.08,386.87a1.25,1.25 0 1 0 2.5,0a1.25,1.25 0 1 0 -2.5,0M433.84,386.87a1.25,1.25 0 1 0 2.5,0a1.25,1.25 0 1 0 -2.5,0M448.60,386.87a1.25,1.25 0 1 0 2.5,0a1.25,1.25 0 1 0 -2.5,0M463.36,386.87a1.25,1.25 0 1 0 2.5,0a1.25,1.25 0 1 0 -2.5,0M478.12,386.87a1.25,1.25 0 1 0 2.5,0a1.25,1.25 0 1 0 -2.5,0M492.88,386.87a1.25,1.25 0 1 0 2.5,0a1.25,1.25 0 1 0 -2.5,0M507.64,386.87a1.25,1.25 0 1 0 2.5,0a1.25,1.25 0 1 0 -2.5,0M522.40,386.87a1.25,1.25 0 1 0 2.5,0a1.25,1.25 0 1 0 -2.5,0M537.16,386.87a1.25,1.25 0 1 0 2.5,0a1.25,1.25 0 1 0 -2.5,0M551.92,386.87a1.25,1.25 0 1 0 2.5,0a1.25,1.25 0 1 0 -2.5,0M566.68,386.87a1.25,1.25 0 1 0 2.5,0a1.25,1.25 0 1 0 -2.5,0M581.44,386.87a1.25,1.25 0 1 0 2.5,0a1.25,1.25 0 1 0 -2.5,0M596.20,386.87a1.25,1.25 0 1 0 2.5,0a1.25,1.25 0 1 0 -2.5,0M610.96,386.87a1.25,1.25 0 1 0 2.5,0a1.25,1.25 0 1 0 -2.5,0M625.72,386.87a1.25,1.25 0 1 0 2.5,0a1.25,1.25 0 1 0 -2.5,0M640.48,386.87a1.25,1.25 0 1 0 2.5,0a1.25,1.25 0 1 0 -2.5,0M655.24,386.87a1.25,1.25 0 1 0 2.5,0a1.25,1.25 0 1 0 -2.5,0M670.00,386.87a1.25,1.25 0 1 0 2.5,0a1.25,1.25 0 1 0 -2.5,0M684.76,386.87a1.25,1.25 0 1 0 2.5,0a1.25,1.25 0 1 0 -2.5,0M5.80,401.62a1.25,1.25 0 1 0 2.5,0a1.25,1.25 0 1 0 -2.5,0M20.56,401.62a1.25,1.25 0 1 0 2.5,0a1.25,1.25 0 1 0 -2.5,0M35.32,401.62a1.25,1.25 0 1 0 2.5,0a1.25,1.25 0 1 0 -2.5,0M50.08,401.62a1.25,1.25 0 1 0 2.5,0a1.25,1.25 0 1 0 -2.5,0M64.84,401.62a1.25,1.25 0 1 0 2.5,0a1.25,1.25 0 1 0 -2.5,0M79.60,401.62a1.25,1.25 0 1 0 2.5,0a1.25,1.25 0 1 0 -2.5,0M94.36,401.62a1.25,1.25 0 1 0 2.5,0a1.25,1.25 0 1 0 -2.5,0M109.12,401.62a1.25,1.25 0 1 0 2.5,0a1.25,1.25 0 1 0 -2.5,0M123.88,401.62a1.25,1.25 0 1 0 2.5,0a1.25,1.25 0 1 0 -2.5,0M138.64,401.62a1.25,1.25 0 1 0 2.5,0a1.25,1.25 0 1 0 -2.5,0M153.40,401.62a1.25,1.25 0 1 0 2.5,0a1.25,1.25 0 1 0 -2.5,0M168.16,401.62a1.25,1.25 0 1 0 2.5,0a1.25,1.25 0 1 0 -2.5,0M182.92,401.62a1.25,1.25 0 1 0 2.5,0a1.25,1.25 0 1 0 -2.5,0M197.68,401.62a1.25,1.25 0 1 0 2.5,0a1.25,1.25 0 1 0 -2.5,0M212.44,401.62a1.25,1.25 0 1 0 2.5,0a1.25,1.25 0 1 0 -2.5,0M227.20,401.62a1.25,1.25 0 1 0 2.5,0a1.25,1.25 0 1 0 -2.5,0M241.96,401.62a1.25,1.25 0 1 0 2.5,0a1.25,1.25 0 1 0 -2.5,0M256.72,401.62a1.25,1.25 0 1 0 2.5,0a1.25,1.25 0 1 0 -2.5,0M271.48,401.62a1.25,1.25 0 1 0 2.5,0a1.25,1.25 0 1 0 -2.5,0M286.24,401.62a1.25,1.25 0 1 0 2.5,0a1.25,1.25 0 1 0 -2.5,0M301.00,401.62a1.25,1.25 0 1 0 2.5,0a1.25,1.25 0 1 0 -2.5,0M315.76,401.62a1.25,1.25 0 1 0 2.5,0a1.25,1.25 0 1 0 -2.5,0M330.52,401.62a1.25,1.25 0 1 0 2.5,0a1.25,1.25 0 1 0 -2.5,0M345.28,401.62a1.25,1.25 0 1 0 2.5,0a1.25,1.25 0 1 0 -2.5,0M360.04,401.62a1.25,1.25 0 1 0 2.5,0a1.25,1.25 0 1 0 -2.5,0M374.80,401.62a1.25,1.25 0 1 0 2.5,0a1.25,1.25 0 1 0 -2.5,0M389.56,401.62a1.25,1.25 0 1 0 2.5,0a1.25,1.25 0 1 0 -2.5,0M404.32,401.62a1.25,1.25 0 1 0 2.5,0a1.25,1.25 0 1 0 -2.5,0M419.08,401.62a1.25,1.25 0 1 0 2.5,0a1.25,1.25 0 1 0 -2.5,0M433.84,401.62a1.25,1.25 0 1 0 2.5,0a1.25,1.25 0 1 0 -2.5,0M448.60,401.62a1.25,1.25 0 1 0 2.5,0a1.25,1.25 0 1 0 -2.5,0M463.36,401.62a1.25,1.25 0 1 0 2.5,0a1.25,1.25 0 1 0 -2.5,0M478.12,401.62a1.25,1.25 0 1 0 2.5,0a1.25,1.25 0 1 0 -2.5,0M492.88,401.62a1.25,1.25 0 1 0 2.5,0a1.25,1.25 0 1 0 -2.5,0M507.64,401.62a1.25,1.25 0 1 0 2.5,0a1.25,1.25 0 1 0 -2.5,0M522.40,401.62a1.25,1.25 0 1 0 2.5,0a1.25,1.25 0 1 0 -2.5,0M537.16,401.62a1.25,1.25 0 1 0 2.5,0a1.25,1.25 0 1 0 -2.5,0M551.92,401.62a1.25,1.25 0 1 0 2.5,0a1.25,1.25 0 1 0 -2.5,0M566.68,401.62a1.25,1.25 0 1 0 2.5,0a1.25,1.25 0 1 0 -2.5,0M581.44,401.62a1.25,1.25 0 1 0 2.5,0a1.25,1.25 0 1 0 -2.5,0M596.20,401.62a1.25,1.25 0 1 0 2.5,0a1.25,1.25 0 1 0 -2.5,0M610.96,401.62a1.25,1.25 0 1 0 2.5,0a1.25,1.25 0 1 0 -2.5,0M625.72,401.62a1.25,1.25 0 1 0 2.5,0a1.25,1.25 0 1 0 -2.5,0M640.48,401.62a1.25,1.25 0 1 0 2.5,0a1.25,1.25 0 1 0 -2.5,0M655.24,401.62a1.25,1.25 0 1 0 2.5,0a1.25,1.25 0 1 0 -2.5,0M670.00,401.62a1.25,1.25 0 1 0 2.5,0a1.25,1.25 0 1 0 -2.5,0M684.76,401.62a1.25,1.25 0 1 0 2.5,0a1.25,1.25 0 1 0 -2.5,0" fill="#d6d6d6"/>
<path d="M 66.2,9.3 a 6,6 0 0 1 6,-6 H 190.60000000000002 V 22.3 H 72.2 a 6,6 0 0 1 -6,-6 Z" fill="#F4511E"/><path d="M 190.20000000000002,3.3 V 21.900000000000002 H 72.2" fill="none" stroke="#d2461a" stroke-width="0.8"/><path d="M 66.60000000000001,16.3 V 9.3 a 5.6,5.6 0 0 1 5.6,-5.6 H 189.8" fill="none" stroke="#f7825d" stroke-width="0.8"/>
<text x="74.9" y="16.3" font-size="10.9" fill="#fff" stroke="#fff" stroke-width="0.15" textLength="68.67" lengthAdjust="spacingAndGlyphs">initialize globa</text>
<rect x="144.4" y="6.9" width="19.9" height="11.7" rx="3.5" ry="3.5" fill="#E59C84" stroke="#F2BBA8" stroke-width="0.8"/><text x="148.9" y="16.4" font-size="10.9" fill="#151515" stroke="#151515" stroke-width="0.42" textLength="13.42" lengthAdjust="spacingAndGlyphs">list</text>
<text x="167.8" y="16.3" font-size="10.9" fill="#fff" stroke="#fff" stroke-width="0.15" textLength="8.69" lengthAdjust="spacingAndGlyphs">to</text>
<path d="M 190.6,3.1 H 303.6 V 21.700000000000003 H 190.6 V 18.1 c 0,-7.500 -6.000,6.000 -6.000,-5.625 s 6.000,1.875 6.000,-5.625 Z" fill="#049BE5"/><path d="M 303.20000000000005,3.1 V 21.300000000000004 H 190.6" fill="none" stroke="#0385c5" stroke-width="0.8"/><path d="M 190.6,3.5 H 302.8" fill="none" stroke="#4ab7ec" stroke-width="0.8"/>
<rect x="198.4" y="7.1" width="11.4" height="11.6" rx="2.2" fill="#0D55E6" stroke="#3f8ff0" stroke-width="0.7"/><polygon points="204.10,10.30 206.35,11.60 206.35,14.20 204.10,15.50 201.85,14.20 201.85,11.60" fill="none" stroke="#A6D0FF" stroke-width="1.3"/><circle cx="204.10" cy="9.60" r="0.75" fill="#A6D0FF"/><circle cx="206.96" cy="11.25" r="0.75" fill="#A6D0FF"/><circle cx="206.96" cy="14.55" r="0.75" fill="#A6D0FF"/><circle cx="204.10" cy="16.20" r="0.75" fill="#A6D0FF"/><circle cx="201.24" cy="14.55" r="0.75" fill="#A6D0FF"/><circle cx="201.24" cy="11.25" r="0.75" fill="#A6D0FF"/>
<text x="218.3" y="16.3" font-size="10.9" fill="#fff" stroke="#fff" stroke-width="0.15" textLength="79.10" lengthAdjust="spacingAndGlyphs">create empty list</text>
<path d="M 66.2,38.9 a 6,6 0 0 1 6,-6 H 394.7 V 70.6 H 115.5 l -4.5,3.0 l -2.25,0 l -4.5,-3.0 H 99.0 a 6,6 0 0 0 -6,6 V 387.8 H 394.7 V 396.0 H 72.2 a 6,6 0 0 1 -6,-6 Z" fill="#F9A427"/><path d="M 394.3,32.9 V 70.19999999999999" fill="none" stroke="#d68d22" stroke-width="0.8"/><path d="M 92.6,76.6 V 387.8" fill="none" stroke="#ef9d25" stroke-width="0.8"/><path d="M 394.3,387.8 V 395.6 H 72.2" fill="none" stroke="#d68d22" stroke-width="0.8"/><path d="M 66.60000000000001,390.0 V 38.9 a 5.6,5.6 0 0 1 5.6,-5.6 H 393.9" fill="none" stroke="#fbbd63" stroke-width="0.8"/><path d="M 93.0,388.2 H 393.9" fill="none" stroke="#fbbd63" stroke-width="0.8"/>
<text x="73.45" y="45.5" font-size="10.9" fill="#fff" stroke="#fff" stroke-width="0.15" textLength="26.15" lengthAdjust="spacingAndGlyphs">when</text>
<rect x="107.3" y="37.0" width="47.7" height="11.2" rx="3.5" ry="3.5" fill="#FDE2BB"/><text x="111.6" y="45.4" font-size="10.9" fill="#2e2228" stroke="#2e2228" stroke-width="0.42" textLength="28.19" lengthAdjust="spacingAndGlyphs">Web2</text><path d="M 145.2,41.300000000000004 h 3.8 l -1.9,2.7 Z" fill="#F9A12C"/>
<text x="158.7" y="45.6" font-size="10.9" fill="#fff" stroke="#fff" stroke-width="0.15" textLength="40.28" lengthAdjust="spacingAndGlyphs">.Got Text</text>
<rect x="80.3" y="54.9" width="18.999999999999993" height="11.3" rx="3.5" ry="3.5" fill="#DE8F6E" stroke="#E9AE98" stroke-width="0.8"/><text x="84.4" y="64.0" font-size="10.9" fill="#151515" stroke="#151515" stroke-width="0.42" textLength="11.61" lengthAdjust="spacingAndGlyphs">url</text>
<rect x="109.89999999999999" y="54.9" width="79.70000000000002" height="11.3" rx="3.5" ry="3.5" fill="#DE8F6E" stroke="#E9AE98" stroke-width="0.8"/><text x="114.0" y="64.0" font-size="10.9" fill="#151515" stroke="#151515" stroke-width="0.42" textLength="75.23" lengthAdjust="spacingAndGlyphs">response Code</text>
<rect x="200.8" y="54.9" width="77.79999999999998" height="11.3" rx="3.5" ry="3.5" fill="#DE8F6E" stroke="#E9AE98" stroke-width="0.8"/><text x="204.0" y="64.0" font-size="10.9" fill="#151515" stroke="#151515" stroke-width="0.42" textLength="71.62" lengthAdjust="spacingAndGlyphs">response Type</text>
<rect x="288.7" y="54.9" width="91.80000000000004" height="11.3" rx="3.5" ry="3.5" fill="#DE8F6E" stroke="#E9AE98" stroke-width="0.8"/><text x="292.3" y="64.0" font-size="10.9" fill="#151515" stroke="#151515" stroke-width="0.42" textLength="87.79" lengthAdjust="spacingAndGlyphs">response Content</text>
<text x="73.6" y="82.8" font-size="10.9" fill="#fff" stroke="#fff" stroke-width="0.15" textLength="12.23" lengthAdjust="spacingAndGlyphs">do</text>
<path d="M 93.2,75.19999999999999 a 4.6,4.6 0 0 1 4.6,-4.6 H 104.45 l 4.5,3.0 l 2.25,0 l 4.5,-3.0 H 332.0 V 89.6 H 115.7 l -4.5,3.0 l -2.25,0 l -4.5,-3.0 H 93.2 Z" fill="#388E3C"/><path d="M 331.6,70.6 V 89.19999999999999 H 115.7 l -4.5,3.0 l -2.25,0 l -4.5,-3.0 H 93.2" fill="none" stroke="#307a34" stroke-width="0.8"/><path d="M 93.60000000000001,89.6 V 75.19999999999999 a 4.199999999999999,4.199999999999999 0 0 1 4.199999999999999,-4.199999999999999 H 104.45 l 4.5,3.0 l 2.25,0 l 4.5,-3.0 H 331.2" fill="none" stroke="#70ae73" stroke-width="0.8"/>
<text x="101.3" y="83.6" font-size="10.9" fill="#fff" stroke="#fff" stroke-width="0.15" textLength="14.49" lengthAdjust="spacingAndGlyphs">set</text>
<rect x="122.0" y="74.4" width="113.4" height="11.6" rx="3.5" ry="3.5" fill="#A9D2AB"/><text x="125.7" y="83.4" font-size="10.9" fill="#151515" stroke="#151515" stroke-width="0.42" textLength="94.99" lengthAdjust="spacingAndGlyphs">Circular_Progress1</text><path d="M 228.0,78.10000000000001 h 3.8 l -1.9,2.7 Z" fill="#388E3C"/>
<text x="240.3" y="83.6" font-size="10.9" fill="#fff" stroke="#fff" stroke-width="0.15" textLength="1.39" lengthAdjust="spacingAndGlyphs">.</text>
<rect x="246.2" y="74.4" width="54.2" height="11.6" rx="3.5" ry="3.5" fill="#A9D2AB"/><text x="250.6" y="83.4" font-size="10.9" fill="#151515" stroke="#151515" stroke-width="0.42" textLength="31.78" lengthAdjust="spacingAndGlyphs">Visible</text><path d="M 288.5,78.10000000000001 h 3.8 l -1.9,2.7 Z" fill="#388E3C"/>
<text x="307.3" y="83.6" font-size="10.9" fill="#fff" stroke="#fff" stroke-width="0.15" textLength="8.69" lengthAdjust="spacingAndGlyphs">to</text>
<path d="M 331.6,70.6 H 383.0 V 89.6 H 331.6 V 85.6 c 0,-7.500 -6.000,6.000 -6.000,-5.625 s 6.000,1.875 6.000,-5.625 Z" fill="#3E9541"/><path d="M 382.6,70.6 V 89.19999999999999 H 331.6" fill="none" stroke="#358038" stroke-width="0.8"/><path d="M 331.6,71.0 H 382.2" fill="none" stroke="#74b376" stroke-width="0.8"/>
<path d="M 331.6,85.6 c 0,-7.500 -6.000,6.000 -6.000,-5.625 s 6.000,1.875 6.000,-5.625" fill="none" stroke="#7cc47e" stroke-width="0.7" stroke-dasharray="0.9,0.9" opacity="0.9"/><path d="M 332.0,70.6 V 89.6" fill="none" stroke="#7cc47e" stroke-width="0.8" opacity="0.8"/>
<rect x="334.8" y="74.4" width="44.3" height="11.6" rx="3.5" ry="3.5" fill="#A9D2AB"/><text x="338.5" y="83.4" font-size="10.9" fill="#151515" stroke="#151515" stroke-width="0.42" textLength="23.23" lengthAdjust="spacingAndGlyphs">false</text><path d="M 368.70000000000005,78.10000000000001 h 3.8 l -1.9,2.7 Z" fill="#388E3C"/>
<path d="M 93.2,89.6 H 104.45 l 4.5,3.0 l 2.25,0 l 4.5,-3.0 H 208.5 V 108.5 H 115.7 l -4.5,3.0 l -2.25,0 l -4.5,-3.0 H 93.2 Z" fill="#F4511E"/><path d="M 208.1,89.6 V 108.1 H 115.7 l -4.5,3.0 l -2.25,0 l -4.5,-3.0 H 93.2" fill="none" stroke="#d2461a" stroke-width="0.8"/><path d="M 93.60000000000001,108.5 V 90.0 H 104.45 l 4.5,3.0 l 2.25,0 l 4.5,-3.0 H 207.7" fill="none" stroke="#f7825d" stroke-width="0.8"/>
<text x="101.3" y="102.3" font-size="10.9" fill="#fff" stroke="#fff" stroke-width="0.15" textLength="14.69" lengthAdjust="spacingAndGlyphs">set</text>
<rect x="119.4" y="93.5" width="62.4" height="11.4" rx="3.5" ry="3.5" fill="#FCAF98"/><text x="123.7" y="102.4" font-size="10.9" fill="#151515" stroke="#151515" stroke-width="0.42" textLength="46.89" lengthAdjust="spacingAndGlyphs">global list</text><path d="M 175.5,97.10000000000001 h 3.8 l -1.9,2.7 Z" fill="#F4511E"/>
<text x="186.1" y="102.3" font-size="10.9" fill="#fff" stroke="#fff" stroke-width="0.15" textLength="8.39" lengthAdjust="spacingAndGlyphs">to</text>
<path d="M 208.5,89.6 H 338.9 V 108.3 H 208.5 V 104.6 c 0,-7.500 -6.000,6.000 -6.000,-5.625 s 6.000,1.875 6.000,-5.625 Z" fill="#049BE5"/><path d="M 338.5,89.6 V 107.89999999999999 H 208.5" fill="none" stroke="#0385c5" stroke-width="0.8"/><path d="M 208.5,90.0 H 338.09999999999997" fill="none" stroke="#4ab7ec" stroke-width="0.8"/>
<text x="216.3" y="102.4" font-size="10.9" fill="#fff" stroke="#fff" stroke-width="0.15" textLength="84.29" lengthAdjust="spacingAndGlyphs">list from csv table</text>
<text x="307.1" y="102.4" font-size="10.9" fill="#fff" stroke="#fff" stroke-width="0.15" textLength="15.92" lengthAdjust="spacingAndGlyphs">text</text>
<path d="M 338.9,89.8 H 472.59999999999997 V 108.4 H 338.9 V 104.8 c 0,-7.500 -6.000,6.000 -6.000,-5.625 s 6.000,1.875 6.000,-5.625 Z" fill="#F4511E"/><path d="M 472.2,89.8 V 108.0 H 338.9" fill="none" stroke="#d2461a" stroke-width="0.8"/><path d="M 338.9,90.2 H 471.79999999999995" fill="none" stroke="#f7825d" stroke-width="0.8"/>
<text x="345.9" y="102.6" font-size="10.9" fill="#fff" stroke="#fff" stroke-width="0.15" textLength="14.70" lengthAdjust="spacingAndGlyphs">get</text>
<rect x="364.5" y="93.6" width="103.5" height="11.4" rx="3.5" ry="3.5" fill="#FCAF98"/><text x="368.4" y="102.5" font-size="10.9" fill="#151515" stroke="#151515" stroke-width="0.42" textLength="87.69" lengthAdjust="spacingAndGlyphs">response Content</text><path d="M 461.6,97.0 h 3.8 l -1.9,2.7 Z" fill="#F4511E"/>
<path d="M 93.2,108.5 H 104.45 l 4.5,3.0 l 2.25,0 l 4.5,-3.0 H 206.5 V 147.0 H 115.7 l -4.5,3.0 l -2.25,0 l -4.5,-3.0 H 93.2 Z" fill="#049BE5"/><path d="M 206.1,108.5 V 146.6 H 115.7 l -4.5,3.0 l -2.25,0 l -4.5,-3.0 H 93.2" fill="none" stroke="#0385c5" stroke-width="0.8"/><path d="M 93.60000000000001,147.0 V 108.9 H 104.45 l 4.5,3.0 l 2.25,0 l 4.5,-3.0 H 205.7" fill="none" stroke="#4ab7ec" stroke-width="0.8"/>
<text x="101.3" y="121.5" font-size="10.9" fill="#fff" stroke="#fff" stroke-width="0.15" textLength="77.02" lengthAdjust="spacingAndGlyphs">remove list item</text>
<text x="184.3" y="121.5" font-size="10.9" fill="#fff" stroke="#fff" stroke-width="0.15" textLength="14.23" lengthAdjust="spacingAndGlyphs">list</text>
<text x="166.4" y="140.6" font-size="10.9" fill="#fff" stroke="#fff" stroke-width="0.15" textLength="25.51" lengthAdjust="spacingAndGlyphs">index</text>
<path d="M 206.5,109.0 H 298.8 V 127.4 H 206.5 V 124.0 c 0,-7.500 -6.000,6.000 -6.000,-5.625 s 6.000,1.875 6.000,-5.625 Z" fill="#F4511E"/><path d="M 298.40000000000003,109.0 V 127.0 H 206.5" fill="none" stroke="#d2461a" stroke-width="0.8"/><path d="M 206.5,109.4 H 298.0" fill="none" stroke="#f7825d" stroke-width="0.8"/>
<text x="213.7" y="121.8" font-size="10.9" fill="#fff" stroke="#fff" stroke-width="0.15" textLength="14.50" lengthAdjust="spacingAndGlyphs">get</text>
<rect x="231.9" y="112.6" width="62.8" height="11.1" rx="3.5" ry="3.5" fill="#FCAF98"/><text x="236.2" y="121.5" font-size="10.9" fill="#151515" stroke="#151515" stroke-width="0.42" textLength="46.89" lengthAdjust="spacingAndGlyphs">global list</text><path d="M 288.20000000000005,116.3 h 3.8 l -1.9,2.7 Z" fill="#F4511E"/>
<path d="M 206.5,128.6 H 227.4 V 146.5 H 206.5 V 143.6 c 0,-7.500 -6.000,6.000 -6.000,-5.625 s 6.000,1.875 6.000,-5.625 Z" fill="#3F4FB4"/><path d="M 227.0,128.6 V 146.1 H 206.5" fill="none" stroke="#36449b" stroke-width="0.8"/><path d="M 206.5,129.0 H 226.6" fill="none" stroke="#7580c9" stroke-width="0.8"/>
<rect x="209.8" y="131.8" width="12.8" height="11.1" rx="3.5" ry="3.5" fill="#B7BEE6"/><text x="213.3" y="140.5" font-size="10.9" fill="#151515" stroke="#151515" stroke-width="0.42">1</text>
<path d="M 93.0,147.0 H 104.25 l 4.5,3.0 l 2.25,0 l 4.5,-3.0 H 212.3 V 166.5 H 143.2 l -4.5,3.0 l -2.25,0 l -4.5,-3.0 H 125.3 a 4.6,4.6 0 0 0 -4.6,4.6 V 378.0 H 212.3 V 386.1 H 115.5 l -4.5,3.0 l -2.25,0 l -4.5,-3.0 H 97.6 a 4.6,4.6 0 0 1 -4.6,-4.6 Z" fill="#FFAA00"/><path d="M 211.9,147.0 V 166.1" fill="none" stroke="#db9200" stroke-width="0.8"/><path d="M 120.3,171.1 V 378.0" fill="none" stroke="#f5a300" stroke-width="0.8"/><path d="M 211.9,378.0 V 385.70000000000005 H 115.5 l -4.5,3.0 l -2.25,0 l -4.5,-3.0 H 97.6" fill="none" stroke="#db9200" stroke-width="0.8"/><path d="M 93.4,381.5 V 147.4 H 104.25 l 4.5,3.0 l 2.25,0 l 4.5,-3.0 H 211.5" fill="none" stroke="#ffc247" stroke-width="0.8"/><path d="M 120.7,378.4 H 211.5" fill="none" stroke="#ffc247" stroke-width="0.8"/>
<text x="101.1" y="159.7" font-size="10.9" fill="#fff" stroke="#fff" stroke-width="0.15" textLength="38.38" lengthAdjust="spacingAndGlyphs">for each</text>
<rect x="145.0" y="151.3" width="25.9" height="10.2" rx="3.5" ry="3.5" fill="#DE8F6E" stroke="#E9AE98" stroke-width="0.8"/><text x="148.2" y="159.7" font-size="10.9" fill="#151515" stroke="#151515" stroke-width="0.42" textLength="21.19" lengthAdjust="spacingAndGlyphs">item</text>
<text x="174.7" y="159.7" font-size="10.9" fill="#fff" stroke="#fff" stroke-width="0.15" textLength="25.18" lengthAdjust="spacingAndGlyphs">in list</text>
<text x="101.3" y="178.2" font-size="10.9" fill="#fff" stroke="#fff" stroke-width="0.15" textLength="11.72" lengthAdjust="spacingAndGlyphs">do</text>
<path d="M 212.3,147.3 H 305.0 V 166.10000000000002 H 212.3 V 162.3 c 0,-7.500 -6.000,6.000 -6.000,-5.625 s 6.000,1.875 6.000,-5.625 Z" fill="#F4511E"/><path d="M 304.6,147.3 V 165.70000000000002 H 212.3" fill="none" stroke="#d2461a" stroke-width="0.8"/><path d="M 212.3,147.70000000000002 H 304.2" fill="none" stroke="#f7825d" stroke-width="0.8"/>
<text x="219.6" y="160.0" font-size="10.9" fill="#fff" stroke="#fff" stroke-width="0.15" textLength="15.40" lengthAdjust="spacingAndGlyphs">get</text>
<rect x="237.9" y="150.8" width="62.7" height="11.0" rx="3.5" ry="3.5" fill="#FCAF98"/><text x="241.3" y="159.8" font-size="10.9" fill="#151515" stroke="#151515" stroke-width="0.42" textLength="46.79" lengthAdjust="spacingAndGlyphs">global list</text><path d="M 294.40000000000003,154.7 h 3.8 l -1.9,2.7 Z" fill="#F4511E"/>
<path d="M 120.8,171.1 a 4.6,4.6 0 0 1 4.6,-4.6 H 132.05 l 4.5,3.0 l 2.25,0 l 4.5,-3.0 H 368.4 V 375.9 H 143.3 l -4.5,3.0 l -2.25,0 l -4.5,-3.0 H 125.39999999999999 a 4.6,4.6 0 0 1 -4.6,-4.6 Z" fill="#5D35AE"/><path d="M 368.0,166.5 V 375.5 H 143.3 l -4.5,3.0 l -2.25,0 l -4.5,-3.0 H 125.39999999999999" fill="none" stroke="#502e96" stroke-width="0.8"/><path d="M 121.2,371.29999999999995 V 171.1 a 4.199999999999999,4.199999999999999 0 0 1 4.199999999999999,-4.199999999999999 H 132.05 l 4.5,3.0 l 2.25,0 l 4.5,-3.0 H 367.59999999999997" fill="none" stroke="#8a6ec5" stroke-width="0.8"/>
<text x="127.9" y="178.9" font-size="10.9" fill="#fff" stroke="#fff" stroke-width="0.15" textLength="16.51" lengthAdjust="spacingAndGlyphs">call</text>
<rect x="150.4" y="170.0" width="155.7" height="11.6" rx="3.5" ry="3.5" fill="#BBA8E0"/><text x="155.2" y="178.9" font-size="10.9" fill="#151515" stroke="#151515" stroke-width="0.42" textLength="138.78" lengthAdjust="spacingAndGlyphs">List_View_Image_and_Text1</text><path d="M 300.40000000000003,173.89999999999998 h 3.8 l -1.9,2.7 Z" fill="#5D35AE"/>
<text x="310.8" y="179.0" font-size="10.9" fill="#fff" stroke="#fff" stroke-width="0.15" textLength="44.20" lengthAdjust="spacingAndGlyphs">.Add Item</text>
<text x="327.0" y="197.4" font-size="10.9" fill="#fff" stroke="#fff" stroke-width="0.15" textLength="30.89" lengthAdjust="spacingAndGlyphs">image</text>
<text x="338.3" y="236.2" font-size="10.9" fill="#fff" stroke="#fff" stroke-width="0.15" textLength="16.61" lengthAdjust="spacingAndGlyphs">title</text>
<text x="320.8" y="274.2" font-size="10.9" fill="#fff" stroke="#fff" stroke-width="0.15" textLength="35.38" lengthAdjust="spacingAndGlyphs">subtitle</text>
<path d="M 368.4,184.9 H 474.2 V 222.8 H 368.4 V 199.9 c 0,-7.500 -6.000,6.000 -6.000,-5.625 s 6.000,1.875 6.000,-5.625 Z" fill="#049BE5"/><path d="M 473.8,184.9 V 222.4 H 368.4" fill="none" stroke="#0385c5" stroke-width="0.8"/><path d="M 368.4,185.3 H 473.4" fill="none" stroke="#4ab7ec" stroke-width="0.8"/>
<text x="376.5" y="197.65" font-size="10.9" fill="#fff" stroke="#fff" stroke-width="0.15" textLength="69.19" lengthAdjust="spacingAndGlyphs">select list item</text>
<text x="452.3" y="197.65" font-size="10.9" fill="#fff" stroke="#fff" stroke-width="0.15" textLength="13.42" lengthAdjust="spacingAndGlyphs">list</text>
<text x="435.3" y="216.5" font-size="10.9" fill="#fff" stroke="#fff" stroke-width="0.15" textLength="25.41" lengthAdjust="spacingAndGlyphs">index</text>
<path d="M 474.2,184.9 H 542.7 V 203.3 H 474.2 V 199.9 c 0,-7.500 -6.000,6.000 -6.000,-5.625 s 6.000,1.875 6.000,-5.625 Z" fill="#F4511E"/><path d="M 542.3000000000001,184.9 V 202.9 H 474.2" fill="none" stroke="#d2461a" stroke-width="0.8"/><path d="M 474.2,185.3 H 541.9000000000001" fill="none" stroke="#f7825d" stroke-width="0.8"/>
<text x="481.6" y="197.9" font-size="10.9" fill="#fff" stroke="#fff" stroke-width="0.15" textLength="14.80" lengthAdjust="spacingAndGlyphs">get</text>
<rect x="500.4" y="188.5" width="37.6" height="11.2" rx="3.5" ry="3.5" fill="#FCAF98"/><text x="503.9" y="197.6" font-size="10.9" fill="#151515" stroke="#151515" stroke-width="0.42" textLength="20.69" lengthAdjust="spacingAndGlyphs">item</text><path d="M 530.7,192.29999999999998 h 3.8 l -1.9,2.7 Z" fill="#F4511E"/>
<path d="M 474.2,204.4 H 495.3 V 222.3 H 474.2 V 219.4 c 0,-7.500 -6.000,6.000 -6.000,-5.625 s 6.000,1.875 6.000,-5.625 Z" fill="#3F4FB4"/><path d="M 494.90000000000003,204.4 V 221.9 H 474.2" fill="none" stroke="#36449b" stroke-width="0.8"/><path d="M 474.2,204.8 H 494.5" fill="none" stroke="#7580c9" stroke-width="0.8"/>
<rect x="478.0" y="207.4" width="13.2" height="11.9" rx="3.5" ry="3.5" fill="#B7BEE6"/><text x="481.0" y="216.9" font-size="10.9" fill="#151515" stroke="#151515" stroke-width="0.42">8</text>
<path d="M 368.4,222.8 H 474.2 V 261.0 H 368.4 V 237.8 c 0,-7.500 -6.000,6.000 -6.000,-5.625 s 6.000,1.875 6.000,-5.625 Z" fill="#049BE5"/><path d="M 473.8,222.8 V 260.6 H 368.4" fill="none" stroke="#0385c5" stroke-width="0.8"/><path d="M 368.4,223.20000000000002 H 473.4" fill="none" stroke="#4ab7ec" stroke-width="0.8"/>
<text x="376.5" y="235.55" font-size="10.9" fill="#fff" stroke="#fff" stroke-width="0.15" textLength="69.19" lengthAdjust="spacingAndGlyphs">select list item</text>
<text x="452.3" y="235.55" font-size="10.9" fill="#fff" stroke="#fff" stroke-width="0.15" textLength="13.42" lengthAdjust="spacingAndGlyphs">list</text>
<text x="435.3" y="254.4" font-size="10.9" fill="#fff" stroke="#fff" stroke-width="0.15" textLength="25.41" lengthAdjust="spacingAndGlyphs">index</text>
<path d="M 474.2,222.8 H 542.7 V 241.20000000000002 H 474.2 V 237.8 c 0,-7.500 -6.000,6.000 -6.000,-5.625 s 6.000,1.875 6.000,-5.625 Z" fill="#F4511E"/><path d="M 542.3000000000001,222.8 V 240.8 H 474.2" fill="none" stroke="#d2461a" stroke-width="0.8"/><path d="M 474.2,223.20000000000002 H 541.9000000000001" fill="none" stroke="#f7825d" stroke-width="0.8"/>
<text x="481.6" y="235.8" font-size="10.9" fill="#fff" stroke="#fff" stroke-width="0.15" textLength="14.80" lengthAdjust="spacingAndGlyphs">get</text>
<rect x="500.4" y="226.4" width="37.6" height="11.2" rx="3.5" ry="3.5" fill="#FCAF98"/><text x="503.9" y="235.5" font-size="10.9" fill="#151515" stroke="#151515" stroke-width="0.42" textLength="20.69" lengthAdjust="spacingAndGlyphs">item</text><path d="M 530.7,230.2 h 3.8 l -1.9,2.7 Z" fill="#F4511E"/>
<path d="M 474.2,242.3 H 495.3 V 260.2 H 474.2 V 257.3 c 0,-7.500 -6.000,6.000 -6.000,-5.625 s 6.000,1.875 6.000,-5.625 Z" fill="#3F4FB4"/><path d="M 494.90000000000003,242.3 V 259.8 H 474.2" fill="none" stroke="#36449b" stroke-width="0.8"/><path d="M 474.2,242.70000000000002 H 494.5" fill="none" stroke="#7580c9" stroke-width="0.8"/>
<rect x="478.0" y="245.3" width="13.2" height="11.9" rx="3.5" ry="3.5" fill="#B7BEE6"/><text x="481.0" y="254.8" font-size="10.9" fill="#151515" stroke="#151515" stroke-width="0.42">2</text>
<path d="M 368.4,261.0 H 429.0 V 376.4 H 368.4 V 276.0 c 0,-7.500 -6.000,6.000 -6.000,-5.625 s 6.000,1.875 6.000,-5.625 Z" fill="#D81B60"/><path d="M 428.6,261.0 V 376.0 H 368.4" fill="none" stroke="#ba1753" stroke-width="0.8"/><path d="M 368.4,261.4 H 428.2" fill="none" stroke="#e35b8d" stroke-width="0.8"/>
<rect x="375.8" y="265.2" width="11.5" height="11.5" rx="2.2" fill="#5220CB" stroke="#E77DAE" stroke-width="0.7"/><polygon points="381.55,268.35 383.80,269.65 383.80,272.25 381.55,273.55 379.30,272.25 379.30,269.65" fill="none" stroke="#F0A6C8" stroke-width="1.3"/><circle cx="381.55" cy="267.65" r="0.75" fill="#F0A6C8"/><circle cx="384.41" cy="269.30" r="0.75" fill="#F0A6C8"/><circle cx="384.41" cy="272.60" r="0.75" fill="#F0A6C8"/><circle cx="381.55" cy="274.25" r="0.75" fill="#F0A6C8"/><circle cx="378.69" cy="272.60" r="0.75" fill="#F0A6C8"/><circle cx="378.69" cy="269.30" r="0.75" fill="#F0A6C8"/>
<text x="395.68" y="274.2" font-size="10.9" fill="#fff" stroke="#fff" stroke-width="0.15" textLength="17.44" lengthAdjust="spacingAndGlyphs">join</text>
<path d="M 429.0,261.6 H 525.0 V 280.5 H 429.0 V 276.6 c 0,-7.500 -6.000,6.000 -6.000,-5.625 s 6.000,1.875 6.000,-5.625 Z" fill="#D81B60"/><path d="M 524.6,261.6 V 280.1 H 429.0" fill="none" stroke="#ba1753" stroke-width="0.8"/><path d="M 429.0,262.0 H 524.2" fill="none" stroke="#e35b8d" stroke-width="0.8"/>
<path d="M 429.0,276.6 c 0,-7.500 -6.000,6.000 -6.000,-5.625 s 6.000,1.875 6.000,-5.625" fill="none" stroke="#ec7aa3" stroke-width="0.7" stroke-dasharray="0.9,0.9" opacity="0.9"/>
<ellipse cx="438.3" cy="267.7" rx="1.7" ry="1.3" fill="#F7C4D8"/>
<rect x="444.1" y="265.6" width="66.2" height="11.3" rx="3.5" ry="3.5" fill="#EE93B5"/><text x="447.9" y="274.3" font-size="10.9" fill="#151515" stroke="#151515" stroke-width="0.42" textLength="52.52" lengthAdjust="spacingAndGlyphs">PERIODE :</text>
<ellipse cx="515.9" cy="267.5" rx="1.7" ry="1.3" fill="#F7C4D8"/>
<path d="M 428.8,280.8 H 535.2 V 319.1 H 428.8 V 295.8 c 0,-7.500 -6.000,6.000 -6.000,-5.625 s 6.000,1.875 6.000,-5.625 Z" fill="#049BE5"/><path d="M 534.8000000000001,280.8 V 318.70000000000005 H 428.8" fill="none" stroke="#0385c5" stroke-width="0.8"/><path d="M 428.8,281.2 H 534.4000000000001" fill="none" stroke="#4ab7ec" stroke-width="0.8"/>
<text x="437.0" y="293.55" font-size="10.9" fill="#fff" stroke="#fff" stroke-width="0.15" textLength="69.19" lengthAdjust="spacingAndGlyphs">select list item</text>
<text x="512.8" y="293.55" font-size="10.9" fill="#fff" stroke="#fff" stroke-width="0.15" textLength="13.42" lengthAdjust="spacingAndGlyphs">list</text>
<text x="495.8" y="312.40000000000003" font-size="10.9" fill="#fff" stroke="#fff" stroke-width="0.15" textLength="25.41" lengthAdjust="spacingAndGlyphs">index</text>
<path d="M 535.2,280.8 H 603.7 V 299.2 H 535.2 V 295.8 c 0,-7.500 -6.000,6.000 -6.000,-5.625 s 6.000,1.875 6.000,-5.625 Z" fill="#F4511E"/><path d="M 603.3000000000001,280.8 V 298.8 H 535.2" fill="none" stroke="#d2461a" stroke-width="0.8"/><path d="M 535.2,281.2 H 602.9000000000001" fill="none" stroke="#f7825d" stroke-width="0.8"/>
<text x="542.6" y="293.8" font-size="10.9" fill="#fff" stroke="#fff" stroke-width="0.15" textLength="14.80" lengthAdjust="spacingAndGlyphs">get</text>
<rect x="561.4000000000001" y="284.40000000000003" width="37.6" height="11.2" rx="3.5" ry="3.5" fill="#FCAF98"/><text x="564.9" y="293.5" font-size="10.9" fill="#151515" stroke="#151515" stroke-width="0.42" textLength="20.69" lengthAdjust="spacingAndGlyphs">item</text><path d="M 591.7,288.2 h 3.8 l -1.9,2.7 Z" fill="#F4511E"/>
<path d="M 535.2,300.3 H 556.3000000000001 V 318.2 H 535.2 V 315.3 c 0,-7.500 -6.000,6.000 -6.000,-5.625 s 6.000,1.875 6.000,-5.625 Z" fill="#3F4FB4"/><path d="M 555.9000000000001,300.3 V 317.8 H 535.2" fill="none" stroke="#36449b" stroke-width="0.8"/><path d="M 535.2,300.7 H 555.5000000000001" fill="none" stroke="#7580c9" stroke-width="0.8"/>
<rect x="539.0" y="303.3" width="13.2" height="11.9" rx="3.5" ry="3.5" fill="#B7BEE6"/><text x="542.0" y="312.8" font-size="10.9" fill="#151515" stroke="#151515" stroke-width="0.42">5</text>
<path d="M 429.0,319.2 H 487.7 V 336.8 H 429.0 V 334.2 c 0,-7.500 -6.000,6.000 -6.000,-5.625 s 6.000,1.875 6.000,-5.625 Z" fill="#D81B60"/><path d="M 487.3,319.2 V 336.40000000000003 H 429.0" fill="none" stroke="#ba1753" stroke-width="0.8"/><path d="M 429.0,319.59999999999997 H 486.9" fill="none" stroke="#e35b8d" stroke-width="0.8"/>
<path d="M 429.0,334.1 c 0,-7.500 -6.000,6.000 -6.000,-5.625 s 6.000,1.875 6.000,-5.625" fill="none" stroke="#ec7aa3" stroke-width="0.7" stroke-dasharray="0.9,0.9" opacity="0.9"/>
<ellipse cx="438.3" cy="324.6" rx="1.7" ry="1.3" fill="#F7C4D8"/>
<rect x="444.4" y="322.8" width="27.8" height="11.2" rx="3.5" ry="3.5" fill="#EE93B5"/><text x="451.3" y="331.5" font-size="10.9" fill="#151515" stroke="#151515" stroke-width="0.42" textLength="14.59" lengthAdjust="spacingAndGlyphs">s/d</text>
<ellipse cx="477.5" cy="324.6" rx="1.7" ry="1.3" fill="#F7C4D8"/>
<path d="M 428.8,338.1 H 535.2 V 376.40000000000003 H 428.8 V 353.1 c 0,-7.500 -6.000,6.000 -6.000,-5.625 s 6.000,1.875 6.000,-5.625 Z" fill="#049BE5"/><path d="M 534.8000000000001,338.1 V 376.00000000000006 H 428.8" fill="none" stroke="#0385c5" stroke-width="0.8"/><path d="M 428.8,338.5 H 534.4000000000001" fill="none" stroke="#4ab7ec" stroke-width="0.8"/>
<text x="437.0" y="350.85" font-size="10.9" fill="#fff" stroke="#fff" stroke-width="0.15" textLength="69.19" lengthAdjust="spacingAndGlyphs">select list item</text>
<text x="512.8" y="350.85" font-size="10.9" fill="#fff" stroke="#fff" stroke-width="0.15" textLength="13.42" lengthAdjust="spacingAndGlyphs">list</text>
<text x="495.8" y="370.1" font-size="10.9" fill="#fff" stroke="#fff" stroke-width="0.15" textLength="25.41" lengthAdjust="spacingAndGlyphs">index</text>
<path d="M 535.2,338.1 H 603.7 V 356.8 H 535.2 V 353.1 c 0,-7.500 -6.000,6.000 -6.000,-5.625 s 6.000,1.875 6.000,-5.625 Z" fill="#F4511E"/><path d="M 603.3000000000001,338.1 V 356.40000000000003 H 535.2" fill="none" stroke="#d2461a" stroke-width="0.8"/><path d="M 535.2,338.5 H 602.9000000000001" fill="none" stroke="#f7825d" stroke-width="0.8"/>
<text x="542.6" y="351.1" font-size="10.9" fill="#fff" stroke="#fff" stroke-width="0.15" textLength="14.80" lengthAdjust="spacingAndGlyphs">get</text>
<rect x="561.4000000000001" y="341.70000000000005" width="37.6" height="11.2" rx="3.5" ry="3.5" fill="#FCAF98"/><text x="564.9" y="350.8" font-size="10.9" fill="#151515" stroke="#151515" stroke-width="0.42" textLength="20.69" lengthAdjust="spacingAndGlyphs">item</text><path d="M 591.7,345.5 h 3.8 l -1.9,2.7 Z" fill="#F4511E"/>
<path d="M 535.2,358.0 H 556.3000000000001 V 376.4 H 535.2 V 373.0 c 0,-7.500 -6.000,6.000 -6.000,-5.625 s 6.000,1.875 6.000,-5.625 Z" fill="#3F4FB4"/><path d="M 555.9000000000001,358.0 V 376.0 H 535.2" fill="none" stroke="#36449b" stroke-width="0.8"/><path d="M 535.2,358.4 H 555.5000000000001" fill="none" stroke="#7580c9" stroke-width="0.8"/>
<rect x="539.0" y="361.0" width="13.2" height="11.9" rx="3.5" ry="3.5" fill="#B7BEE6"/><text x="542.0" y="370.5" font-size="10.9" fill="#151515" stroke="#151515" stroke-width="0.42">6</text>
<path d="M 1.5,321 L 10.5,329.8 L -8,329.8 Z" fill="#e6e6e6" stroke="#555" stroke-width="1"/>
<path d="M 1.5,363 L 10.5,354.5 L -8,354.5 Z" fill="#e6e6e6" stroke="#555" stroke-width="1"/>
<circle cx="-1.7" cy="342" r="7" fill="#EF6A43"/>
<path d="M -2.6,339.2 l 5.6,5.6 M 3.0,339.2 l -5.6,5.6" stroke="#fff" stroke-width="1.7"/>
<text x="8.7" y="348.1" font-size="12.6" fill="#2a2a2a" stroke="#2a2a2a" stroke-width="0.4">0</text>
<rect x="-10" y="366.6" width="37" height="17.6" fill="#ececec" stroke="#666" stroke-width="1.1"/>
<text x="13.9" y="380.0" font-size="13" fill="#2a2a2a" stroke="#2a2a2a" stroke-width="0.3" text-anchor="end">ngs</text>
</svg>
</body></html>
